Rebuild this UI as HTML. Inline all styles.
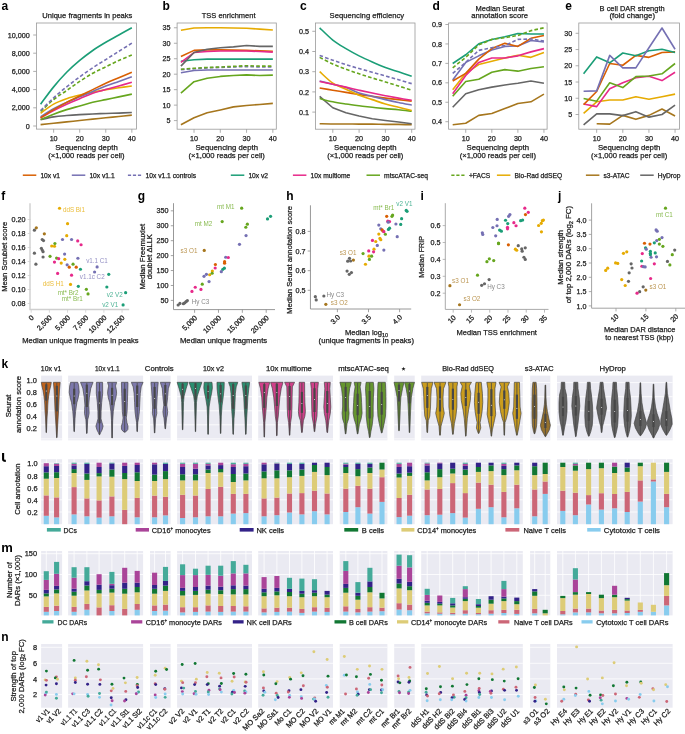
<!DOCTYPE html>
<html><head><meta charset="utf-8"><style>
html,body{margin:0;padding:0;background:#fff;}
svg{display:block;}
text{font-family:"Liberation Sans",sans-serif;}
#fig text:not([fill]){stroke:#1c1c1c;stroke-width:0.25px;}
#wrap{will-change:transform;width:685px;height:734px;overflow:hidden;}
</style></head><body>
<div id="wrap">
<svg id="fig" width="685" height="734" viewBox="0 0 685 734" font-family="Liberation Sans, sans-serif" font-size="7.4" fill="#1c1c1c">
<rect width="685" height="734" fill="#fff"/>
<rect x="36.4" y="23" width="100.1" height="106.1" fill="none" stroke="#9a9a9a" stroke-width="0.8"/>
<line x1="33.2" y1="126" x2="36.4" y2="126" stroke="#9a9a9a" stroke-width="0.8"/>
<text x="29.8" y="128.6" text-anchor="end" font-size="7.2">0</text>
<line x1="33.2" y1="107.8" x2="36.4" y2="107.8" stroke="#9a9a9a" stroke-width="0.8"/>
<text x="29.8" y="110.4" text-anchor="end" font-size="7.2">2,000</text>
<line x1="33.2" y1="89.6" x2="36.4" y2="89.6" stroke="#9a9a9a" stroke-width="0.8"/>
<text x="29.8" y="92.2" text-anchor="end" font-size="7.2">4,000</text>
<line x1="33.2" y1="71.4" x2="36.4" y2="71.4" stroke="#9a9a9a" stroke-width="0.8"/>
<text x="29.8" y="74" text-anchor="end" font-size="7.2">6,000</text>
<line x1="33.2" y1="53.2" x2="36.4" y2="53.2" stroke="#9a9a9a" stroke-width="0.8"/>
<text x="29.8" y="55.8" text-anchor="end" font-size="7.2">8,000</text>
<line x1="33.2" y1="35" x2="36.4" y2="35" stroke="#9a9a9a" stroke-width="0.8"/>
<text x="29.8" y="37.6" text-anchor="end" font-size="7.2">10,000</text>
<line x1="53.64" y1="129.1" x2="53.64" y2="132.7" stroke="#9a9a9a" stroke-width="0.8"/>
<text x="53.64" y="141" text-anchor="middle" font-size="7.2">10</text>
<line x1="79.71" y1="129.1" x2="79.71" y2="132.7" stroke="#9a9a9a" stroke-width="0.8"/>
<text x="79.71" y="141" text-anchor="middle" font-size="7.2">20</text>
<line x1="105.78" y1="129.1" x2="105.78" y2="132.7" stroke="#9a9a9a" stroke-width="0.8"/>
<text x="105.78" y="141" text-anchor="middle" font-size="7.2">30</text>
<line x1="131.84" y1="129.1" x2="131.84" y2="132.7" stroke="#9a9a9a" stroke-width="0.8"/>
<text x="131.84" y="141" text-anchor="middle" font-size="7.2">40</text>
<text x="86.45" y="149.9" text-anchor="middle" font-size="7.75">Sequencing depth</text>
<text x="86.45" y="157.9" text-anchor="middle" font-size="7.6">(×1,000 reads per cell)</text>
<text x="42.3" y="18" textLength="90.1" lengthAdjust="spacingAndGlyphs" font-size="7.6">Unique fragments in peaks</text>
<path d="M40.6,124.64 C42.77,124.41 49.29,123.72 53.64,123.27 C57.98,122.81 62.33,122.36 66.67,121.91 C71.02,121.45 75.36,121 79.71,120.54 C84.05,120.09 88.4,119.63 92.74,119.17 C97.09,118.72 101.43,118.27 105.78,117.81 C110.12,117.36 114.47,116.9 118.81,116.44 C123.16,115.99 129.67,115.31 131.84,115.08" fill="none" stroke="#a6761d" stroke-width="1.6" stroke-linejoin="round"/>
<path d="M40.6,119.63 C42.77,119.17 49.29,117.58 53.64,116.9 C57.98,116.22 62.33,115.91 66.67,115.53 C71.02,115.16 75.36,114.88 79.71,114.62 C84.05,114.37 88.4,114.19 92.74,113.99 C97.09,113.79 101.43,113.59 105.78,113.44 C110.12,113.29 114.47,113.23 118.81,113.08 C123.16,112.93 129.67,112.62 131.84,112.53" fill="none" stroke="#666666" stroke-width="1.6" stroke-linejoin="round"/>
<path d="M40.6,119.63 C42.77,118.72 49.29,115.84 53.64,114.17 C57.98,112.5 62.33,110.98 66.67,109.62 C71.02,108.26 75.36,107.19 79.71,105.98 C84.05,104.77 88.4,103.4 92.74,102.34 C97.09,101.28 101.43,100.52 105.78,99.61 C110.12,98.7 114.47,97.79 118.81,96.88 C123.16,95.97 129.67,94.61 131.84,94.15" fill="none" stroke="#66a61e" stroke-width="1.6" stroke-linejoin="round"/>
<path d="M40.6,113.26 C42.77,111.74 49.29,106.59 53.64,104.16 C57.98,101.73 62.33,100.22 66.67,98.7 C71.02,97.18 75.36,96.12 79.71,95.06 C84.05,94 88.4,93.24 92.74,92.33 C97.09,91.42 101.43,90.36 105.78,89.6 C110.12,88.84 114.47,88.39 118.81,87.78 C123.16,87.17 129.67,86.26 131.84,85.96" fill="none" stroke="#e6ab02" stroke-width="1.6" stroke-linejoin="round"/>
<path d="M40.6,117.81 C42.77,116.6 49.29,112.81 53.64,110.53 C57.98,108.25 62.33,106.13 66.67,104.16 C71.02,102.19 75.36,100.52 79.71,98.7 C84.05,96.88 88.4,94.76 92.74,93.24 C97.09,91.72 101.43,90.81 105.78,89.6 C110.12,88.39 114.47,87.17 118.81,85.96 C123.16,84.75 129.67,82.93 131.84,82.32" fill="none" stroke="#e7298a" stroke-width="1.6" stroke-linejoin="round"/>
<path d="M40.6,116.9 C42.77,115.54 49.29,111.14 53.64,108.71 C57.98,106.28 62.33,104.31 66.67,102.34 C71.02,100.37 75.36,98.7 79.71,96.88 C84.05,95.06 88.4,93.24 92.74,91.42 C97.09,89.6 101.43,87.63 105.78,85.96 C110.12,84.29 114.47,82.93 118.81,81.41 C123.16,79.89 129.67,77.62 131.84,76.86" fill="none" stroke="#7570b3" stroke-width="1.6" stroke-linejoin="round"/>
<path d="M40.6,117.81 C42.77,116.45 49.29,112.2 53.64,109.62 C57.98,107.04 62.33,104.62 66.67,102.34 C71.02,100.06 75.36,98.09 79.71,95.97 C84.05,93.85 88.4,91.72 92.74,89.6 C97.09,87.48 101.43,85.2 105.78,83.23 C110.12,81.26 114.47,79.59 118.81,77.77 C123.16,75.95 129.67,73.22 131.84,72.31" fill="none" stroke="#d95f02" stroke-width="1.6" stroke-linejoin="round"/>
<path d="M40.6,111.44 C42.77,109.47 49.29,103.1 53.64,99.61 C57.98,96.12 62.33,93.54 66.67,90.51 C71.02,87.48 75.36,84.29 79.71,81.41 C84.05,78.53 88.4,75.65 92.74,73.22 C97.09,70.79 101.43,68.97 105.78,66.85 C110.12,64.73 114.47,62.45 118.81,60.48 C123.16,58.51 129.67,55.93 131.84,55.02" fill="none" stroke="#66a61e" stroke-width="1.6" stroke-linejoin="round" stroke-dasharray="3.6,2.2"/>
<path d="M40.6,110.53 C42.77,108.41 49.29,101.73 53.64,97.79 C57.98,93.85 62.33,90.36 66.67,86.87 C71.02,83.38 75.36,80.05 79.71,76.86 C84.05,73.67 88.4,70.64 92.74,67.76 C97.09,64.88 101.43,62.3 105.78,59.57 C110.12,56.84 114.47,54.11 118.81,51.38 C123.16,48.65 129.67,44.55 131.84,43.19" fill="none" stroke="#7570b3" stroke-width="1.6" stroke-linejoin="round" stroke-dasharray="3.6,2.2"/>
<path d="M40.6,104.16 C42.77,101.28 49.29,92.18 53.64,86.87 C57.98,81.56 62.33,76.71 66.67,72.31 C71.02,67.91 75.36,64.12 79.71,60.48 C84.05,56.84 88.4,53.5 92.74,50.47 C97.09,47.44 101.43,44.86 105.78,42.28 C110.12,39.7 114.47,37.43 118.81,35 C123.16,32.57 129.67,28.93 131.84,27.72" fill="none" stroke="#1b9e77" stroke-width="1.6" stroke-linejoin="round"/>
<text x="1.5" y="10.3" font-size="12" font-weight="bold" fill="#000">a</text>
<rect x="177.1" y="23" width="99.2" height="106.2" fill="none" stroke="#9a9a9a" stroke-width="0.8"/>
<line x1="173.9" y1="120.6" x2="177.1" y2="120.6" stroke="#9a9a9a" stroke-width="0.8"/>
<text x="170.5" y="123.2" text-anchor="end" font-size="7.2">5</text>
<line x1="173.9" y1="105.13" x2="177.1" y2="105.13" stroke="#9a9a9a" stroke-width="0.8"/>
<text x="170.5" y="107.73" text-anchor="end" font-size="7.2">10</text>
<line x1="173.9" y1="89.66" x2="177.1" y2="89.66" stroke="#9a9a9a" stroke-width="0.8"/>
<text x="170.5" y="92.26" text-anchor="end" font-size="7.2">15</text>
<line x1="173.9" y1="74.19" x2="177.1" y2="74.19" stroke="#9a9a9a" stroke-width="0.8"/>
<text x="170.5" y="76.79" text-anchor="end" font-size="7.2">20</text>
<line x1="173.9" y1="58.72" x2="177.1" y2="58.72" stroke="#9a9a9a" stroke-width="0.8"/>
<text x="170.5" y="61.32" text-anchor="end" font-size="7.2">25</text>
<line x1="173.9" y1="43.25" x2="177.1" y2="43.25" stroke="#9a9a9a" stroke-width="0.8"/>
<text x="170.5" y="45.85" text-anchor="end" font-size="7.2">30</text>
<line x1="173.9" y1="27.78" x2="177.1" y2="27.78" stroke="#9a9a9a" stroke-width="0.8"/>
<text x="170.5" y="30.38" text-anchor="end" font-size="7.2">35</text>
<line x1="194.03" y1="129.2" x2="194.03" y2="132.8" stroke="#9a9a9a" stroke-width="0.8"/>
<text x="194.03" y="141" text-anchor="middle" font-size="7.2">10</text>
<line x1="220.31" y1="129.2" x2="220.31" y2="132.8" stroke="#9a9a9a" stroke-width="0.8"/>
<text x="220.31" y="141" text-anchor="middle" font-size="7.2">20</text>
<line x1="246.57" y1="129.2" x2="246.57" y2="132.8" stroke="#9a9a9a" stroke-width="0.8"/>
<text x="246.57" y="141" text-anchor="middle" font-size="7.2">30</text>
<line x1="272.85" y1="129.2" x2="272.85" y2="132.8" stroke="#9a9a9a" stroke-width="0.8"/>
<text x="272.85" y="141" text-anchor="middle" font-size="7.2">40</text>
<text x="226.7" y="149.9" text-anchor="middle" font-size="7.75">Sequencing depth</text>
<text x="226.7" y="157.9" text-anchor="middle" font-size="7.6">(×1,000 reads per cell)</text>
<text x="201.8" y="18" textLength="53.7" lengthAdjust="spacingAndGlyphs" font-size="7.6">TSS enrichment</text>
<polyline points="180.9,124.81 194.03,117.8 207.17,112.77 220.31,109.92 233.44,106.85 246.57,105.54 259.71,104.44 272.85,103.35" fill="none" stroke="#a6761d" stroke-width="1.6" stroke-linejoin="round"/>
<polyline points="180.9,93.06 194.03,81.67 207.17,78.17 220.31,76.42 233.44,75.54 246.57,74.89 259.71,75.54 272.85,75.1" fill="none" stroke="#66a61e" stroke-width="1.6" stroke-linejoin="round"/>
<polyline points="180.9,72.7 194.03,70.51 207.17,70.07 220.31,70.07 233.44,70.07 246.57,70.07 259.71,70.07 272.85,70.07" fill="none" stroke="#7570b3" stroke-width="1.6" stroke-linejoin="round"/>
<polyline points="180.9,69.63 194.03,68.75 207.17,67.88 220.31,67.44 233.44,67 246.57,66.56 259.71,67 272.85,67" fill="none" stroke="#7570b3" stroke-width="1.6" stroke-linejoin="round" stroke-dasharray="3.6,2.2"/>
<polyline points="180.9,69.19 194.03,68.32 207.17,67.44 220.31,67 233.44,66.35 246.57,65.69 259.71,66.13 272.85,66.13" fill="none" stroke="#66a61e" stroke-width="1.6" stroke-linejoin="round" stroke-dasharray="3.6,2.2"/>
<polyline points="180.9,61.31 194.03,59.78 207.17,59.12 220.31,59.12 233.44,59.12 246.57,59.12 259.71,59.12 272.85,59.12" fill="none" stroke="#1b9e77" stroke-width="1.6" stroke-linejoin="round"/>
<polyline points="180.9,56.49 194.03,50.36 207.17,49.92 220.31,49.92 233.44,50.14 246.57,50.36 259.71,50.8 272.85,51.24" fill="none" stroke="#d95f02" stroke-width="1.6" stroke-linejoin="round"/>
<polyline points="180.9,62.4 194.03,52.55 207.17,51.46 220.31,51.02 233.44,51.02 246.57,51.02 259.71,51.46 272.85,52.11" fill="none" stroke="#e7298a" stroke-width="1.6" stroke-linejoin="round"/>
<polyline points="180.9,66.13 194.03,52.55 207.17,49.27 220.31,47.73 233.44,46.86 246.57,45.54 259.71,46.42 272.85,46.42" fill="none" stroke="#666666" stroke-width="1.6" stroke-linejoin="round"/>
<polyline points="180.9,30.22 194.03,28.03 207.17,27.81 220.31,27.81 233.44,28.03 246.57,28.25 259.71,29.12 272.85,30" fill="none" stroke="#e6ab02" stroke-width="1.6" stroke-linejoin="round"/>
<text x="162.6" y="10.3" font-size="12" font-weight="bold" fill="#000">b</text>
<rect x="315.5" y="23" width="99.5" height="106.2" fill="none" stroke="#9a9a9a" stroke-width="0.8"/>
<line x1="312.3" y1="112.1" x2="315.5" y2="112.1" stroke="#9a9a9a" stroke-width="0.8"/>
<text x="308.9" y="114.7" text-anchor="end" font-size="7.2">0.1</text>
<line x1="312.3" y1="91.9" x2="315.5" y2="91.9" stroke="#9a9a9a" stroke-width="0.8"/>
<text x="308.9" y="94.5" text-anchor="end" font-size="7.2">0.2</text>
<line x1="312.3" y1="71.7" x2="315.5" y2="71.7" stroke="#9a9a9a" stroke-width="0.8"/>
<text x="308.9" y="74.3" text-anchor="end" font-size="7.2">0.3</text>
<line x1="312.3" y1="51.5" x2="315.5" y2="51.5" stroke="#9a9a9a" stroke-width="0.8"/>
<text x="308.9" y="54.1" text-anchor="end" font-size="7.2">0.4</text>
<line x1="312.3" y1="31.3" x2="315.5" y2="31.3" stroke="#9a9a9a" stroke-width="0.8"/>
<text x="308.9" y="33.9" text-anchor="end" font-size="7.2">0.5</text>
<line x1="332.8" y1="129.2" x2="332.8" y2="132.8" stroke="#9a9a9a" stroke-width="0.8"/>
<text x="332.8" y="141" text-anchor="middle" font-size="7.2">10</text>
<line x1="359.1" y1="129.2" x2="359.1" y2="132.8" stroke="#9a9a9a" stroke-width="0.8"/>
<text x="359.1" y="141" text-anchor="middle" font-size="7.2">20</text>
<line x1="385.4" y1="129.2" x2="385.4" y2="132.8" stroke="#9a9a9a" stroke-width="0.8"/>
<text x="385.4" y="141" text-anchor="middle" font-size="7.2">30</text>
<line x1="411.7" y1="129.2" x2="411.7" y2="132.8" stroke="#9a9a9a" stroke-width="0.8"/>
<text x="411.7" y="141" text-anchor="middle" font-size="7.2">40</text>
<text x="365.25" y="149.9" text-anchor="middle" font-size="7.75">Sequencing depth</text>
<text x="365.25" y="157.9" text-anchor="middle" font-size="7.6">(×1,000 reads per cell)</text>
<text x="329.6" y="18" textLength="74.6" lengthAdjust="spacingAndGlyphs" font-size="7.6">Sequencing efficiency</text>
<path d="M319.65,123.71 C321.84,123.75 328.42,123.9 332.8,123.93 C337.18,123.97 341.57,123.9 345.95,123.93 C350.33,123.97 354.72,124.12 359.1,124.15 C363.48,124.19 367.87,124.12 372.25,124.15 C376.63,124.19 381.02,124.33 385.4,124.37 C389.78,124.41 394.17,124.3 398.55,124.37 C402.93,124.44 409.51,124.74 411.7,124.81" fill="none" stroke="#a6761d" stroke-width="1.6" stroke-linejoin="round"/>
<polyline points="319.65,96.34 332.8,107.73 345.95,112.77 359.1,116.05 372.25,118.68 385.4,120.43 398.55,121.96 411.7,123.71" fill="none" stroke="#666666" stroke-width="1.6" stroke-linejoin="round"/>
<path d="M319.65,98.53 C321.84,99.08 328.42,100.91 332.8,101.82 C337.18,102.73 341.57,103.35 345.95,104.01 C350.33,104.66 354.72,105.21 359.1,105.76 C363.48,106.31 367.87,106.82 372.25,107.29 C376.63,107.77 381.02,108.2 385.4,108.61 C389.78,109.01 394.17,109.26 398.55,109.7 C402.93,110.14 409.51,110.98 411.7,111.23" fill="none" stroke="#66a61e" stroke-width="1.6" stroke-linejoin="round"/>
<path d="M319.65,88.02 C321.84,88.39 328.42,89.48 332.8,90.21 C337.18,90.94 341.57,91.67 345.95,92.4 C350.33,93.13 354.72,93.93 359.1,94.59 C363.48,95.25 367.87,95.76 372.25,96.34 C376.63,96.93 381.02,97.55 385.4,98.1 C389.78,98.64 394.17,99.12 398.55,99.63 C402.93,100.14 409.51,100.91 411.7,101.16" fill="none" stroke="#d95f02" stroke-width="1.6" stroke-linejoin="round"/>
<path d="M319.65,81.02 C321.84,81.56 328.42,83.21 332.8,84.3 C337.18,85.4 341.57,86.13 345.95,87.58 C350.33,89.04 354.72,91.6 359.1,93.06 C363.48,94.52 367.87,95.25 372.25,96.34 C376.63,97.44 381.02,98.61 385.4,99.63 C389.78,100.65 394.17,101.56 398.55,102.47 C402.93,103.39 409.51,104.66 411.7,105.1" fill="none" stroke="#7570b3" stroke-width="1.6" stroke-linejoin="round"/>
<path d="M319.65,71.6 C321.84,73.53 328.42,80.25 332.8,83.21 C337.18,86.16 341.57,87.33 345.95,89.34 C350.33,91.34 354.72,93.53 359.1,95.25 C363.48,96.96 367.87,98.17 372.25,99.63 C376.63,101.09 381.02,102.73 385.4,104.01 C389.78,105.28 394.17,106.2 398.55,107.29 C402.93,108.39 409.51,110.03 411.7,110.58" fill="none" stroke="#e6ab02" stroke-width="1.6" stroke-linejoin="round"/>
<path d="M319.65,81.45 C321.84,81.93 328.42,83.35 332.8,84.3 C337.18,85.25 341.57,86.16 345.95,87.15 C350.33,88.13 354.72,89.23 359.1,90.21 C363.48,91.2 367.87,92.15 372.25,93.06 C376.63,93.97 381.02,94.85 385.4,95.69 C389.78,96.53 394.17,97.33 398.55,98.1 C402.93,98.86 409.51,99.92 411.7,100.28" fill="none" stroke="#e7298a" stroke-width="1.6" stroke-linejoin="round"/>
<path d="M319.65,57.37 C321.84,58.46 328.42,61.97 332.8,63.94 C337.18,65.91 341.57,67.55 345.95,69.19 C350.33,70.83 354.72,72.33 359.1,73.79 C363.48,75.25 367.87,76.6 372.25,77.95 C376.63,79.3 381.02,80.54 385.4,81.89 C389.78,83.24 394.17,84.67 398.55,86.05 C402.93,87.44 409.51,89.52 411.7,90.21" fill="none" stroke="#66a61e" stroke-width="1.6" stroke-linejoin="round" stroke-dasharray="3.6,2.2"/>
<path d="M319.65,55.4 C321.84,56.2 328.42,58.68 332.8,60.21 C337.18,61.75 341.57,63.21 345.95,64.59 C350.33,65.98 354.72,67.26 359.1,68.54 C363.48,69.81 367.87,71.02 372.25,72.26 C376.63,73.5 381.02,74.74 385.4,75.98 C389.78,77.22 394.17,78.42 398.55,79.7 C402.93,80.98 409.51,82.99 411.7,83.64" fill="none" stroke="#7570b3" stroke-width="1.6" stroke-linejoin="round" stroke-dasharray="3.6,2.2"/>
<path d="M319.65,27.81 C321.84,29.85 328.42,36.6 332.8,40.07 C337.18,43.54 341.57,45.98 345.95,48.61 C350.33,51.24 354.72,53.61 359.1,55.84 C363.48,58.06 367.87,60.03 372.25,61.97 C376.63,63.9 381.02,65.8 385.4,67.44 C389.78,69.08 394.17,70.36 398.55,71.82 C402.93,73.28 409.51,75.47 411.7,76.2" fill="none" stroke="#1b9e77" stroke-width="1.6" stroke-linejoin="round"/>
<text x="300" y="10.3" font-size="12" font-weight="bold" fill="#000">c</text>
<rect x="448.6" y="23" width="98.5" height="106.2" fill="none" stroke="#9a9a9a" stroke-width="0.8"/>
<line x1="445.4" y1="121.7" x2="448.6" y2="121.7" stroke="#9a9a9a" stroke-width="0.8"/>
<text x="442" y="124.3" text-anchor="end" font-size="7.2">0.4</text>
<line x1="445.4" y1="102.26" x2="448.6" y2="102.26" stroke="#9a9a9a" stroke-width="0.8"/>
<text x="442" y="104.86" text-anchor="end" font-size="7.2">0.5</text>
<line x1="445.4" y1="82.82" x2="448.6" y2="82.82" stroke="#9a9a9a" stroke-width="0.8"/>
<text x="442" y="85.42" text-anchor="end" font-size="7.2">0.6</text>
<line x1="445.4" y1="63.38" x2="448.6" y2="63.38" stroke="#9a9a9a" stroke-width="0.8"/>
<text x="442" y="65.98" text-anchor="end" font-size="7.2">0.7</text>
<line x1="445.4" y1="43.94" x2="448.6" y2="43.94" stroke="#9a9a9a" stroke-width="0.8"/>
<text x="442" y="46.54" text-anchor="end" font-size="7.2">0.8</text>
<line x1="445.4" y1="24.5" x2="448.6" y2="24.5" stroke="#9a9a9a" stroke-width="0.8"/>
<text x="442" y="27.1" text-anchor="end" font-size="7.2">0.9</text>
<line x1="465.74" y1="129.2" x2="465.74" y2="132.8" stroke="#9a9a9a" stroke-width="0.8"/>
<text x="465.74" y="141" text-anchor="middle" font-size="7.2">10</text>
<line x1="491.81" y1="129.2" x2="491.81" y2="132.8" stroke="#9a9a9a" stroke-width="0.8"/>
<text x="491.81" y="141" text-anchor="middle" font-size="7.2">20</text>
<line x1="517.88" y1="129.2" x2="517.88" y2="132.8" stroke="#9a9a9a" stroke-width="0.8"/>
<text x="517.88" y="141" text-anchor="middle" font-size="7.2">30</text>
<line x1="543.94" y1="129.2" x2="543.94" y2="132.8" stroke="#9a9a9a" stroke-width="0.8"/>
<text x="543.94" y="141" text-anchor="middle" font-size="7.2">40</text>
<text x="497.85" y="149.9" text-anchor="middle" font-size="7.75">Sequencing depth</text>
<text x="497.85" y="157.9" text-anchor="middle" font-size="7.6">(×1,000 reads per cell)</text>
<text x="475.5" y="10.6" textLength="48.9" lengthAdjust="spacingAndGlyphs" font-size="7.6">Median Seurat</text>
<text x="471.2" y="18.2" textLength="56.9" lengthAdjust="spacingAndGlyphs" font-size="7.6">annotation score</text>
<polyline points="452.7,124.81 465.74,123.28 478.77,115.39 491.81,113.42 504.84,108.61 517.88,103.57 530.91,101.82 543.94,94.15" fill="none" stroke="#a6761d" stroke-width="1.6" stroke-linejoin="round"/>
<polyline points="452.7,107.29 465.74,93.72 478.77,89.77 491.81,87.15 504.84,84.96 517.88,83.21 530.91,81.02 543.94,83.21" fill="none" stroke="#666666" stroke-width="1.6" stroke-linejoin="round"/>
<polyline points="452.7,96.34 465.74,81.45 478.77,79.26 491.81,72.26 504.84,69.63 517.88,71.16 530.91,68.54 543.94,66.78" fill="none" stroke="#66a61e" stroke-width="1.6" stroke-linejoin="round"/>
<polyline points="452.7,89.77 465.74,73.35 478.77,64.59 491.81,61.31 504.84,58.02 517.88,55.18 530.91,57.37 543.94,52.55" fill="none" stroke="#e6ab02" stroke-width="1.6" stroke-linejoin="round"/>
<polyline points="452.7,93.72 465.74,75.54 478.77,62.4 491.81,58.02 504.84,58.02 517.88,55.84 530.91,51.89 543.94,48.61" fill="none" stroke="#e7298a" stroke-width="1.6" stroke-linejoin="round"/>
<polyline points="452.7,79.92 465.74,62.4 478.77,55.84 491.81,49.92 504.84,46.42 517.88,45.98 530.91,40.51 543.94,42.04" fill="none" stroke="#7570b3" stroke-width="1.6" stroke-linejoin="round"/>
<polyline points="452.7,81.02 465.74,73.35 478.77,59.12 491.81,48.61 504.84,43.35 517.88,46.42 530.91,38.32 543.94,35.47" fill="none" stroke="#d95f02" stroke-width="1.6" stroke-linejoin="round"/>
<polyline points="452.7,73.35 465.74,62.4 478.77,50.36 491.81,47.73 504.84,45.54 517.88,39.41 530.91,38.98 543.94,41.16" fill="none" stroke="#7570b3" stroke-width="1.6" stroke-linejoin="round" stroke-dasharray="3.6,2.2"/>
<polyline points="452.7,63.5 465.74,54.74 478.77,43.79 491.81,39.41 504.84,36.79 517.88,33.5 530.91,33.94 543.94,33.94" fill="none" stroke="#1b9e77" stroke-width="1.6" stroke-linejoin="round"/>
<polyline points="452.7,67.88 465.74,57.37 478.77,44.89 491.81,39.41 504.84,37.66 517.88,35.47 530.91,30.65 543.94,27.81" fill="none" stroke="#66a61e" stroke-width="1.6" stroke-linejoin="round" stroke-dasharray="3.6,2.2"/>
<text x="432.5" y="10.3" font-size="12" font-weight="bold" fill="#000">d</text>
<rect x="578.8" y="23" width="100.7" height="106.2" fill="none" stroke="#9a9a9a" stroke-width="0.8"/>
<line x1="575.6" y1="114.5" x2="578.8" y2="114.5" stroke="#9a9a9a" stroke-width="0.8"/>
<text x="572.2" y="117.1" text-anchor="end" font-size="7.2">5</text>
<line x1="575.6" y1="98.26" x2="578.8" y2="98.26" stroke="#9a9a9a" stroke-width="0.8"/>
<text x="572.2" y="100.86" text-anchor="end" font-size="7.2">10</text>
<line x1="575.6" y1="82.02" x2="578.8" y2="82.02" stroke="#9a9a9a" stroke-width="0.8"/>
<text x="572.2" y="84.62" text-anchor="end" font-size="7.2">15</text>
<line x1="575.6" y1="65.78" x2="578.8" y2="65.78" stroke="#9a9a9a" stroke-width="0.8"/>
<text x="572.2" y="68.38" text-anchor="end" font-size="7.2">20</text>
<line x1="575.6" y1="49.54" x2="578.8" y2="49.54" stroke="#9a9a9a" stroke-width="0.8"/>
<text x="572.2" y="52.14" text-anchor="end" font-size="7.2">25</text>
<line x1="575.6" y1="33.3" x2="578.8" y2="33.3" stroke="#9a9a9a" stroke-width="0.8"/>
<text x="572.2" y="35.9" text-anchor="end" font-size="7.2">30</text>
<line x1="596.67" y1="129.2" x2="596.67" y2="132.8" stroke="#9a9a9a" stroke-width="0.8"/>
<text x="596.67" y="141" text-anchor="middle" font-size="7.2">10</text>
<line x1="622.8" y1="129.2" x2="622.8" y2="132.8" stroke="#9a9a9a" stroke-width="0.8"/>
<text x="622.8" y="141" text-anchor="middle" font-size="7.2">20</text>
<line x1="648.93" y1="129.2" x2="648.93" y2="132.8" stroke="#9a9a9a" stroke-width="0.8"/>
<text x="648.93" y="141" text-anchor="middle" font-size="7.2">30</text>
<line x1="675.06" y1="129.2" x2="675.06" y2="132.8" stroke="#9a9a9a" stroke-width="0.8"/>
<text x="675.06" y="141" text-anchor="middle" font-size="7.2">40</text>
<text x="629.15" y="149.9" text-anchor="middle" font-size="7.75">Sequencing depth</text>
<text x="629.15" y="157.9" text-anchor="middle" font-size="7.6">(×1,000 reads per cell)</text>
<text x="599.6" y="10.6" textLength="65" lengthAdjust="spacingAndGlyphs" font-size="7.6">B cell DAR strength</text>
<text x="609.4" y="18.2" textLength="45.6" lengthAdjust="spacingAndGlyphs" font-size="7.6">(fold change)</text>
<polyline points="596.67,123.71 609.73,124.15 622.8,115.39 635.86,119.33 648.93,115.39 661.99,109.04 675.06,116.05" fill="none" stroke="#a6761d" stroke-width="1.6" stroke-linejoin="round"/>
<polyline points="583.6,124.81 596.67,113.86 609.73,113.86 622.8,115.61 635.86,111.67 648.93,117.14 661.99,114.52 675.06,105.1" fill="none" stroke="#666666" stroke-width="1.6" stroke-linejoin="round"/>
<polyline points="583.6,113.42 596.67,101.82 609.73,100.07 622.8,100.07 635.86,96.78 648.93,99.19 661.99,96.78 675.06,94.15" fill="none" stroke="#e6ab02" stroke-width="1.6" stroke-linejoin="round"/>
<polyline points="583.6,104.01 596.67,106.63 609.73,88.68 622.8,82.77 635.86,77.73 648.93,76.2 661.99,80.58 675.06,72.26" fill="none" stroke="#e7298a" stroke-width="1.6" stroke-linejoin="round"/>
<polyline points="583.6,98.53 596.67,101.16 609.73,82.77 622.8,87.58 635.86,76.64 648.93,75.98 661.99,73.79 675.06,63.5" fill="none" stroke="#66a61e" stroke-width="1.6" stroke-linejoin="round"/>
<polyline points="583.6,104.66 596.67,91.53 609.73,63.5 622.8,65.25 635.86,55.4 648.93,57.37 661.99,52.55 675.06,51.89" fill="none" stroke="#d95f02" stroke-width="1.6" stroke-linejoin="round"/>
<polyline points="583.6,73.79 596.67,56.93 609.73,62.84 622.8,52.99 635.86,55.84 648.93,50.8 661.99,49.27 675.06,52.55" fill="none" stroke="#1b9e77" stroke-width="1.6" stroke-linejoin="round"/>
<polyline points="583.6,91.31 596.67,90.87 609.73,55.4 622.8,67.88 635.86,67.88 648.93,47.73 661.99,28.03 675.06,49.27" fill="none" stroke="#7570b3" stroke-width="1.6" stroke-linejoin="round"/>
<text x="565.3" y="10.3" font-size="12" font-weight="bold" fill="#000">e</text>
<line x1="22.8" y1="175.2" x2="36.3" y2="175.2" stroke="#d95f02" stroke-width="1.5"/>
<text x="40.4" y="177.6" font-size="6.7">10x v1</text>
<line x1="71.8" y1="175.2" x2="85.3" y2="175.2" stroke="#7570b3" stroke-width="1.5"/>
<text x="89.4" y="177.6" font-size="6.7">10x v1.1</text>
<line x1="127.9" y1="175.2" x2="141.4" y2="175.2" stroke="#7570b3" stroke-width="1.5" stroke-dasharray="3.2,1.8"/>
<text x="145.5" y="177.6" font-size="6.7">10x v1.1 controls</text>
<line x1="230.8" y1="175.2" x2="244.3" y2="175.2" stroke="#1b9e77" stroke-width="1.5"/>
<text x="248.4" y="177.6" font-size="6.7">10x v2</text>
<line x1="292.9" y1="175.2" x2="306.4" y2="175.2" stroke="#e7298a" stroke-width="1.5"/>
<text x="310.5" y="177.6" font-size="6.7">10x multiome</text>
<line x1="366.5" y1="175.2" x2="380" y2="175.2" stroke="#66a61e" stroke-width="1.5"/>
<text x="384.1" y="177.6" font-size="6.7">mtscATAC-seq</text>
<line x1="451.3" y1="175.2" x2="464.8" y2="175.2" stroke="#66a61e" stroke-width="1.5" stroke-dasharray="3.2,1.8"/>
<text x="468.9" y="177.6" font-size="6.7">+FACS</text>
<line x1="496.9" y1="175.2" x2="510.4" y2="175.2" stroke="#e6ab02" stroke-width="1.5"/>
<text x="514.5" y="177.6" font-size="6.7">Bio-Rad ddSEQ</text>
<line x1="585.9" y1="175.2" x2="599.4" y2="175.2" stroke="#a6761d" stroke-width="1.5"/>
<text x="603.5" y="177.6" font-size="6.7">s3-ATAC</text>
<line x1="640.2" y1="175.2" x2="653.7" y2="175.2" stroke="#666666" stroke-width="1.5"/>
<text x="657.8" y="177.6" font-size="6.7">HyDrop</text>
<path d="M30,203.3 V309.5 H129.2" fill="none" stroke="#cfcfcf" stroke-width="1.4"/>
<line x1="27.7" y1="219.5" x2="30.5" y2="219.5" stroke="#cfcfcf" stroke-width="0.8"/>
<text x="25.5" y="222.1" text-anchor="end" font-size="7.2">0.20</text>
<line x1="27.7" y1="233.5" x2="30.5" y2="233.5" stroke="#cfcfcf" stroke-width="0.8"/>
<text x="25.5" y="236.1" text-anchor="end" font-size="7.2">0.18</text>
<line x1="27.7" y1="247.5" x2="30.5" y2="247.5" stroke="#cfcfcf" stroke-width="0.8"/>
<text x="25.5" y="250.1" text-anchor="end" font-size="7.2">0.16</text>
<line x1="27.7" y1="261.5" x2="30.5" y2="261.5" stroke="#cfcfcf" stroke-width="0.8"/>
<text x="25.5" y="264.1" text-anchor="end" font-size="7.2">0.14</text>
<line x1="27.7" y1="275.5" x2="30.5" y2="275.5" stroke="#cfcfcf" stroke-width="0.8"/>
<text x="25.5" y="278.1" text-anchor="end" font-size="7.2">0.12</text>
<line x1="27.7" y1="289.5" x2="30.5" y2="289.5" stroke="#cfcfcf" stroke-width="0.8"/>
<text x="25.5" y="292.1" text-anchor="end" font-size="7.2">0.10</text>
<line x1="27.7" y1="303.5" x2="30.5" y2="303.5" stroke="#cfcfcf" stroke-width="0.8"/>
<text x="25.5" y="306.1" text-anchor="end" font-size="7.2">0.08</text>
<line x1="31.2" y1="309.5" x2="31.2" y2="312.7" stroke="#cfcfcf" stroke-width="0.8"/>
<text x="34.3" y="318.2" text-anchor="end" font-size="7.2" transform="rotate(-45 34.3 318.2)">0</text>
<line x1="49.37" y1="309.5" x2="49.37" y2="312.7" stroke="#cfcfcf" stroke-width="0.8"/>
<text x="52.47" y="318.2" text-anchor="end" font-size="7.2" transform="rotate(-45 52.47 318.2)">2,500</text>
<line x1="67.54" y1="309.5" x2="67.54" y2="312.7" stroke="#cfcfcf" stroke-width="0.8"/>
<text x="70.64" y="318.2" text-anchor="end" font-size="7.2" transform="rotate(-45 70.64 318.2)">5,000</text>
<line x1="85.71" y1="309.5" x2="85.71" y2="312.7" stroke="#cfcfcf" stroke-width="0.8"/>
<text x="88.81" y="318.2" text-anchor="end" font-size="7.2" transform="rotate(-45 88.81 318.2)">7,500</text>
<line x1="103.88" y1="309.5" x2="103.88" y2="312.7" stroke="#cfcfcf" stroke-width="0.8"/>
<text x="106.98" y="318.2" text-anchor="end" font-size="7.2" transform="rotate(-45 106.98 318.2)">10,000</text>
<line x1="122.05" y1="309.5" x2="122.05" y2="312.7" stroke="#cfcfcf" stroke-width="0.8"/>
<text x="125.15" y="318.2" text-anchor="end" font-size="7.2" transform="rotate(-45 125.15 318.2)">12,500</text>
<circle cx="59.54" cy="208.23" r="1.6" fill="#e6ab02"/>
<circle cx="67.57" cy="223.64" r="1.6" fill="#e6ab02"/>
<circle cx="66.72" cy="235.68" r="1.6" fill="#e6ab02"/>
<circle cx="51.73" cy="246.02" r="1.6" fill="#e6ab02"/>
<circle cx="54.48" cy="246.23" r="1.6" fill="#e6ab02"/>
<circle cx="64.82" cy="259.32" r="1.6" fill="#e6ab02"/>
<circle cx="61.23" cy="263.12" r="1.6" fill="#e6ab02"/>
<circle cx="70.52" cy="284.45" r="1.6" fill="#e6ab02"/>
<circle cx="36.32" cy="227.86" r="1.6" fill="#a6761d"/>
<circle cx="44.34" cy="233.78" r="1.6" fill="#a6761d"/>
<circle cx="34.42" cy="230.19" r="1.6" fill="#666666"/>
<circle cx="42.23" cy="239.48" r="1.6" fill="#666666"/>
<circle cx="43.5" cy="240.53" r="1.6" fill="#666666"/>
<circle cx="41.39" cy="248.34" r="1.6" fill="#666666"/>
<circle cx="42.23" cy="250.03" r="1.6" fill="#666666"/>
<circle cx="43.07" cy="251.72" r="1.6" fill="#666666"/>
<circle cx="43.07" cy="257" r="1.6" fill="#666666"/>
<circle cx="34.42" cy="253.2" r="1.6" fill="#666666"/>
<circle cx="35.9" cy="264.18" r="1.6" fill="#666666"/>
<circle cx="54.9" cy="243.49" r="1.6" fill="#66a61e"/>
<circle cx="50.04" cy="256.37" r="1.6" fill="#66a61e"/>
<circle cx="56.59" cy="258.06" r="1.6" fill="#66a61e"/>
<circle cx="73.06" cy="264.18" r="1.6" fill="#66a61e"/>
<circle cx="86.36" cy="289.31" r="1.6" fill="#66a61e"/>
<circle cx="88.05" cy="293.95" r="1.6" fill="#66a61e"/>
<circle cx="62.5" cy="239.48" r="1.6" fill="#7570b3"/>
<circle cx="71.58" cy="239.48" r="1.6" fill="#7570b3"/>
<circle cx="64.61" cy="254.05" r="1.6" fill="#7570b3"/>
<circle cx="77.91" cy="258.27" r="1.6" fill="#7570b3"/>
<circle cx="67.15" cy="264.81" r="1.6" fill="#7570b3"/>
<circle cx="97.13" cy="266.93" r="1.6" fill="#7570b3"/>
<circle cx="94.59" cy="271.99" r="1.6" fill="#7570b3"/>
<circle cx="77.7" cy="240.95" r="1.6" fill="#e7298a"/>
<circle cx="81.08" cy="244.76" r="1.6" fill="#e7298a"/>
<circle cx="58.7" cy="258.69" r="1.6" fill="#e7298a"/>
<circle cx="54.48" cy="262.07" r="1.6" fill="#e7298a"/>
<circle cx="57.64" cy="273.47" r="1.6" fill="#e7298a"/>
<circle cx="71.58" cy="275.16" r="1.6" fill="#e7298a"/>
<circle cx="69.26" cy="267.14" r="1.6" fill="#d95f02"/>
<circle cx="76.22" cy="267.14" r="1.6" fill="#d95f02"/>
<circle cx="80.45" cy="269.25" r="1.6" fill="#1b9e77"/>
<circle cx="78.34" cy="286.35" r="1.6" fill="#1b9e77"/>
<circle cx="108.74" cy="274.32" r="1.6" fill="#1b9e77"/>
<circle cx="106.84" cy="286.98" r="1.6" fill="#1b9e77"/>
<circle cx="125.63" cy="292.69" r="1.6" fill="#1b9e77"/>
<circle cx="123.1" cy="304.93" r="1.6" fill="#1b9e77"/>
<text x="62.92" y="211.9" fill="#e6ab02" font-size="6.3" fill-opacity="0.78">ddS Bi1</text>
<text x="86.15" y="263.21" fill="#7570b3" font-size="6.3" fill-opacity="0.78">v1.1 C1</text>
<text x="79.81" y="278.63" fill="#7570b3" font-size="6.3" fill-opacity="0.78">v1.1c C2</text>
<text x="42.86" y="286.23" fill="#e6ab02" font-size="6.3" fill-opacity="0.78">ddS H1</text>
<text x="57.64" y="294.67" fill="#66a61e" font-size="6.3" fill-opacity="0.78">mt* Br2</text>
<text x="61.87" y="300.8" fill="#66a61e" font-size="6.3" fill-opacity="0.78">mt* Br1</text>
<text x="106.63" y="297" fill="#1b9e77" font-size="6.3" fill-opacity="0.78">v2 V2</text>
<text x="102.2" y="307.34" fill="#1b9e77" font-size="6.3" fill-opacity="0.78">v2 V1</text>
<text x="6.7" y="256.8" textLength="69.9" lengthAdjust="spacingAndGlyphs" text-anchor="middle" font-size="7.6" transform="rotate(-90 6.7 256.8)">Mean Scrublet score</text>
<text x="22.2" y="342.6" textLength="116.5" lengthAdjust="spacingAndGlyphs" font-size="7.6">Median unique fragments in peaks</text>
<text x="1.2" y="200.3" font-size="12" font-weight="bold" fill="#000">f</text>
<path d="M173.5,203.2 V309.6 H275" fill="none" stroke="#8c8c8c" stroke-width="0.9"/>
<line x1="170.8" y1="300.4" x2="173.6" y2="300.4" stroke="#8c8c8c" stroke-width="0.8"/>
<text x="168.6" y="303" text-anchor="end" font-size="7.2">50</text>
<line x1="170.8" y1="285.47" x2="173.6" y2="285.47" stroke="#8c8c8c" stroke-width="0.8"/>
<text x="168.6" y="288.07" text-anchor="end" font-size="7.2">100</text>
<line x1="170.8" y1="270.54" x2="173.6" y2="270.54" stroke="#8c8c8c" stroke-width="0.8"/>
<text x="168.6" y="273.14" text-anchor="end" font-size="7.2">150</text>
<line x1="170.8" y1="255.61" x2="173.6" y2="255.61" stroke="#8c8c8c" stroke-width="0.8"/>
<text x="168.6" y="258.21" text-anchor="end" font-size="7.2">200</text>
<line x1="170.8" y1="240.68" x2="173.6" y2="240.68" stroke="#8c8c8c" stroke-width="0.8"/>
<text x="168.6" y="243.28" text-anchor="end" font-size="7.2">250</text>
<line x1="170.8" y1="225.75" x2="173.6" y2="225.75" stroke="#8c8c8c" stroke-width="0.8"/>
<text x="168.6" y="228.35" text-anchor="end" font-size="7.2">300</text>
<line x1="170.8" y1="210.82" x2="173.6" y2="210.82" stroke="#8c8c8c" stroke-width="0.8"/>
<text x="168.6" y="213.42" text-anchor="end" font-size="7.2">350</text>
<line x1="194.6" y1="309.6" x2="194.6" y2="312.8" stroke="#8c8c8c" stroke-width="0.8"/>
<text x="197.7" y="318.3" text-anchor="end" font-size="7.2" transform="rotate(-45 197.7 318.3)">5,000</text>
<line x1="218.47" y1="309.6" x2="218.47" y2="312.8" stroke="#8c8c8c" stroke-width="0.8"/>
<text x="221.57" y="318.3" text-anchor="end" font-size="7.2" transform="rotate(-45 221.57 318.3)">10,000</text>
<line x1="242.34" y1="309.6" x2="242.34" y2="312.8" stroke="#8c8c8c" stroke-width="0.8"/>
<text x="245.44" y="318.3" text-anchor="end" font-size="7.2" transform="rotate(-45 245.44 318.3)">15,000</text>
<line x1="266.21" y1="309.6" x2="266.21" y2="312.8" stroke="#8c8c8c" stroke-width="0.8"/>
<text x="269.31" y="318.3" text-anchor="end" font-size="7.2" transform="rotate(-45 269.31 318.3)">20,000</text>
<circle cx="241.67" cy="208.21" r="1.6" fill="#66a61e"/>
<circle cx="222.18" cy="221.57" r="1.6" fill="#66a61e"/>
<circle cx="267.51" cy="218.94" r="1.6" fill="#1b9e77"/>
<circle cx="270.57" cy="216.31" r="1.6" fill="#1b9e77"/>
<circle cx="247.36" cy="224.19" r="1.6" fill="#66a61e"/>
<circle cx="245.83" cy="227.26" r="1.6" fill="#66a61e"/>
<circle cx="246.05" cy="235.58" r="1.6" fill="#7570b3"/>
<circle cx="239.48" cy="244.34" r="1.6" fill="#7570b3"/>
<circle cx="204.23" cy="250.47" r="1.6" fill="#a6761d"/>
<circle cx="225.69" cy="257.26" r="1.6" fill="#7570b3"/>
<circle cx="228.31" cy="257.48" r="1.6" fill="#e7298a"/>
<circle cx="224.59" cy="261.64" r="1.6" fill="#d95f02"/>
<circle cx="224.59" cy="263.17" r="1.6" fill="#d95f02"/>
<circle cx="215.4" cy="264.48" r="1.6" fill="#d95f02"/>
<circle cx="215.18" cy="267.99" r="1.6" fill="#e7298a"/>
<circle cx="224.37" cy="268.21" r="1.6" fill="#1b9e77"/>
<circle cx="222.84" cy="269.3" r="1.6" fill="#1b9e77"/>
<circle cx="221.31" cy="271.71" r="1.6" fill="#7570b3"/>
<circle cx="212.33" cy="271.05" r="1.6" fill="#e6ab02"/>
<circle cx="209.7" cy="274.77" r="1.6" fill="#e6ab02"/>
<circle cx="212.11" cy="273.24" r="1.6" fill="#66a61e"/>
<circle cx="206.42" cy="274.34" r="1.6" fill="#7570b3"/>
<circle cx="204.01" cy="276.31" r="1.6" fill="#7570b3"/>
<circle cx="209.05" cy="281.56" r="1.6" fill="#7570b3"/>
<circle cx="202.26" cy="284.19" r="1.6" fill="#66a61e"/>
<circle cx="195.25" cy="287.26" r="1.6" fill="#e7298a"/>
<circle cx="191.97" cy="291.42" r="1.6" fill="#e7298a"/>
<circle cx="200.94" cy="289.44" r="1.6" fill="#e7298a"/>
<circle cx="178.17" cy="304.99" r="1.6" fill="#666666"/>
<circle cx="179.92" cy="303.46" r="1.6" fill="#666666"/>
<circle cx="184.74" cy="302.8" r="1.6" fill="#666666"/>
<circle cx="187.37" cy="300.61" r="1.6" fill="#666666"/>
<circle cx="186.05" cy="301.71" r="1.6" fill="#666666"/>
<circle cx="183.43" cy="303.68" r="1.6" fill="#666666"/>
<text x="216.93" y="209.1" fill="#66a61e" font-size="6.3" fill-opacity="0.78">mt M1</text>
<text x="194.81" y="225.52" fill="#66a61e" font-size="6.3" fill-opacity="0.78">mt M2</text>
<text x="180.58" y="252.89" fill="#a6761d" font-size="6.3" fill-opacity="0.78">s3 O1</text>
<text x="191.75" y="304.34" fill="#666666" font-size="6.3" fill-opacity="0.78">Hy C3</text>
<text x="144.7" y="256.7" textLength="65.6" lengthAdjust="spacingAndGlyphs" text-anchor="middle" font-size="7.6" transform="rotate(-90 144.7 256.7)">Median Freemuxlet</text>
<text x="152" y="256.7" textLength="45.2" lengthAdjust="spacingAndGlyphs" text-anchor="middle" font-size="7.6" transform="rotate(-90 152 256.7)">doublet ΔLLK</text>
<text x="179.9" y="342.6" textLength="87.3" lengthAdjust="spacingAndGlyphs" font-size="7.6">Median unique fragments</text>
<text x="137.8" y="200.3" font-size="12" font-weight="bold" fill="#000">g</text>
<path d="M310.45,205.3 V309 H411.2" fill="none" stroke="#8c8c8c" stroke-width="0.9"/>
<line x1="307.7" y1="290.29" x2="310.5" y2="290.29" stroke="#8c8c8c" stroke-width="0.8"/>
<text x="305.5" y="292.89" text-anchor="end" font-size="7.2">0.5</text>
<line x1="307.7" y1="270.66" x2="310.5" y2="270.66" stroke="#8c8c8c" stroke-width="0.8"/>
<text x="305.5" y="273.26" text-anchor="end" font-size="7.2">0.6</text>
<line x1="307.7" y1="251.03" x2="310.5" y2="251.03" stroke="#8c8c8c" stroke-width="0.8"/>
<text x="305.5" y="253.63" text-anchor="end" font-size="7.2">0.7</text>
<line x1="307.7" y1="231.4" x2="310.5" y2="231.4" stroke="#8c8c8c" stroke-width="0.8"/>
<text x="305.5" y="234" text-anchor="end" font-size="7.2">0.8</text>
<line x1="337.4" y1="309" x2="337.4" y2="312.2" stroke="#8c8c8c" stroke-width="0.8"/>
<text x="340.5" y="317.7" text-anchor="end" font-size="7.2" transform="rotate(-45 340.5 317.7)">3.0</text>
<line x1="368.5" y1="309" x2="368.5" y2="312.2" stroke="#8c8c8c" stroke-width="0.8"/>
<text x="371.6" y="317.7" text-anchor="end" font-size="7.2" transform="rotate(-45 371.6 317.7)">3.5</text>
<line x1="399.6" y1="309" x2="399.6" y2="312.2" stroke="#8c8c8c" stroke-width="0.8"/>
<text x="402.7" y="317.7" text-anchor="end" font-size="7.2" transform="rotate(-45 402.7 317.7)">4.0</text>
<circle cx="406.19" cy="210.4" r="1.6" fill="#1b9e77"/>
<circle cx="407.07" cy="211.28" r="1.6" fill="#1b9e77"/>
<circle cx="392.62" cy="215" r="1.6" fill="#66a61e"/>
<circle cx="391.96" cy="216.31" r="1.6" fill="#66a61e"/>
<circle cx="386.71" cy="216.31" r="1.6" fill="#d95f02"/>
<circle cx="387.8" cy="221.13" r="1.6" fill="#e7298a"/>
<circle cx="389.55" cy="221.57" r="1.6" fill="#e7298a"/>
<circle cx="388.24" cy="222.22" r="1.6" fill="#7570b3"/>
<circle cx="401.6" cy="218.72" r="1.6" fill="#1b9e77"/>
<circle cx="400.72" cy="224.41" r="1.6" fill="#1b9e77"/>
<circle cx="395.9" cy="223.98" r="1.6" fill="#7570b3"/>
<circle cx="378.82" cy="225.07" r="1.6" fill="#7570b3"/>
<circle cx="380.79" cy="228.79" r="1.6" fill="#7570b3"/>
<circle cx="388.46" cy="229.45" r="1.6" fill="#1b9e77"/>
<circle cx="389.55" cy="228.14" r="1.6" fill="#1b9e77"/>
<circle cx="382.11" cy="229.89" r="1.6" fill="#d95f02"/>
<circle cx="382.98" cy="230.98" r="1.6" fill="#d95f02"/>
<circle cx="383.86" cy="231.64" r="1.6" fill="#e7298a"/>
<circle cx="385.39" cy="234.27" r="1.6" fill="#66a61e"/>
<circle cx="378.82" cy="234.05" r="1.6" fill="#e6ab02"/>
<circle cx="397.22" cy="236.68" r="1.6" fill="#7570b3"/>
<circle cx="379.92" cy="238.43" r="1.6" fill="#e6ab02"/>
<circle cx="380.79" cy="239.74" r="1.6" fill="#e6ab02"/>
<circle cx="372.47" cy="240.4" r="1.6" fill="#e7298a"/>
<circle cx="375.76" cy="241.49" r="1.6" fill="#e6ab02"/>
<circle cx="377.29" cy="245.43" r="1.6" fill="#7570b3"/>
<circle cx="374.01" cy="249.16" r="1.6" fill="#e6ab02"/>
<circle cx="383.86" cy="250.03" r="1.6" fill="#7570b3"/>
<circle cx="368.75" cy="250.91" r="1.6" fill="#e7298a"/>
<circle cx="373.57" cy="251.78" r="1.6" fill="#e7298a"/>
<circle cx="363.06" cy="253.54" r="1.6" fill="#66a61e"/>
<circle cx="368.97" cy="256.16" r="1.6" fill="#e6ab02"/>
<circle cx="371.6" cy="256.16" r="1.6" fill="#66a61e"/>
<circle cx="369.41" cy="259.45" r="1.6" fill="#66a61e"/>
<circle cx="365.47" cy="264.26" r="1.6" fill="#e6ab02"/>
<circle cx="349.48" cy="258.35" r="1.6" fill="#666666"/>
<circle cx="347.73" cy="261.2" r="1.6" fill="#666666"/>
<circle cx="350.58" cy="260.98" r="1.6" fill="#666666"/>
<circle cx="353.42" cy="260.1" r="1.6" fill="#a6761d"/>
<circle cx="347.07" cy="271.05" r="1.6" fill="#666666"/>
<circle cx="349.26" cy="274.34" r="1.6" fill="#666666"/>
<circle cx="351.45" cy="272.58" r="1.6" fill="#666666"/>
<circle cx="315.33" cy="296.67" r="1.6" fill="#666666"/>
<circle cx="316.2" cy="299.96" r="1.6" fill="#666666"/>
<circle cx="323.86" cy="296.01" r="1.6" fill="#666666"/>
<circle cx="325.84" cy="304.33" r="1.6" fill="#a6761d"/>
<text x="396.34" y="206.47" fill="#1b9e77" font-size="6.3" fill-opacity="0.78">v2 V1</text>
<text x="373.35" y="209.75" fill="#66a61e" font-size="6.3" fill-opacity="0.78">mt* Br1</text>
<text x="339.63" y="255.08" fill="#a6761d" font-size="6.3" fill-opacity="0.78">s3 O1</text>
<text x="326.49" y="296.68" fill="#666666" font-size="6.3" fill-opacity="0.78">Hy C3</text>
<text x="330.87" y="304.78" fill="#a6761d" font-size="6.3" fill-opacity="0.78">s3 O2</text>
<text x="292.4" y="259.9" textLength="108" lengthAdjust="spacingAndGlyphs" text-anchor="middle" font-size="7.6" transform="rotate(-90 292.4 259.9)">Median Seurat annotation score</text>
<text x="344.9" y="334.9" font-size="7.6">Median log<tspan font-size="5.4" dy="1.6">10</tspan></text>
<text x="318.6" y="342.6" textLength="95.4" lengthAdjust="spacingAndGlyphs" font-size="7.6">(unique fragments in peaks)</text>
<text x="286.3" y="199.8" font-size="12" font-weight="bold" fill="#000">h</text>
<path d="M445.3,203.2 V309.4 H548.5" fill="none" stroke="#aaaaaa" stroke-width="1"/>
<line x1="442.7" y1="293.2" x2="445.5" y2="293.2" stroke="#aaaaaa" stroke-width="0.8"/>
<text x="440.5" y="295.8" text-anchor="end" font-size="7.2">0.2</text>
<line x1="442.7" y1="276.3" x2="445.5" y2="276.3" stroke="#aaaaaa" stroke-width="0.8"/>
<text x="440.5" y="278.9" text-anchor="end" font-size="7.2">0.3</text>
<line x1="442.7" y1="259.4" x2="445.5" y2="259.4" stroke="#aaaaaa" stroke-width="0.8"/>
<text x="440.5" y="262" text-anchor="end" font-size="7.2">0.4</text>
<line x1="442.7" y1="242.5" x2="445.5" y2="242.5" stroke="#aaaaaa" stroke-width="0.8"/>
<text x="440.5" y="245.1" text-anchor="end" font-size="7.2">0.5</text>
<line x1="442.7" y1="225.6" x2="445.5" y2="225.6" stroke="#aaaaaa" stroke-width="0.8"/>
<text x="440.5" y="228.2" text-anchor="end" font-size="7.2">0.6</text>
<line x1="453.2" y1="309.4" x2="453.2" y2="312.6" stroke="#aaaaaa" stroke-width="0.8"/>
<text x="456.3" y="318.1" text-anchor="end" font-size="7.2" transform="rotate(-45 456.3 318.1)">10</text>
<line x1="471.46" y1="309.4" x2="471.46" y2="312.6" stroke="#aaaaaa" stroke-width="0.8"/>
<text x="474.56" y="318.1" text-anchor="end" font-size="7.2" transform="rotate(-45 474.56 318.1)">15</text>
<line x1="489.72" y1="309.4" x2="489.72" y2="312.6" stroke="#aaaaaa" stroke-width="0.8"/>
<text x="492.82" y="318.1" text-anchor="end" font-size="7.2" transform="rotate(-45 492.82 318.1)">20</text>
<line x1="507.98" y1="309.4" x2="507.98" y2="312.6" stroke="#aaaaaa" stroke-width="0.8"/>
<text x="511.08" y="318.1" text-anchor="end" font-size="7.2" transform="rotate(-45 511.08 318.1)">25</text>
<line x1="526.24" y1="309.4" x2="526.24" y2="312.6" stroke="#aaaaaa" stroke-width="0.8"/>
<text x="529.34" y="318.1" text-anchor="end" font-size="7.2" transform="rotate(-45 529.34 318.1)">30</text>
<line x1="544.5" y1="309.4" x2="544.5" y2="312.6" stroke="#aaaaaa" stroke-width="0.8"/>
<text x="547.6" y="318.1" text-anchor="end" font-size="7.2" transform="rotate(-45 547.6 318.1)">35</text>
<circle cx="524.81" cy="208.21" r="1.6" fill="#e7298a"/>
<circle cx="528.31" cy="212.37" r="1.6" fill="#e7298a"/>
<circle cx="525.47" cy="214.56" r="1.6" fill="#d95f02"/>
<circle cx="509.92" cy="214.56" r="1.6" fill="#7570b3"/>
<circle cx="508.61" cy="216.31" r="1.6" fill="#7570b3"/>
<circle cx="497.22" cy="219.38" r="1.6" fill="#7570b3"/>
<circle cx="505.54" cy="220.25" r="1.6" fill="#1b9e77"/>
<circle cx="507.73" cy="223.54" r="1.6" fill="#1b9e77"/>
<circle cx="513.86" cy="222.66" r="1.6" fill="#e7298a"/>
<circle cx="516.05" cy="225.73" r="1.6" fill="#e7298a"/>
<circle cx="507.51" cy="227.26" r="1.6" fill="#e7298a"/>
<circle cx="507.51" cy="228.79" r="1.6" fill="#e7298a"/>
<circle cx="497" cy="225.73" r="1.6" fill="#7570b3"/>
<circle cx="492.84" cy="227.48" r="1.6" fill="#7570b3"/>
<circle cx="499.63" cy="230.11" r="1.6" fill="#1b9e77"/>
<circle cx="501.38" cy="231.2" r="1.6" fill="#1b9e77"/>
<circle cx="482.33" cy="232.73" r="1.6" fill="#7570b3"/>
<circle cx="482.77" cy="234.49" r="1.6" fill="#7570b3"/>
<circle cx="495.69" cy="235.8" r="1.6" fill="#7570b3"/>
<circle cx="520.65" cy="220.69" r="1.6" fill="#1b9e77"/>
<circle cx="522.62" cy="220.03" r="1.6" fill="#1b9e77"/>
<circle cx="543.42" cy="220.03" r="1.6" fill="#e6ab02"/>
<circle cx="542.33" cy="220.69" r="1.6" fill="#e6ab02"/>
<circle cx="541.23" cy="223.32" r="1.6" fill="#e6ab02"/>
<circle cx="538.6" cy="225.51" r="1.6" fill="#e6ab02"/>
<circle cx="541.45" cy="231.86" r="1.6" fill="#e6ab02"/>
<circle cx="498.53" cy="243.02" r="1.6" fill="#66a61e"/>
<circle cx="498.53" cy="243.68" r="1.6" fill="#66a61e"/>
<circle cx="508.39" cy="244.78" r="1.6" fill="#d95f02"/>
<circle cx="518.24" cy="245.65" r="1.6" fill="#666666"/>
<circle cx="521.74" cy="248.94" r="1.6" fill="#666666"/>
<circle cx="522.18" cy="251.13" r="1.6" fill="#666666"/>
<circle cx="525.25" cy="247.84" r="1.6" fill="#666666"/>
<circle cx="515.39" cy="249.16" r="1.6" fill="#e6ab02"/>
<circle cx="516.71" cy="250.25" r="1.6" fill="#e6ab02"/>
<circle cx="523.93" cy="257.26" r="1.6" fill="#666666"/>
<circle cx="525.25" cy="259.45" r="1.6" fill="#666666"/>
<circle cx="489.34" cy="258.79" r="1.6" fill="#66a61e"/>
<circle cx="486.93" cy="261.64" r="1.6" fill="#66a61e"/>
<circle cx="493.72" cy="260.54" r="1.6" fill="#66a61e"/>
<circle cx="477.51" cy="275.21" r="1.6" fill="#66a61e"/>
<circle cx="489.12" cy="279.59" r="1.6" fill="#666666"/>
<circle cx="484.52" cy="283.75" r="1.6" fill="#666666"/>
<circle cx="481.67" cy="285.28" r="1.6" fill="#666666"/>
<circle cx="449.92" cy="285.72" r="1.6" fill="#a6761d"/>
<circle cx="459.56" cy="304.77" r="1.6" fill="#a6761d"/>
<text x="487.15" y="288.58" fill="#666666" font-size="6.3" fill-opacity="0.78">Hy C3</text>
<text x="452.11" y="283.11" fill="#a6761d" font-size="6.3" fill-opacity="0.78">s3 O1</text>
<text x="463.5" y="301.06" fill="#a6761d" font-size="6.3" fill-opacity="0.78">s3 O2</text>
<text x="424.5" y="256.8" textLength="41.7" lengthAdjust="spacingAndGlyphs" text-anchor="middle" font-size="7.6" transform="rotate(-90 424.5 256.8)">Median FRIP</text>
<text x="456.6" y="335.3" textLength="80.3" lengthAdjust="spacingAndGlyphs" font-size="7.6">Median TSS enrichment</text>
<text x="420.6" y="200.3" font-size="12" font-weight="bold" fill="#000">i</text>
<path d="M591.6,203.3 V308.2 H685" fill="none" stroke="#999999" stroke-width="0.9"/>
<line x1="588.8" y1="305.9" x2="591.6" y2="305.9" stroke="#999999" stroke-width="0.8"/>
<text x="586.6" y="308.5" text-anchor="end" font-size="7.2">1.0</text>
<line x1="588.8" y1="291.6" x2="591.6" y2="291.6" stroke="#999999" stroke-width="0.8"/>
<text x="586.6" y="294.2" text-anchor="end" font-size="7.2">1.5</text>
<line x1="588.8" y1="277.3" x2="591.6" y2="277.3" stroke="#999999" stroke-width="0.8"/>
<text x="586.6" y="279.9" text-anchor="end" font-size="7.2">2.0</text>
<line x1="588.8" y1="263" x2="591.6" y2="263" stroke="#999999" stroke-width="0.8"/>
<text x="586.6" y="265.6" text-anchor="end" font-size="7.2">2.5</text>
<line x1="588.8" y1="248.7" x2="591.6" y2="248.7" stroke="#999999" stroke-width="0.8"/>
<text x="586.6" y="251.3" text-anchor="end" font-size="7.2">3.0</text>
<line x1="588.8" y1="234.4" x2="591.6" y2="234.4" stroke="#999999" stroke-width="0.8"/>
<text x="586.6" y="237" text-anchor="end" font-size="7.2">3.5</text>
<line x1="588.8" y1="220.1" x2="591.6" y2="220.1" stroke="#999999" stroke-width="0.8"/>
<text x="586.6" y="222.7" text-anchor="end" font-size="7.2">4.0</text>
<line x1="616" y1="308.2" x2="616" y2="311.4" stroke="#999999" stroke-width="0.8"/>
<text x="619.1" y="316.9" text-anchor="end" font-size="7.2" transform="rotate(-45 619.1 316.9)">10</text>
<line x1="645.9" y1="308.2" x2="645.9" y2="311.4" stroke="#999999" stroke-width="0.8"/>
<text x="649" y="316.9" text-anchor="end" font-size="7.2" transform="rotate(-45 649 316.9)">15</text>
<line x1="675.8" y1="308.2" x2="675.8" y2="311.4" stroke="#999999" stroke-width="0.8"/>
<text x="678.9" y="316.9" text-anchor="end" font-size="7.2" transform="rotate(-45 678.9 316.9)">20</text>
<circle cx="665.5" cy="208.21" r="1.6" fill="#66a61e"/>
<circle cx="656.09" cy="229.89" r="1.6" fill="#7570b3"/>
<circle cx="657.18" cy="231.2" r="1.6" fill="#7570b3"/>
<circle cx="662" cy="237.55" r="1.6" fill="#7570b3"/>
<circle cx="656.74" cy="240.62" r="1.6" fill="#7570b3"/>
<circle cx="659.37" cy="239.3" r="1.6" fill="#66a61e"/>
<circle cx="654.33" cy="242.81" r="1.6" fill="#1b9e77"/>
<circle cx="659.37" cy="244.12" r="1.6" fill="#66a61e"/>
<circle cx="662.87" cy="246.31" r="1.6" fill="#66a61e"/>
<circle cx="644.48" cy="243.24" r="1.6" fill="#d95f02"/>
<circle cx="649.96" cy="244.12" r="1.6" fill="#d95f02"/>
<circle cx="645.58" cy="247.84" r="1.6" fill="#1b9e77"/>
<circle cx="674.7" cy="250.03" r="1.6" fill="#666666"/>
<circle cx="646.23" cy="249.16" r="1.6" fill="#7570b3"/>
<circle cx="650.39" cy="251.35" r="1.6" fill="#1b9e77"/>
<circle cx="650.39" cy="253.32" r="1.6" fill="#1b9e77"/>
<circle cx="650.39" cy="254.63" r="1.6" fill="#1b9e77"/>
<circle cx="655.21" cy="252.88" r="1.6" fill="#1b9e77"/>
<circle cx="672.29" cy="254.63" r="1.6" fill="#66a61e"/>
<circle cx="623.46" cy="253.32" r="1.6" fill="#e6ab02"/>
<circle cx="626.75" cy="251.78" r="1.6" fill="#e6ab02"/>
<circle cx="642.29" cy="253.54" r="1.6" fill="#e7298a"/>
<circle cx="651.05" cy="257.26" r="1.6" fill="#7570b3"/>
<circle cx="656.52" cy="256.82" r="1.6" fill="#7570b3"/>
<circle cx="641.63" cy="260.98" r="1.6" fill="#1b9e77"/>
<circle cx="667.47" cy="261.42" r="1.6" fill="#666666"/>
<circle cx="669.88" cy="264.92" r="1.6" fill="#66a61e"/>
<circle cx="615.58" cy="262.95" r="1.6" fill="#e6ab02"/>
<circle cx="617.77" cy="263.39" r="1.6" fill="#e6ab02"/>
<circle cx="631.12" cy="263.83" r="1.6" fill="#666666"/>
<circle cx="654.33" cy="263.83" r="1.6" fill="#e7298a"/>
<circle cx="632" cy="267.99" r="1.6" fill="#666666"/>
<circle cx="641.85" cy="266.23" r="1.6" fill="#e7298a"/>
<circle cx="643.39" cy="266.67" r="1.6" fill="#7570b3"/>
<circle cx="645.14" cy="266.89" r="1.6" fill="#7570b3"/>
<circle cx="605.72" cy="270.4" r="1.6" fill="#e6ab02"/>
<circle cx="607.7" cy="268.21" r="1.6" fill="#e6ab02"/>
<circle cx="629.15" cy="272.8" r="1.6" fill="#666666"/>
<circle cx="650.61" cy="278.5" r="1.6" fill="#e7298a"/>
<circle cx="621.71" cy="279.59" r="1.6" fill="#e6ab02"/>
<circle cx="628.5" cy="281.34" r="1.6" fill="#666666"/>
<circle cx="625.21" cy="285.5" r="1.6" fill="#e6ab02"/>
<circle cx="643.17" cy="286.82" r="1.6" fill="#666666"/>
<circle cx="645.79" cy="290.1" r="1.6" fill="#a6761d"/>
<circle cx="639.66" cy="291.63" r="1.6" fill="#666666"/>
<circle cx="637.04" cy="293.17" r="1.6" fill="#e7298a"/>
<text x="656.09" y="216.76" fill="#66a61e" font-size="6.3" fill-opacity="0.78">mt C1</text>
<text x="649.52" y="289.24" fill="#a6761d" font-size="6.3" fill-opacity="0.78">s3 O1</text>
<text x="562.8" y="257.3" textLength="54.9" lengthAdjust="spacingAndGlyphs" text-anchor="middle" font-size="7.6" transform="rotate(-90 562.8 257.3)">Median strength</text>
<text x="571.2" y="254.6" text-anchor="middle" font-size="7.6" textLength="97.4" lengthAdjust="spacingAndGlyphs" transform="rotate(-90 571.2 254.6)">of top 2,000 DARs (log<tspan font-size="5.4" dy="1.6">2</tspan><tspan dy="-1.6"> FC)</tspan></text>
<text x="603.9" y="332.3" textLength="71.5" lengthAdjust="spacingAndGlyphs" font-size="7.6">Median DAR distance</text>
<text x="605.3" y="340.4" textLength="68.1" lengthAdjust="spacingAndGlyphs" font-size="7.6">to nearest TSS (kbp)</text>
<text x="558" y="200.3" font-size="12" font-weight="bold" fill="#000">j</text>
<rect x="41.1" y="375.6" width="21" height="64.7" fill="#eaeaf2"/>
<rect x="68.1" y="375.6" width="75" height="64.7" fill="#eaeaf2"/>
<rect x="150" y="375.6" width="20.6" height="64.7" fill="#eaeaf2"/>
<rect x="177.1" y="375.6" width="74.9" height="64.7" fill="#eaeaf2"/>
<rect x="258.2" y="375.6" width="74.8" height="64.7" fill="#eaeaf2"/>
<rect x="339.7" y="375.6" width="47.7" height="64.7" fill="#eaeaf2"/>
<rect x="394.2" y="375.6" width="20.5" height="64.7" fill="#eaeaf2"/>
<rect x="421.2" y="375.6" width="101.6" height="64.7" fill="#eaeaf2"/>
<rect x="530.1" y="375.6" width="20.2" height="64.7" fill="#eaeaf2"/>
<rect x="557" y="375.6" width="115.6" height="64.7" fill="#eaeaf2"/>
<line x1="41.1" y1="382.6" x2="62.1" y2="382.6" stroke="#fff" stroke-width="0.8"/>
<line x1="68.1" y1="382.6" x2="143.1" y2="382.6" stroke="#fff" stroke-width="0.8"/>
<line x1="150" y1="382.6" x2="170.6" y2="382.6" stroke="#fff" stroke-width="0.8"/>
<line x1="177.1" y1="382.6" x2="252" y2="382.6" stroke="#fff" stroke-width="0.8"/>
<line x1="258.2" y1="382.6" x2="333" y2="382.6" stroke="#fff" stroke-width="0.8"/>
<line x1="339.7" y1="382.6" x2="387.4" y2="382.6" stroke="#fff" stroke-width="0.8"/>
<line x1="394.2" y1="382.6" x2="414.7" y2="382.6" stroke="#fff" stroke-width="0.8"/>
<line x1="421.2" y1="382.6" x2="522.8" y2="382.6" stroke="#fff" stroke-width="0.8"/>
<line x1="530.1" y1="382.6" x2="550.3" y2="382.6" stroke="#fff" stroke-width="0.8"/>
<line x1="557" y1="382.6" x2="672.6" y2="382.6" stroke="#fff" stroke-width="0.8"/>
<line x1="41.1" y1="396.7" x2="62.1" y2="396.7" stroke="#fff" stroke-width="0.8"/>
<line x1="68.1" y1="396.7" x2="143.1" y2="396.7" stroke="#fff" stroke-width="0.8"/>
<line x1="150" y1="396.7" x2="170.6" y2="396.7" stroke="#fff" stroke-width="0.8"/>
<line x1="177.1" y1="396.7" x2="252" y2="396.7" stroke="#fff" stroke-width="0.8"/>
<line x1="258.2" y1="396.7" x2="333" y2="396.7" stroke="#fff" stroke-width="0.8"/>
<line x1="339.7" y1="396.7" x2="387.4" y2="396.7" stroke="#fff" stroke-width="0.8"/>
<line x1="394.2" y1="396.7" x2="414.7" y2="396.7" stroke="#fff" stroke-width="0.8"/>
<line x1="421.2" y1="396.7" x2="522.8" y2="396.7" stroke="#fff" stroke-width="0.8"/>
<line x1="530.1" y1="396.7" x2="550.3" y2="396.7" stroke="#fff" stroke-width="0.8"/>
<line x1="557" y1="396.7" x2="672.6" y2="396.7" stroke="#fff" stroke-width="0.8"/>
<line x1="41.1" y1="410.8" x2="62.1" y2="410.8" stroke="#fff" stroke-width="0.8"/>
<line x1="68.1" y1="410.8" x2="143.1" y2="410.8" stroke="#fff" stroke-width="0.8"/>
<line x1="150" y1="410.8" x2="170.6" y2="410.8" stroke="#fff" stroke-width="0.8"/>
<line x1="177.1" y1="410.8" x2="252" y2="410.8" stroke="#fff" stroke-width="0.8"/>
<line x1="258.2" y1="410.8" x2="333" y2="410.8" stroke="#fff" stroke-width="0.8"/>
<line x1="339.7" y1="410.8" x2="387.4" y2="410.8" stroke="#fff" stroke-width="0.8"/>
<line x1="394.2" y1="410.8" x2="414.7" y2="410.8" stroke="#fff" stroke-width="0.8"/>
<line x1="421.2" y1="410.8" x2="522.8" y2="410.8" stroke="#fff" stroke-width="0.8"/>
<line x1="530.1" y1="410.8" x2="550.3" y2="410.8" stroke="#fff" stroke-width="0.8"/>
<line x1="557" y1="410.8" x2="672.6" y2="410.8" stroke="#fff" stroke-width="0.8"/>
<line x1="41.1" y1="424.8" x2="62.1" y2="424.8" stroke="#fff" stroke-width="0.8"/>
<line x1="68.1" y1="424.8" x2="143.1" y2="424.8" stroke="#fff" stroke-width="0.8"/>
<line x1="150" y1="424.8" x2="170.6" y2="424.8" stroke="#fff" stroke-width="0.8"/>
<line x1="177.1" y1="424.8" x2="252" y2="424.8" stroke="#fff" stroke-width="0.8"/>
<line x1="258.2" y1="424.8" x2="333" y2="424.8" stroke="#fff" stroke-width="0.8"/>
<line x1="339.7" y1="424.8" x2="387.4" y2="424.8" stroke="#fff" stroke-width="0.8"/>
<line x1="394.2" y1="424.8" x2="414.7" y2="424.8" stroke="#fff" stroke-width="0.8"/>
<line x1="421.2" y1="424.8" x2="522.8" y2="424.8" stroke="#fff" stroke-width="0.8"/>
<line x1="530.1" y1="424.8" x2="550.3" y2="424.8" stroke="#fff" stroke-width="0.8"/>
<line x1="557" y1="424.8" x2="672.6" y2="424.8" stroke="#fff" stroke-width="0.8"/>
<line x1="41.1" y1="438.9" x2="62.1" y2="438.9" stroke="#fff" stroke-width="0.8"/>
<line x1="68.1" y1="438.9" x2="143.1" y2="438.9" stroke="#fff" stroke-width="0.8"/>
<line x1="150" y1="438.9" x2="170.6" y2="438.9" stroke="#fff" stroke-width="0.8"/>
<line x1="177.1" y1="438.9" x2="252" y2="438.9" stroke="#fff" stroke-width="0.8"/>
<line x1="258.2" y1="438.9" x2="333" y2="438.9" stroke="#fff" stroke-width="0.8"/>
<line x1="339.7" y1="438.9" x2="387.4" y2="438.9" stroke="#fff" stroke-width="0.8"/>
<line x1="394.2" y1="438.9" x2="414.7" y2="438.9" stroke="#fff" stroke-width="0.8"/>
<line x1="421.2" y1="438.9" x2="522.8" y2="438.9" stroke="#fff" stroke-width="0.8"/>
<line x1="530.1" y1="438.9" x2="550.3" y2="438.9" stroke="#fff" stroke-width="0.8"/>
<line x1="557" y1="438.9" x2="672.6" y2="438.9" stroke="#fff" stroke-width="0.8"/>
<text x="40.8" y="371" textLength="20.5" lengthAdjust="spacingAndGlyphs" font-size="7.6">10x v1</text>
<text x="94.9" y="371" textLength="24.7" lengthAdjust="spacingAndGlyphs" font-size="7.6">10x v1.1</text>
<text x="144.8" y="371" textLength="28.9" lengthAdjust="spacingAndGlyphs" font-size="7.6">Controls</text>
<text x="202.9" y="371" textLength="21" lengthAdjust="spacingAndGlyphs" font-size="7.6">10x v2</text>
<text x="265.9" y="371" textLength="46" lengthAdjust="spacingAndGlyphs" font-size="7.6">10x multiome</text>
<text x="338.2" y="371" textLength="50.7" lengthAdjust="spacingAndGlyphs" font-size="7.6">mtscATAC-seq</text>
<path d="M403.50,366.70 L404.06,368.13 L405.59,368.22 L404.40,369.19 L404.79,370.68 L403.50,369.85 L402.21,370.68 L402.60,369.19 L401.41,368.22 L402.94,368.13 Z" fill="#1c1c1c"/>
<text x="442.2" y="371" textLength="51.8" lengthAdjust="spacingAndGlyphs" font-size="7.6">Bio-Rad ddSEQ</text>
<text x="524.7" y="371" textLength="28.9" lengthAdjust="spacingAndGlyphs" font-size="7.6">s3-ATAC</text>
<text x="599.6" y="371" textLength="26.3" lengthAdjust="spacingAndGlyphs" font-size="7.6">HyDrop</text>
<text x="36.9" y="383.4" text-anchor="end">1.0</text>
<text x="36.9" y="395.3" text-anchor="end">0.8</text>
<text x="36.9" y="407.2" text-anchor="end">0.6</text>
<text x="36.9" y="419.2" text-anchor="end">0.4</text>
<text x="36.9" y="431.2" text-anchor="end">0.2</text>
<text x="11.2" y="406" text-anchor="middle" font-size="7.7" transform="rotate(-90 11.2 406)">Seurat</text>
<text x="20.6" y="404.5" text-anchor="middle" font-size="7.7" transform="rotate(-90 20.6 404.5)">annotation score</text>
<text x="1.6" y="367.7" font-size="12" font-weight="bold" fill="#000">k</text>
<path d="M41.3,382.3 L41.9,386 L43,390.4 L43.8,395 L44.5,400.7 L44.8,405 L45,410.9 L45.5,417 L45.85,425 L46.15,432.6 L46.45,432.6 L46.75,425 L47.1,417 L47.6,410.9 L47.8,405 L48.1,400.7 L48.8,395 L49.6,390.4 L50.7,386 L51.3,382.3 Z" fill="#be631d" stroke="#404040" stroke-width="0.65" stroke-linejoin="round"/>
<line x1="46.3" y1="382.9" x2="46.3" y2="432.3" stroke="#454545" stroke-width="0.8"/>
<rect x="45.2" y="384.3" width="2.2" height="16.4" fill="#474747"/>
<circle cx="46.3" cy="391" r="0.5" fill="#e8e8e8"/>
<path d="M53.4,382.3 L54.1,390 L54.6,400 L55,410 L55.6,420 L56.2,430 L56.65,437.7 L56.95,437.7 L57.4,430 L58,420 L58.6,410 L59,400 L59.5,390 L60.2,382.3 Z" fill="#be631d" stroke="#404040" stroke-width="0.65" stroke-linejoin="round"/>
<line x1="56.8" y1="382.9" x2="56.8" y2="437.4" stroke="#454545" stroke-width="0.8"/>
<rect x="55.7" y="385.8" width="2.2" height="25.6" fill="#474747"/>
<circle cx="56.8" cy="396" r="0.5" fill="#e8e8e8"/>
<path d="M70.6,382.31 L69.7,385.96 L69.2,392.35 L70.2,397.83 L71.5,402.4 L72.2,406.96 L72.8,411.53 L73.4,418.84 L74,431.62 L74.4,431.62 L75,418.84 L75.6,411.53 L76.2,406.96 L76.9,402.4 L78.2,397.83 L79.2,392.35 L78.7,385.96 L77.8,382.31 Z" fill="#7c78ab" stroke="#404040" stroke-width="0.65" stroke-linejoin="round"/>
<line x1="74.2" y1="382.91" x2="74.2" y2="431.32" stroke="#454545" stroke-width="0.8"/>
<rect x="73.1" y="388.7" width="2.2" height="15.5" fill="#474747"/>
<circle cx="74.2" cy="396" r="0.5" fill="#e8e8e8"/>
<path d="M80.5,382.31 L81.6,385.05 L82.9,388.7 L84.3,397.83 L84.9,405.14 L84.6,409.7 L84.5,413.36 L85.2,417.01 L85.9,419.75 L86.6,433.45 L87,433.45 L87.7,419.75 L88.4,417.01 L89.1,413.36 L89,409.7 L88.7,405.14 L89.3,397.83 L90.7,388.7 L92,385.05 L93.1,382.31 Z" fill="#7c78ab" stroke="#404040" stroke-width="0.65" stroke-linejoin="round"/>
<line x1="86.8" y1="382.91" x2="86.8" y2="433.15" stroke="#454545" stroke-width="0.8"/>
<rect x="85.7" y="384.6" width="2.2" height="22.4" fill="#474747"/>
<circle cx="86.8" cy="393.3" r="0.5" fill="#e8e8e8"/>
<path d="M96.4,382.31 L96.3,393.26 L97.3,402.4 L97.9,411.53 L98,418.84 L97,422.49 L95.9,426.14 L96.9,429.79 L98.3,432.53 L99.3,434.82 L99.7,434.82 L100.7,432.53 L102.1,429.79 L103.1,426.14 L102,422.49 L101,418.84 L101.1,411.53 L101.7,402.4 L102.7,393.26 L102.6,382.31 Z" fill="#7c78ab" stroke="#404040" stroke-width="0.65" stroke-linejoin="round"/>
<line x1="99.5" y1="382.91" x2="99.5" y2="434.52" stroke="#454545" stroke-width="0.8"/>
<rect x="98.4" y="391.4" width="2.2" height="32" fill="#474747"/>
<circle cx="99.5" cy="402.9" r="0.5" fill="#e8e8e8"/>
<path d="M107.5,382.31 L108.7,385.96 L107.9,389.61 L107.6,393.26 L108.3,397.83 L109.6,402.4 L110.9,411.53 L111.5,420.66 L111.9,438.01 L112.3,438.01 L112.7,420.66 L113.3,411.53 L114.6,402.4 L115.9,397.83 L116.6,393.26 L116.3,389.61 L115.5,385.96 L116.7,382.31 Z" fill="#7c78ab" stroke="#404040" stroke-width="0.65" stroke-linejoin="round"/>
<line x1="112.1" y1="382.91" x2="112.1" y2="437.71" stroke="#454545" stroke-width="0.8"/>
<rect x="111" y="387.8" width="2.2" height="17.3" fill="#474747"/>
<circle cx="112.1" cy="395.3" r="0.5" fill="#e8e8e8"/>
<path d="M121.4,382.31 L121.7,393.26 L122,402.4 L122.3,411.53 L123.1,417.92 L122.5,422.49 L121.4,426.14 L121.5,429.34 L122.9,431.16 L124.5,432.35 L124.9,432.35 L126.5,431.16 L127.9,429.34 L128,426.14 L126.9,422.49 L126.3,417.92 L127.1,411.53 L127.4,402.4 L127.7,393.26 L128,382.31 Z" fill="#7c78ab" stroke="#404040" stroke-width="0.65" stroke-linejoin="round"/>
<line x1="124.7" y1="382.91" x2="124.7" y2="432.05" stroke="#454545" stroke-width="0.8"/>
<rect x="123.6" y="388.7" width="2.2" height="27.4" fill="#474747"/>
<circle cx="124.7" cy="401.5" r="0.5" fill="#e8e8e8"/>
<path d="M131.3,382.31 L133.2,386.87 L134.1,393.26 L134.6,402.4 L135,411.53 L135.8,417.92 L136.6,422.49 L137,431.62 L137.4,431.62 L137.8,422.49 L138.6,417.92 L139.4,411.53 L139.8,402.4 L140.3,393.26 L141.2,386.87 L143.1,382.31 Z" fill="#7c78ab" stroke="#404040" stroke-width="0.65" stroke-linejoin="round"/>
<line x1="137.2" y1="382.91" x2="137.2" y2="431.32" stroke="#454545" stroke-width="0.8"/>
<rect x="136.1" y="385.5" width="2.2" height="21.5" fill="#474747"/>
<circle cx="137.2" cy="394.2" r="0.5" fill="#e8e8e8"/>
<path d="M150.95,382.31 L151.4,386.87 L152.1,397.83 L152.6,406.96 L152.4,413.36 L153.6,418.84 L154.4,432.99 L154.8,432.99 L155.6,418.84 L156.8,413.36 L156.6,406.96 L157.1,397.83 L157.8,386.87 L158.25,382.31 Z" fill="#7c78ab" stroke="#404040" stroke-width="0.65" stroke-linejoin="round"/>
<line x1="154.6" y1="382.91" x2="154.6" y2="432.69" stroke="#454545" stroke-width="0.8"/>
<rect x="153.5" y="386.9" width="2.2" height="21.9" fill="#474747"/>
<circle cx="154.6" cy="398.6" r="0.5" fill="#e8e8e8"/>
<path d="M160.3,382.31 L162.3,388.7 L163,397.83 L163.8,405.14 L162.9,411.53 L163.3,415.18 L164,417.92 L165.1,428.88 L165.5,428.88 L166.6,417.92 L167.3,415.18 L167.7,411.53 L166.8,405.14 L167.6,397.83 L168.3,388.7 L170.3,382.31 Z" fill="#7c78ab" stroke="#404040" stroke-width="0.65" stroke-linejoin="round"/>
<line x1="165.3" y1="382.91" x2="165.3" y2="428.58" stroke="#454545" stroke-width="0.8"/>
<rect x="164.2" y="385" width="2.2" height="21" fill="#474747"/>
<circle cx="165.3" cy="393.7" r="0.5" fill="#e8e8e8"/>
<path d="M177.1,382.31 L179.1,388.7 L181.1,396 L181.7,402.4 L181.9,411.53 L182.1,420.66 L182.4,429.79 L182.8,429.79 L183.1,420.66 L183.3,411.53 L183.5,402.4 L184.1,396 L186.1,388.7 L188.1,382.31 Z" fill="#2b8e70" stroke="#404040" stroke-width="0.65" stroke-linejoin="round"/>
<line x1="182.6" y1="382.91" x2="182.6" y2="429.49" stroke="#454545" stroke-width="0.8"/>
<rect x="181.5" y="383.7" width="2.2" height="15" fill="#474747"/>
<circle cx="182.6" cy="389.2" r="0.5" fill="#e8e8e8"/>
<path d="M189.1,382.31 L191.3,388.7 L193.7,396 L194.5,402.4 L194.9,416.1 L195.3,431.62 L195.7,431.62 L196.1,416.1 L196.5,402.4 L197.3,396 L199.7,388.7 L201.9,382.31 Z" fill="#2b8e70" stroke="#404040" stroke-width="0.65" stroke-linejoin="round"/>
<line x1="195.5" y1="382.91" x2="195.5" y2="431.32" stroke="#454545" stroke-width="0.8"/>
<rect x="194.4" y="383.2" width="2.2" height="16.5" fill="#474747"/>
<circle cx="195.5" cy="388.5" r="0.5" fill="#e8e8e8"/>
<path d="M204.2,382.31 L203.8,387.79 L204.6,393.26 L205.8,398.74 L207.1,406.96 L207.5,416.1 L207.9,434.36 L208.3,434.36 L208.7,416.1 L209.1,406.96 L210.4,398.74 L211.6,393.26 L212.4,387.79 L212,382.31 Z" fill="#2b8e70" stroke="#404040" stroke-width="0.65" stroke-linejoin="round"/>
<line x1="208.1" y1="382.91" x2="208.1" y2="434.06" stroke="#454545" stroke-width="0.8"/>
<rect x="207" y="385.5" width="2.2" height="13.2" fill="#474747"/>
<circle cx="208.1" cy="391.4" r="0.5" fill="#e8e8e8"/>
<path d="M216.95,382.31 L217.1,388.7 L218.1,397.83 L219.1,405.14 L219.9,416.1 L220.4,433.45 L220.8,433.45 L221.3,416.1 L222.1,405.14 L223.1,397.83 L224.1,388.7 L224.25,382.31 Z" fill="#2b8e70" stroke="#404040" stroke-width="0.65" stroke-linejoin="round"/>
<line x1="220.6" y1="382.91" x2="220.6" y2="433.15" stroke="#454545" stroke-width="0.8"/>
<rect x="219.5" y="385" width="2.2" height="17.4" fill="#474747"/>
<circle cx="220.6" cy="393.7" r="0.5" fill="#e8e8e8"/>
<path d="M228.55,382.31 L230.2,386.87 L231,393.26 L231.4,402.4 L231.8,411.53 L232.4,418.84 L233,434.36 L233.4,434.36 L234,418.84 L234.6,411.53 L235,402.4 L235.4,393.26 L236.2,386.87 L237.85,382.31 Z" fill="#2b8e70" stroke="#404040" stroke-width="0.65" stroke-linejoin="round"/>
<line x1="233.2" y1="382.91" x2="233.2" y2="434.06" stroke="#454545" stroke-width="0.8"/>
<rect x="232.1" y="384.1" width="2.2" height="24.7" fill="#474747"/>
<circle cx="233.2" cy="395.5" r="0.5" fill="#e8e8e8"/>
<path d="M241.9,382.31 L242.8,388.7 L243.8,397.83 L244.2,406.96 L244.9,417.92 L245.6,434.36 L246,434.36 L246.7,417.92 L247.4,406.96 L247.8,397.83 L248.8,388.7 L249.7,382.31 Z" fill="#2b8e70" stroke="#404040" stroke-width="0.65" stroke-linejoin="round"/>
<line x1="245.8" y1="382.91" x2="245.8" y2="434.06" stroke="#454545" stroke-width="0.8"/>
<rect x="244.7" y="385.5" width="2.2" height="23.3" fill="#474747"/>
<circle cx="245.8" cy="395.5" r="0.5" fill="#e8e8e8"/>
<path d="M258.8,382.31 L260.5,388.7 L261.8,397.83 L262.3,406.96 L263.1,416.1 L263.7,422.49 L264.1,437.1 L264.5,437.1 L264.9,422.49 L265.5,416.1 L266.3,406.96 L266.8,397.83 L268.1,388.7 L269.8,382.31 Z" fill="#cf418a" stroke="#404040" stroke-width="0.65" stroke-linejoin="round"/>
<line x1="264.3" y1="382.91" x2="264.3" y2="436.8" stroke="#454545" stroke-width="0.8"/>
<rect x="263.2" y="384.1" width="2.2" height="23.8" fill="#474747"/>
<circle cx="264.3" cy="392.4" r="0.5" fill="#e8e8e8"/>
<path d="M270.6,382.31 L272.4,388.7 L273.8,397.83 L274.6,406.96 L275.3,416.1 L276.2,422.49 L276.6,435.73 L277,435.73 L277.4,422.49 L278.3,416.1 L279,406.96 L279.8,397.83 L281.2,388.7 L283,382.31 Z" fill="#cf418a" stroke="#404040" stroke-width="0.65" stroke-linejoin="round"/>
<line x1="276.8" y1="382.91" x2="276.8" y2="435.43" stroke="#454545" stroke-width="0.8"/>
<rect x="275.7" y="383.7" width="2.2" height="22.3" fill="#474747"/>
<circle cx="276.8" cy="392.4" r="0.5" fill="#e8e8e8"/>
<path d="M284.6,382.31 L286.8,386.87 L287.1,397.83 L287.2,406.96 L287.6,416.1 L288.6,422.49 L289.4,435.27 L289.8,435.27 L290.6,422.49 L291.6,416.1 L292,406.96 L292.1,397.83 L292.4,386.87 L294.6,382.31 Z" fill="#cf418a" stroke="#404040" stroke-width="0.65" stroke-linejoin="round"/>
<line x1="289.6" y1="382.91" x2="289.6" y2="434.97" stroke="#454545" stroke-width="0.8"/>
<rect x="288.5" y="386" width="2.2" height="24.2" fill="#474747"/>
<circle cx="289.6" cy="396.5" r="0.5" fill="#e8e8e8"/>
<path d="M299.2,382.31 L299.1,393.26 L298.9,402.4 L298.4,411.53 L298.9,416.1 L300.4,420.66 L301.6,432.53 L302.2,432.53 L303.4,420.66 L304.9,416.1 L305.4,411.53 L304.9,402.4 L304.7,393.26 L304.6,382.31 Z" fill="#cf418a" stroke="#404040" stroke-width="0.65" stroke-linejoin="round"/>
<line x1="301.9" y1="382.91" x2="301.9" y2="432.23" stroke="#454545" stroke-width="0.8"/>
<rect x="300.8" y="391.9" width="2.2" height="21" fill="#474747"/>
<circle cx="301.9" cy="403.5" r="0.5" fill="#e8e8e8"/>
<path d="M310.6,382.31 L311.3,388.7 L311.5,397.83 L311.7,406.96 L312,416.1 L313.3,423.4 L314.2,431.62 L314.8,431.62 L315.7,423.4 L317,416.1 L317.3,406.96 L317.5,397.83 L317.7,388.7 L318.4,382.31 Z" fill="#cf418a" stroke="#404040" stroke-width="0.65" stroke-linejoin="round"/>
<line x1="314.5" y1="382.91" x2="314.5" y2="431.32" stroke="#454545" stroke-width="0.8"/>
<rect x="313.4" y="388.2" width="2.2" height="23.8" fill="#474747"/>
<circle cx="314.5" cy="399.5" r="0.5" fill="#e8e8e8"/>
<path d="M324.3,382.31 L324.8,388.7 L324.3,397.83 L323.8,406.96 L324.3,413.36 L325.8,420.66 L327,432.53 L327.6,432.53 L328.8,420.66 L330.3,413.36 L330.8,406.96 L330.3,397.83 L329.8,388.7 L330.3,382.31 Z" fill="#cf418a" stroke="#404040" stroke-width="0.65" stroke-linejoin="round"/>
<line x1="327.3" y1="382.91" x2="327.3" y2="432.23" stroke="#454545" stroke-width="0.8"/>
<rect x="326.2" y="391" width="2.2" height="21.9" fill="#474747"/>
<circle cx="327.3" cy="403.5" r="0.5" fill="#e8e8e8"/>
<path d="M339.9,382.31 L341.6,388.7 L342.6,397.83 L342.6,406.96 L342.1,413.36 L342.6,418.84 L344.1,423.4 L345.3,433.9 L345.9,433.9 L347.1,423.4 L348.6,418.84 L349.1,413.36 L348.6,406.96 L348.6,397.83 L349.6,388.7 L351.3,382.31 Z" fill="#65952f" stroke="#404040" stroke-width="0.65" stroke-linejoin="round"/>
<line x1="345.6" y1="382.91" x2="345.6" y2="433.6" stroke="#454545" stroke-width="0.8"/>
<rect x="344.5" y="386.9" width="2.2" height="24.6" fill="#474747"/>
<circle cx="345.6" cy="397.4" r="0.5" fill="#e8e8e8"/>
<path d="M354.1,382.31 L355.1,386.87 L354.1,393.26 L353.6,402.4 L353.1,413.36 L354.1,418.84 L355.8,424.32 L357.3,433.9 L357.9,433.9 L359.4,424.32 L361.1,418.84 L362.1,413.36 L361.6,402.4 L361.1,393.26 L360.1,386.87 L361.1,382.31 Z" fill="#65952f" stroke="#404040" stroke-width="0.65" stroke-linejoin="round"/>
<line x1="357.6" y1="382.91" x2="357.6" y2="433.6" stroke="#454545" stroke-width="0.8"/>
<rect x="356.5" y="393.7" width="2.2" height="21.5" fill="#474747"/>
<circle cx="357.6" cy="405.4" r="0.5" fill="#e8e8e8"/>
<path d="M366.05,382.31 L365.5,388.7 L366,397.83 L366.2,406.96 L366.2,416.1 L367.2,425.23 L368.5,431.62 L369.4,437.56 L370,437.56 L370.9,431.62 L372.2,425.23 L373.2,416.1 L373.2,406.96 L373.4,397.83 L373.9,388.7 L373.35,382.31 Z" fill="#65952f" stroke="#404040" stroke-width="0.65" stroke-linejoin="round"/>
<line x1="369.7" y1="382.91" x2="369.7" y2="437.26" stroke="#454545" stroke-width="0.8"/>
<rect x="368.6" y="391" width="2.2" height="27.4" fill="#474747"/>
<circle cx="369.7" cy="406.5" r="0.5" fill="#e8e8e8"/>
<path d="M378.05,382.31 L377.7,388.7 L377.5,397.83 L377.5,406.96 L377.9,416.1 L379.2,423.4 L380.2,427.97 L381.4,432.99 L382,432.99 L383.2,427.97 L384.2,423.4 L385.5,416.1 L385.9,406.96 L385.9,397.83 L385.7,388.7 L385.35,382.31 Z" fill="#65952f" stroke="#404040" stroke-width="0.65" stroke-linejoin="round"/>
<line x1="381.7" y1="382.91" x2="381.7" y2="432.69" stroke="#454545" stroke-width="0.8"/>
<rect x="380.6" y="391.9" width="2.2" height="22.8" fill="#474747"/>
<circle cx="381.7" cy="404.4" r="0.5" fill="#e8e8e8"/>
<path d="M394,382.31 L395.5,388.7 L397.2,397.83 L397.7,406.96 L398,416.1 L398.7,430.71 L399.3,430.71 L400,416.1 L400.3,406.96 L400.8,397.83 L402.5,388.7 L404,382.31 Z" fill="#65952f" stroke="#404040" stroke-width="0.65" stroke-linejoin="round"/>
<line x1="399" y1="382.91" x2="399" y2="430.41" stroke="#454545" stroke-width="0.8"/>
<rect x="397.9" y="384.6" width="2.2" height="16.9" fill="#474747"/>
<circle cx="399" cy="390.5" r="0.5" fill="#e8e8e8"/>
<path d="M404.5,382.31 L406.2,388.7 L407.7,397.83 L408.2,406.96 L408.6,416.1 L409.2,432.53 L409.8,432.53 L410.4,416.1 L410.8,406.96 L411.3,397.83 L412.8,388.7 L414.5,382.31 Z" fill="#65952f" stroke="#404040" stroke-width="0.65" stroke-linejoin="round"/>
<line x1="409.5" y1="382.91" x2="409.5" y2="432.23" stroke="#454545" stroke-width="0.8"/>
<rect x="408.4" y="384.1" width="2.2" height="19.2" fill="#474747"/>
<circle cx="409.5" cy="391" r="0.5" fill="#e8e8e8"/>
<path d="M421.6,382.31 L423.3,388.7 L423.8,397.83 L424.1,406.96 L424.8,416.1 L426.3,420.66 L427,432.53 L427.6,432.53 L428.3,420.66 L429.8,416.1 L430.5,406.96 L430.8,397.83 L431.3,388.7 L433,382.31 Z" fill="#ca9d1e" stroke="#404040" stroke-width="0.65" stroke-linejoin="round"/>
<line x1="427.3" y1="382.91" x2="427.3" y2="432.23" stroke="#454545" stroke-width="0.8"/>
<rect x="426.2" y="386.9" width="2.2" height="21" fill="#474747"/>
<circle cx="427.3" cy="395.5" r="0.5" fill="#e8e8e8"/>
<path d="M434,382.31 L436.5,388.7 L437,397.83 L436.8,406.96 L435.7,413.36 L437,418.84 L439,426.14 L439.7,435.27 L440.3,435.27 L441,426.14 L443,418.84 L444.3,413.36 L443.2,406.96 L443,397.83 L443.5,388.7 L446,382.31 Z" fill="#ca9d1e" stroke="#404040" stroke-width="0.65" stroke-linejoin="round"/>
<line x1="440" y1="382.91" x2="440" y2="434.97" stroke="#454545" stroke-width="0.8"/>
<rect x="438.9" y="386.4" width="2.2" height="25.1" fill="#474747"/>
<circle cx="440" cy="398.9" r="0.5" fill="#e8e8e8"/>
<path d="M448.1,382.31 L448.9,386.87 L448.9,397.83 L448.9,406.96 L449.9,416.1 L451.4,423.4 L452.6,434.36 L453.2,434.36 L454.4,423.4 L455.9,416.1 L456.9,406.96 L456.9,397.83 L456.9,386.87 L457.7,382.31 Z" fill="#ca9d1e" stroke="#404040" stroke-width="0.65" stroke-linejoin="round"/>
<line x1="452.9" y1="382.91" x2="452.9" y2="434.06" stroke="#454545" stroke-width="0.8"/>
<rect x="451.8" y="388.7" width="2.2" height="21" fill="#474747"/>
<circle cx="452.9" cy="399.5" r="0.5" fill="#e8e8e8"/>
<path d="M460.1,382.31 L462.3,385.96 L460.8,393.26 L461.3,400.57 L463,409.7 L464.3,418.84 L465.6,436.19 L466,436.19 L467.3,418.84 L468.6,409.7 L470.3,400.57 L470.8,393.26 L469.3,385.96 L471.5,382.31 Z" fill="#ca9d1e" stroke="#404040" stroke-width="0.65" stroke-linejoin="round"/>
<line x1="465.8" y1="382.91" x2="465.8" y2="435.89" stroke="#454545" stroke-width="0.8"/>
<rect x="464.7" y="389.6" width="2.2" height="16.4" fill="#474747"/>
<circle cx="465.8" cy="397.4" r="0.5" fill="#e8e8e8"/>
<path d="M475.9,382.31 L474.8,393.26 L474.4,402.4 L475.1,411.53 L476.3,418.84 L477.1,422.49 L476.4,427.97 L478.3,433.45 L478.9,433.45 L480.8,427.97 L480.1,422.49 L480.9,418.84 L482.1,411.53 L482.8,402.4 L482.4,393.26 L481.3,382.31 Z" fill="#ca9d1e" stroke="#404040" stroke-width="0.65" stroke-linejoin="round"/>
<line x1="478.6" y1="382.91" x2="478.6" y2="433.15" stroke="#454545" stroke-width="0.8"/>
<rect x="477.5" y="392.8" width="2.2" height="21" fill="#474747"/>
<circle cx="478.6" cy="402.2" r="0.5" fill="#e8e8e8"/>
<path d="M486.8,382.31 L487.9,388.7 L487.9,397.83 L487.6,406.96 L487.1,414.27 L488.4,420.66 L490.4,429.79 L491.2,436.19 L491.6,436.19 L492.4,429.79 L494.4,420.66 L495.7,414.27 L495.2,406.96 L494.9,397.83 L494.9,388.7 L496,382.31 Z" fill="#ca9d1e" stroke="#404040" stroke-width="0.65" stroke-linejoin="round"/>
<line x1="491.4" y1="382.91" x2="491.4" y2="435.89" stroke="#454545" stroke-width="0.8"/>
<rect x="490.3" y="389.2" width="2.2" height="26.9" fill="#474747"/>
<circle cx="491.4" cy="405.3" r="0.5" fill="#e8e8e8"/>
<path d="M499,382.31 L501.1,386.87 L499.8,393.26 L499.3,402.4 L500.5,411.53 L502.3,418.84 L503.6,422.49 L504.1,435.27 L504.5,435.27 L505,422.49 L506.3,418.84 L508.1,411.53 L509.3,402.4 L508.8,393.26 L507.5,386.87 L509.6,382.31 Z" fill="#ca9d1e" stroke="#404040" stroke-width="0.65" stroke-linejoin="round"/>
<line x1="504.3" y1="382.91" x2="504.3" y2="434.97" stroke="#454545" stroke-width="0.8"/>
<rect x="503.2" y="390.5" width="2.2" height="18.3" fill="#474747"/>
<circle cx="504.3" cy="399.8" r="0.5" fill="#e8e8e8"/>
<path d="M514.3,382.31 L514.2,388.7 L513.9,397.83 L513.7,406.96 L512.7,413.36 L513.9,420.66 L515.1,427.97 L516.6,435.27 L517.2,435.27 L518.7,427.97 L519.9,420.66 L521.1,413.36 L520.1,406.96 L519.9,397.83 L519.6,388.7 L519.5,382.31 Z" fill="#ca9d1e" stroke="#404040" stroke-width="0.65" stroke-linejoin="round"/>
<line x1="516.9" y1="382.91" x2="516.9" y2="434.97" stroke="#454545" stroke-width="0.8"/>
<rect x="515.8" y="394.6" width="2.2" height="24.2" fill="#474747"/>
<circle cx="516.9" cy="408.5" r="0.5" fill="#e8e8e8"/>
<path d="M532.9,382.31 L532.3,388.7 L532,402.4 L532,416.1 L532.3,425.23 L533.5,431.62 L534.3,433.9 L534.7,433.9 L535.5,431.62 L536.7,425.23 L537,416.1 L537,402.4 L536.7,388.7 L536.1,382.31 Z" fill="#95712e" stroke="#404040" stroke-width="0.65" stroke-linejoin="round"/>
<line x1="534.5" y1="382.91" x2="534.5" y2="433.6" stroke="#454545" stroke-width="0.8"/>
<rect x="533.4" y="394.6" width="2.2" height="24.2" fill="#474747"/>
<circle cx="534.5" cy="406.5" r="0.5" fill="#e8e8e8"/>
<path d="M545.1,385.05 L544.8,397.83 L544.4,404.22 L543.4,411.53 L541.9,418.84 L540.4,425.23 L541.4,429.79 L543.4,433.45 L545.2,436.64 L545.6,436.64 L547.4,433.45 L549.4,429.79 L550.4,425.23 L548.9,418.84 L547.4,411.53 L546.4,404.22 L546,397.83 L545.7,385.05 Z" fill="#95712e" stroke="#404040" stroke-width="0.65" stroke-linejoin="round"/>
<line x1="545.4" y1="385.65" x2="545.4" y2="436.34" stroke="#454545" stroke-width="0.8"/>
<rect x="544.3" y="413.8" width="2.2" height="14.2" fill="#474747"/>
<circle cx="545.4" cy="422.5" r="0.5" fill="#e8e8e8"/>
<path d="M561.3,382.31 L561,388.7 L559.5,395.09 L559,402.4 L559,411.53 L560,420.66 L561.5,427.97 L562.7,435.27 L563.3,435.27 L564.5,427.97 L566,420.66 L567,411.53 L567,402.4 L566.5,395.09 L565,388.7 L564.7,382.31 Z" fill="#626262" stroke="#404040" stroke-width="0.65" stroke-linejoin="round"/>
<line x1="563" y1="382.91" x2="563" y2="434.97" stroke="#454545" stroke-width="0.8"/>
<rect x="561.9" y="396.9" width="2.2" height="19.2" fill="#474747"/>
<circle cx="563" cy="407" r="0.5" fill="#e8e8e8"/>
<path d="M573.8,382.31 L573.6,388.7 L572.3,397.83 L571.8,406.05 L572.8,416.1 L573.8,425.23 L574.8,431.62 L575.6,436.64 L576,436.64 L576.8,431.62 L577.8,425.23 L578.8,416.1 L579.8,406.05 L579.3,397.83 L578,388.7 L577.8,382.31 Z" fill="#626262" stroke="#404040" stroke-width="0.65" stroke-linejoin="round"/>
<line x1="575.8" y1="382.91" x2="575.8" y2="436.34" stroke="#454545" stroke-width="0.8"/>
<rect x="574.7" y="396" width="2.2" height="19.6" fill="#474747"/>
<circle cx="575.8" cy="406" r="0.5" fill="#e8e8e8"/>
<path d="M587.4,382.31 L587,388.7 L585.8,397.83 L585,406.96 L584.8,416.1 L585.3,425.23 L586.8,431.62 L588.5,436.19 L589.1,436.19 L590.8,431.62 L592.3,425.23 L592.8,416.1 L592.6,406.96 L591.8,397.83 L590.6,388.7 L590.2,382.31 Z" fill="#626262" stroke="#404040" stroke-width="0.65" stroke-linejoin="round"/>
<line x1="588.8" y1="382.91" x2="588.8" y2="435.89" stroke="#454545" stroke-width="0.8"/>
<rect x="587.7" y="401" width="2.2" height="19.7" fill="#474747"/>
<circle cx="588.8" cy="411.3" r="0.5" fill="#e8e8e8"/>
<path d="M600.2,382.31 L599.6,388.7 L598.1,397.83 L596.6,407.88 L598.1,416.1 L599.6,422.49 L600.6,426.14 L601.3,432.53 L601.9,432.53 L602.6,426.14 L603.6,422.49 L605.1,416.1 L606.6,407.88 L605.1,397.83 L603.6,388.7 L603,382.31 Z" fill="#626262" stroke="#404040" stroke-width="0.65" stroke-linejoin="round"/>
<line x1="601.6" y1="382.91" x2="601.6" y2="432.23" stroke="#454545" stroke-width="0.8"/>
<rect x="600.5" y="398.7" width="2.2" height="16" fill="#474747"/>
<circle cx="601.6" cy="407.4" r="0.5" fill="#e8e8e8"/>
<path d="M613,382.31 L612.7,388.7 L611.7,397.83 L611.2,406.96 L611.2,416.1 L611.7,425.23 L612.9,431.62 L614.4,437.56 L615,437.56 L616.5,431.62 L617.7,425.23 L618.2,416.1 L618.2,406.96 L617.7,397.83 L616.7,388.7 L616.4,382.31 Z" fill="#626262" stroke="#404040" stroke-width="0.65" stroke-linejoin="round"/>
<line x1="614.7" y1="382.91" x2="614.7" y2="437.26" stroke="#454545" stroke-width="0.8"/>
<rect x="613.6" y="399.7" width="2.2" height="22.8" fill="#474747"/>
<circle cx="614.7" cy="411.5" r="0.5" fill="#e8e8e8"/>
<path d="M625.9,382.31 L625.7,388.7 L624.5,397.83 L624,406.96 L623.7,416.1 L624.5,425.23 L625.7,431.62 L627.2,437.1 L627.8,437.1 L629.3,431.62 L630.5,425.23 L631.3,416.1 L631,406.96 L630.5,397.83 L629.3,388.7 L629.1,382.31 Z" fill="#626262" stroke="#404040" stroke-width="0.65" stroke-linejoin="round"/>
<line x1="627.5" y1="382.91" x2="627.5" y2="436.8" stroke="#454545" stroke-width="0.8"/>
<rect x="626.4" y="397.8" width="2.2" height="23.8" fill="#474747"/>
<circle cx="627.5" cy="410.4" r="0.5" fill="#e8e8e8"/>
<path d="M640.1,382.76 L639.7,393.26 L638.9,402.4 L637.4,411.53 L635.4,418.84 L634.1,423.4 L635.4,427.97 L638.4,433.45 L640.1,435.73 L640.7,435.73 L642.4,433.45 L645.4,427.97 L646.7,423.4 L645.4,418.84 L643.4,411.53 L641.9,402.4 L641.1,393.26 L640.7,382.76 Z" fill="#626262" stroke="#404040" stroke-width="0.65" stroke-linejoin="round"/>
<line x1="640.4" y1="383.36" x2="640.4" y2="435.43" stroke="#454545" stroke-width="0.8"/>
<rect x="639.3" y="411.1" width="2.2" height="15" fill="#474747"/>
<circle cx="640.4" cy="419.6" r="0.5" fill="#e8e8e8"/>
<path d="M653.2,384.13 L652.7,397.83 L651.5,406.96 L650,413.36 L647.5,420.66 L647.2,424.32 L649,429.79 L652,435.27 L653.2,438.01 L653.8,438.01 L655,435.27 L658,429.79 L659.8,424.32 L659.5,420.66 L657,413.36 L655.5,406.96 L654.3,397.83 L653.8,384.13 Z" fill="#626262" stroke="#404040" stroke-width="0.65" stroke-linejoin="round"/>
<line x1="653.5" y1="384.73" x2="653.5" y2="437.71" stroke="#454545" stroke-width="0.8"/>
<rect x="652.4" y="414.3" width="2.2" height="12.8" fill="#474747"/>
<circle cx="653.5" cy="421.4" r="0.5" fill="#e8e8e8"/>
<path d="M666.1,382.31 L665.4,393.26 L663.9,402.4 L662.4,411.53 L660.9,418.84 L660.6,424.32 L662.9,429.79 L666.1,435.27 L666.7,435.27 L669.9,429.79 L672.2,424.32 L671.9,418.84 L670.4,411.53 L668.9,402.4 L667.4,393.26 L666.7,382.31 Z" fill="#626262" stroke="#404040" stroke-width="0.65" stroke-linejoin="round"/>
<line x1="666.4" y1="382.91" x2="666.4" y2="434.97" stroke="#454545" stroke-width="0.8"/>
<rect x="665.3" y="411.1" width="2.2" height="15" fill="#474747"/>
<circle cx="666.4" cy="419.7" r="0.5" fill="#e8e8e8"/>
<rect x="41.1" y="459.2" width="21" height="65" fill="#eaeaf2"/>
<rect x="68.1" y="459.2" width="75" height="65" fill="#eaeaf2"/>
<rect x="150" y="459.2" width="20.6" height="65" fill="#eaeaf2"/>
<rect x="177.1" y="459.2" width="74.9" height="65" fill="#eaeaf2"/>
<rect x="258.2" y="459.2" width="74.8" height="65" fill="#eaeaf2"/>
<rect x="339.7" y="459.2" width="47.7" height="65" fill="#eaeaf2"/>
<rect x="394.2" y="459.2" width="20.5" height="65" fill="#eaeaf2"/>
<rect x="421.2" y="459.2" width="101.6" height="65" fill="#eaeaf2"/>
<rect x="530.1" y="459.2" width="20.2" height="65" fill="#eaeaf2"/>
<rect x="557" y="459.2" width="115.6" height="65" fill="#eaeaf2"/>
<line x1="41.1" y1="463.2" x2="62.1" y2="463.2" stroke="#fff" stroke-width="0.8"/>
<line x1="68.1" y1="463.2" x2="143.1" y2="463.2" stroke="#fff" stroke-width="0.8"/>
<line x1="150" y1="463.2" x2="170.6" y2="463.2" stroke="#fff" stroke-width="0.8"/>
<line x1="177.1" y1="463.2" x2="252" y2="463.2" stroke="#fff" stroke-width="0.8"/>
<line x1="258.2" y1="463.2" x2="333" y2="463.2" stroke="#fff" stroke-width="0.8"/>
<line x1="339.7" y1="463.2" x2="387.4" y2="463.2" stroke="#fff" stroke-width="0.8"/>
<line x1="394.2" y1="463.2" x2="414.7" y2="463.2" stroke="#fff" stroke-width="0.8"/>
<line x1="421.2" y1="463.2" x2="522.8" y2="463.2" stroke="#fff" stroke-width="0.8"/>
<line x1="530.1" y1="463.2" x2="550.3" y2="463.2" stroke="#fff" stroke-width="0.8"/>
<line x1="557" y1="463.2" x2="672.6" y2="463.2" stroke="#fff" stroke-width="0.8"/>
<line x1="41.1" y1="475.4" x2="62.1" y2="475.4" stroke="#fff" stroke-width="0.8"/>
<line x1="68.1" y1="475.4" x2="143.1" y2="475.4" stroke="#fff" stroke-width="0.8"/>
<line x1="150" y1="475.4" x2="170.6" y2="475.4" stroke="#fff" stroke-width="0.8"/>
<line x1="177.1" y1="475.4" x2="252" y2="475.4" stroke="#fff" stroke-width="0.8"/>
<line x1="258.2" y1="475.4" x2="333" y2="475.4" stroke="#fff" stroke-width="0.8"/>
<line x1="339.7" y1="475.4" x2="387.4" y2="475.4" stroke="#fff" stroke-width="0.8"/>
<line x1="394.2" y1="475.4" x2="414.7" y2="475.4" stroke="#fff" stroke-width="0.8"/>
<line x1="421.2" y1="475.4" x2="522.8" y2="475.4" stroke="#fff" stroke-width="0.8"/>
<line x1="530.1" y1="475.4" x2="550.3" y2="475.4" stroke="#fff" stroke-width="0.8"/>
<line x1="557" y1="475.4" x2="672.6" y2="475.4" stroke="#fff" stroke-width="0.8"/>
<line x1="41.1" y1="487.6" x2="62.1" y2="487.6" stroke="#fff" stroke-width="0.8"/>
<line x1="68.1" y1="487.6" x2="143.1" y2="487.6" stroke="#fff" stroke-width="0.8"/>
<line x1="150" y1="487.6" x2="170.6" y2="487.6" stroke="#fff" stroke-width="0.8"/>
<line x1="177.1" y1="487.6" x2="252" y2="487.6" stroke="#fff" stroke-width="0.8"/>
<line x1="258.2" y1="487.6" x2="333" y2="487.6" stroke="#fff" stroke-width="0.8"/>
<line x1="339.7" y1="487.6" x2="387.4" y2="487.6" stroke="#fff" stroke-width="0.8"/>
<line x1="394.2" y1="487.6" x2="414.7" y2="487.6" stroke="#fff" stroke-width="0.8"/>
<line x1="421.2" y1="487.6" x2="522.8" y2="487.6" stroke="#fff" stroke-width="0.8"/>
<line x1="530.1" y1="487.6" x2="550.3" y2="487.6" stroke="#fff" stroke-width="0.8"/>
<line x1="557" y1="487.6" x2="672.6" y2="487.6" stroke="#fff" stroke-width="0.8"/>
<line x1="41.1" y1="499.8" x2="62.1" y2="499.8" stroke="#fff" stroke-width="0.8"/>
<line x1="68.1" y1="499.8" x2="143.1" y2="499.8" stroke="#fff" stroke-width="0.8"/>
<line x1="150" y1="499.8" x2="170.6" y2="499.8" stroke="#fff" stroke-width="0.8"/>
<line x1="177.1" y1="499.8" x2="252" y2="499.8" stroke="#fff" stroke-width="0.8"/>
<line x1="258.2" y1="499.8" x2="333" y2="499.8" stroke="#fff" stroke-width="0.8"/>
<line x1="339.7" y1="499.8" x2="387.4" y2="499.8" stroke="#fff" stroke-width="0.8"/>
<line x1="394.2" y1="499.8" x2="414.7" y2="499.8" stroke="#fff" stroke-width="0.8"/>
<line x1="421.2" y1="499.8" x2="522.8" y2="499.8" stroke="#fff" stroke-width="0.8"/>
<line x1="530.1" y1="499.8" x2="550.3" y2="499.8" stroke="#fff" stroke-width="0.8"/>
<line x1="557" y1="499.8" x2="672.6" y2="499.8" stroke="#fff" stroke-width="0.8"/>
<line x1="41.1" y1="512" x2="62.1" y2="512" stroke="#fff" stroke-width="0.8"/>
<line x1="68.1" y1="512" x2="143.1" y2="512" stroke="#fff" stroke-width="0.8"/>
<line x1="150" y1="512" x2="170.6" y2="512" stroke="#fff" stroke-width="0.8"/>
<line x1="177.1" y1="512" x2="252" y2="512" stroke="#fff" stroke-width="0.8"/>
<line x1="258.2" y1="512" x2="333" y2="512" stroke="#fff" stroke-width="0.8"/>
<line x1="339.7" y1="512" x2="387.4" y2="512" stroke="#fff" stroke-width="0.8"/>
<line x1="394.2" y1="512" x2="414.7" y2="512" stroke="#fff" stroke-width="0.8"/>
<line x1="421.2" y1="512" x2="522.8" y2="512" stroke="#fff" stroke-width="0.8"/>
<line x1="530.1" y1="512" x2="550.3" y2="512" stroke="#fff" stroke-width="0.8"/>
<line x1="557" y1="512" x2="672.6" y2="512" stroke="#fff" stroke-width="0.8"/>
<line x1="46.3" y1="459.2" x2="46.3" y2="524.2" stroke="#fff" stroke-width="0.8"/>
<line x1="56.6" y1="459.2" x2="56.6" y2="524.2" stroke="#fff" stroke-width="0.8"/>
<line x1="74.1" y1="459.2" x2="74.1" y2="524.2" stroke="#fff" stroke-width="0.8"/>
<line x1="86.9" y1="459.2" x2="86.9" y2="524.2" stroke="#fff" stroke-width="0.8"/>
<line x1="99.1" y1="459.2" x2="99.1" y2="524.2" stroke="#fff" stroke-width="0.8"/>
<line x1="111.9" y1="459.2" x2="111.9" y2="524.2" stroke="#fff" stroke-width="0.8"/>
<line x1="124.7" y1="459.2" x2="124.7" y2="524.2" stroke="#fff" stroke-width="0.8"/>
<line x1="137.2" y1="459.2" x2="137.2" y2="524.2" stroke="#fff" stroke-width="0.8"/>
<line x1="154.6" y1="459.2" x2="154.6" y2="524.2" stroke="#fff" stroke-width="0.8"/>
<line x1="165.5" y1="459.2" x2="165.5" y2="524.2" stroke="#fff" stroke-width="0.8"/>
<line x1="182.6" y1="459.2" x2="182.6" y2="524.2" stroke="#fff" stroke-width="0.8"/>
<line x1="195.5" y1="459.2" x2="195.5" y2="524.2" stroke="#fff" stroke-width="0.8"/>
<line x1="208.1" y1="459.2" x2="208.1" y2="524.2" stroke="#fff" stroke-width="0.8"/>
<line x1="220.7" y1="459.2" x2="220.7" y2="524.2" stroke="#fff" stroke-width="0.8"/>
<line x1="233.3" y1="459.2" x2="233.3" y2="524.2" stroke="#fff" stroke-width="0.8"/>
<line x1="245.9" y1="459.2" x2="245.9" y2="524.2" stroke="#fff" stroke-width="0.8"/>
<line x1="264.1" y1="459.2" x2="264.1" y2="524.2" stroke="#fff" stroke-width="0.8"/>
<line x1="276.9" y1="459.2" x2="276.9" y2="524.2" stroke="#fff" stroke-width="0.8"/>
<line x1="289.5" y1="459.2" x2="289.5" y2="524.2" stroke="#fff" stroke-width="0.8"/>
<line x1="301.9" y1="459.2" x2="301.9" y2="524.2" stroke="#fff" stroke-width="0.8"/>
<line x1="314.5" y1="459.2" x2="314.5" y2="524.2" stroke="#fff" stroke-width="0.8"/>
<line x1="327.1" y1="459.2" x2="327.1" y2="524.2" stroke="#fff" stroke-width="0.8"/>
<line x1="345.8" y1="459.2" x2="345.8" y2="524.2" stroke="#fff" stroke-width="0.8"/>
<line x1="357.9" y1="459.2" x2="357.9" y2="524.2" stroke="#fff" stroke-width="0.8"/>
<line x1="369.9" y1="459.2" x2="369.9" y2="524.2" stroke="#fff" stroke-width="0.8"/>
<line x1="382" y1="459.2" x2="382" y2="524.2" stroke="#fff" stroke-width="0.8"/>
<line x1="399.1" y1="459.2" x2="399.1" y2="524.2" stroke="#fff" stroke-width="0.8"/>
<line x1="409.6" y1="459.2" x2="409.6" y2="524.2" stroke="#fff" stroke-width="0.8"/>
<line x1="427.2" y1="459.2" x2="427.2" y2="524.2" stroke="#fff" stroke-width="0.8"/>
<line x1="439.8" y1="459.2" x2="439.8" y2="524.2" stroke="#fff" stroke-width="0.8"/>
<line x1="452.7" y1="459.2" x2="452.7" y2="524.2" stroke="#fff" stroke-width="0.8"/>
<line x1="465.3" y1="459.2" x2="465.3" y2="524.2" stroke="#fff" stroke-width="0.8"/>
<line x1="478.4" y1="459.2" x2="478.4" y2="524.2" stroke="#fff" stroke-width="0.8"/>
<line x1="491.1" y1="459.2" x2="491.1" y2="524.2" stroke="#fff" stroke-width="0.8"/>
<line x1="503.9" y1="459.2" x2="503.9" y2="524.2" stroke="#fff" stroke-width="0.8"/>
<line x1="516.8" y1="459.2" x2="516.8" y2="524.2" stroke="#fff" stroke-width="0.8"/>
<line x1="534.7" y1="459.2" x2="534.7" y2="524.2" stroke="#fff" stroke-width="0.8"/>
<line x1="545.2" y1="459.2" x2="545.2" y2="524.2" stroke="#fff" stroke-width="0.8"/>
<line x1="562.8" y1="459.2" x2="562.8" y2="524.2" stroke="#fff" stroke-width="0.8"/>
<line x1="575.4" y1="459.2" x2="575.4" y2="524.2" stroke="#fff" stroke-width="0.8"/>
<line x1="588.6" y1="459.2" x2="588.6" y2="524.2" stroke="#fff" stroke-width="0.8"/>
<line x1="601.4" y1="459.2" x2="601.4" y2="524.2" stroke="#fff" stroke-width="0.8"/>
<line x1="614.6" y1="459.2" x2="614.6" y2="524.2" stroke="#fff" stroke-width="0.8"/>
<line x1="627.2" y1="459.2" x2="627.2" y2="524.2" stroke="#fff" stroke-width="0.8"/>
<line x1="640.3" y1="459.2" x2="640.3" y2="524.2" stroke="#fff" stroke-width="0.8"/>
<line x1="653.4" y1="459.2" x2="653.4" y2="524.2" stroke="#fff" stroke-width="0.8"/>
<line x1="666.6" y1="459.2" x2="666.6" y2="524.2" stroke="#fff" stroke-width="0.8"/>
<rect x="43.75" y="515.8" width="5.1" height="8.4" fill="#88ccee"/>
<rect x="43.75" y="495.4" width="5.1" height="20.4" fill="#cc6677"/>
<rect x="43.75" y="478.7" width="5.1" height="16.7" fill="#ddcc77"/>
<rect x="43.75" y="472.4" width="5.1" height="6.3" fill="#117733"/>
<rect x="43.75" y="466.2" width="5.1" height="6.2" fill="#332288"/>
<rect x="43.75" y="463.2" width="5.1" height="3" fill="#aa4499"/>
<rect x="54.05" y="517.4" width="5.1" height="6.8" fill="#88ccee"/>
<rect x="54.05" y="497.4" width="5.1" height="20" fill="#cc6677"/>
<rect x="54.05" y="478" width="5.1" height="19.4" fill="#ddcc77"/>
<rect x="54.05" y="472.2" width="5.1" height="5.8" fill="#117733"/>
<rect x="54.05" y="466" width="5.1" height="6.2" fill="#332288"/>
<rect x="54.05" y="463.7" width="5.1" height="2.3" fill="#aa4499"/>
<rect x="54.05" y="463.2" width="5.1" height="0.5" fill="#44aa99"/>
<rect x="71.55" y="514.4" width="5.1" height="9.8" fill="#88ccee"/>
<rect x="71.55" y="487.1" width="5.1" height="27.3" fill="#cc6677"/>
<rect x="71.55" y="473" width="5.1" height="14.1" fill="#ddcc77"/>
<rect x="71.55" y="469.1" width="5.1" height="3.9" fill="#117733"/>
<rect x="71.55" y="465.4" width="5.1" height="3.7" fill="#332288"/>
<rect x="71.55" y="463.8" width="5.1" height="1.6" fill="#aa4499"/>
<rect x="71.55" y="462.7" width="5.1" height="1.1" fill="#44aa99"/>
<rect x="84.35" y="516.3" width="5.1" height="7.9" fill="#88ccee"/>
<rect x="84.35" y="498.4" width="5.1" height="17.9" fill="#cc6677"/>
<rect x="84.35" y="479.9" width="5.1" height="18.5" fill="#ddcc77"/>
<rect x="84.35" y="473.5" width="5.1" height="6.4" fill="#117733"/>
<rect x="84.35" y="463.8" width="5.1" height="9.7" fill="#332288"/>
<rect x="84.35" y="462.7" width="5.1" height="1.1" fill="#44aa99"/>
<rect x="96.55" y="517.6" width="5.1" height="6.6" fill="#88ccee"/>
<rect x="96.55" y="500.4" width="5.1" height="17.2" fill="#cc6677"/>
<rect x="96.55" y="476.4" width="5.1" height="24" fill="#ddcc77"/>
<rect x="96.55" y="473.1" width="5.1" height="3.3" fill="#117733"/>
<rect x="96.55" y="467" width="5.1" height="6.1" fill="#332288"/>
<rect x="96.55" y="462.7" width="5.1" height="4.3" fill="#aa4499"/>
<rect x="109.35" y="516.3" width="5.1" height="7.9" fill="#88ccee"/>
<rect x="109.35" y="496.4" width="5.1" height="19.9" fill="#cc6677"/>
<rect x="109.35" y="476.7" width="5.1" height="19.7" fill="#ddcc77"/>
<rect x="109.35" y="469.5" width="5.1" height="7.2" fill="#117733"/>
<rect x="109.35" y="463.4" width="5.1" height="6.1" fill="#332288"/>
<rect x="109.35" y="462.7" width="5.1" height="0.7" fill="#44aa99"/>
<rect x="122.15" y="509.9" width="5.1" height="14.3" fill="#cc6677"/>
<rect x="122.15" y="479.1" width="5.1" height="30.8" fill="#ddcc77"/>
<rect x="122.15" y="473" width="5.1" height="6.1" fill="#117733"/>
<rect x="122.15" y="465.9" width="5.1" height="7.1" fill="#332288"/>
<rect x="122.15" y="462.7" width="5.1" height="3.2" fill="#aa4499"/>
<rect x="134.65" y="517.3" width="5.1" height="6.9" fill="#88ccee"/>
<rect x="134.65" y="497.9" width="5.1" height="19.4" fill="#cc6677"/>
<rect x="134.65" y="481" width="5.1" height="16.9" fill="#ddcc77"/>
<rect x="134.65" y="472.3" width="5.1" height="8.7" fill="#117733"/>
<rect x="134.65" y="465" width="5.1" height="7.3" fill="#332288"/>
<rect x="134.65" y="462.7" width="5.1" height="2.3" fill="#aa4499"/>
<rect x="152.05" y="517.3" width="5.1" height="6.9" fill="#88ccee"/>
<rect x="152.05" y="495.6" width="5.1" height="21.7" fill="#cc6677"/>
<rect x="152.05" y="481" width="5.1" height="14.6" fill="#ddcc77"/>
<rect x="152.05" y="474.6" width="5.1" height="6.4" fill="#117733"/>
<rect x="152.05" y="464.3" width="5.1" height="10.3" fill="#332288"/>
<rect x="152.05" y="462.7" width="5.1" height="1.6" fill="#aa4499"/>
<rect x="162.95" y="515.4" width="5.1" height="8.8" fill="#88ccee"/>
<rect x="162.95" y="496.8" width="5.1" height="18.6" fill="#cc6677"/>
<rect x="162.95" y="479.1" width="5.1" height="17.7" fill="#ddcc77"/>
<rect x="162.95" y="471.1" width="5.1" height="8" fill="#117733"/>
<rect x="162.95" y="463.8" width="5.1" height="7.3" fill="#332288"/>
<rect x="162.95" y="462.7" width="5.1" height="1.1" fill="#44aa99"/>
<rect x="180.05" y="518" width="5.1" height="6.2" fill="#88ccee"/>
<rect x="180.05" y="494.8" width="5.1" height="23.2" fill="#cc6677"/>
<rect x="180.05" y="480.4" width="5.1" height="14.4" fill="#ddcc77"/>
<rect x="180.05" y="474.3" width="5.1" height="6.1" fill="#117733"/>
<rect x="180.05" y="467" width="5.1" height="7.3" fill="#332288"/>
<rect x="180.05" y="463.8" width="5.1" height="3.2" fill="#aa4499"/>
<rect x="180.05" y="462.7" width="5.1" height="1.1" fill="#44aa99"/>
<rect x="192.95" y="517.3" width="5.1" height="6.9" fill="#88ccee"/>
<rect x="192.95" y="495.5" width="5.1" height="21.8" fill="#cc6677"/>
<rect x="192.95" y="480.4" width="5.1" height="15.1" fill="#ddcc77"/>
<rect x="192.95" y="474.3" width="5.1" height="6.1" fill="#117733"/>
<rect x="192.95" y="468.7" width="5.1" height="5.6" fill="#332288"/>
<rect x="192.95" y="463.8" width="5.1" height="4.9" fill="#aa4499"/>
<rect x="192.95" y="462.7" width="5.1" height="1.1" fill="#44aa99"/>
<rect x="205.55" y="516.3" width="5.1" height="7.9" fill="#88ccee"/>
<rect x="205.55" y="489" width="5.1" height="27.3" fill="#cc6677"/>
<rect x="205.55" y="473" width="5.1" height="16" fill="#ddcc77"/>
<rect x="205.55" y="469.5" width="5.1" height="3.5" fill="#117733"/>
<rect x="205.55" y="465.4" width="5.1" height="4.1" fill="#332288"/>
<rect x="205.55" y="463.8" width="5.1" height="1.6" fill="#aa4499"/>
<rect x="205.55" y="462.7" width="5.1" height="1.1" fill="#44aa99"/>
<rect x="218.15" y="516.3" width="5.1" height="7.9" fill="#88ccee"/>
<rect x="218.15" y="486.8" width="5.1" height="29.5" fill="#cc6677"/>
<rect x="218.15" y="472.3" width="5.1" height="14.5" fill="#ddcc77"/>
<rect x="218.15" y="469" width="5.1" height="3.3" fill="#117733"/>
<rect x="218.15" y="465.1" width="5.1" height="3.9" fill="#332288"/>
<rect x="218.15" y="462.7" width="5.1" height="2.4" fill="#aa4499"/>
<rect x="230.75" y="513.6" width="5.1" height="10.6" fill="#88ccee"/>
<rect x="230.75" y="493.9" width="5.1" height="19.7" fill="#cc6677"/>
<rect x="230.75" y="482" width="5.1" height="11.9" fill="#ddcc77"/>
<rect x="230.75" y="474" width="5.1" height="8" fill="#117733"/>
<rect x="230.75" y="467" width="5.1" height="7" fill="#332288"/>
<rect x="230.75" y="464.2" width="5.1" height="2.8" fill="#aa4499"/>
<rect x="230.75" y="462.7" width="5.1" height="1.5" fill="#44aa99"/>
<rect x="243.35" y="513.1" width="5.1" height="11.1" fill="#88ccee"/>
<rect x="243.35" y="493.9" width="5.1" height="19.2" fill="#cc6677"/>
<rect x="243.35" y="480.4" width="5.1" height="13.5" fill="#ddcc77"/>
<rect x="243.35" y="473.5" width="5.1" height="6.9" fill="#117733"/>
<rect x="243.35" y="466.2" width="5.1" height="7.3" fill="#332288"/>
<rect x="243.35" y="463.8" width="5.1" height="2.4" fill="#aa4499"/>
<rect x="243.35" y="462.7" width="5.1" height="1.1" fill="#44aa99"/>
<rect x="261.55" y="516.3" width="5.1" height="7.9" fill="#88ccee"/>
<rect x="261.55" y="498.4" width="5.1" height="17.9" fill="#cc6677"/>
<rect x="261.55" y="478.3" width="5.1" height="20.1" fill="#ddcc77"/>
<rect x="261.55" y="471.4" width="5.1" height="6.9" fill="#117733"/>
<rect x="261.55" y="464.3" width="5.1" height="7.1" fill="#332288"/>
<rect x="261.55" y="462.7" width="5.1" height="1.6" fill="#aa4499"/>
<rect x="274.35" y="515.2" width="5.1" height="9" fill="#88ccee"/>
<rect x="274.35" y="497.6" width="5.1" height="17.6" fill="#cc6677"/>
<rect x="274.35" y="478.3" width="5.1" height="19.3" fill="#ddcc77"/>
<rect x="274.35" y="470.3" width="5.1" height="8" fill="#117733"/>
<rect x="274.35" y="463.8" width="5.1" height="6.5" fill="#332288"/>
<rect x="274.35" y="463.3" width="5.1" height="0.5" fill="#aa4499"/>
<rect x="274.35" y="462.7" width="5.1" height="0.6" fill="#44aa99"/>
<rect x="286.95" y="512.5" width="5.1" height="11.7" fill="#88ccee"/>
<rect x="286.95" y="493.5" width="5.1" height="19" fill="#cc6677"/>
<rect x="286.95" y="477.2" width="5.1" height="16.3" fill="#ddcc77"/>
<rect x="286.95" y="470.3" width="5.1" height="6.9" fill="#117733"/>
<rect x="286.95" y="463.8" width="5.1" height="6.5" fill="#332288"/>
<rect x="286.95" y="462.7" width="5.1" height="1.1" fill="#44aa99"/>
<rect x="299.35" y="514.4" width="5.1" height="9.8" fill="#88ccee"/>
<rect x="299.35" y="493.1" width="5.1" height="21.3" fill="#cc6677"/>
<rect x="299.35" y="475.9" width="5.1" height="17.2" fill="#ddcc77"/>
<rect x="299.35" y="469.5" width="5.1" height="6.4" fill="#117733"/>
<rect x="299.35" y="463.8" width="5.1" height="5.7" fill="#332288"/>
<rect x="299.35" y="462.7" width="5.1" height="1.1" fill="#44aa99"/>
<rect x="311.95" y="511.2" width="5.1" height="13" fill="#88ccee"/>
<rect x="311.95" y="490.7" width="5.1" height="20.5" fill="#cc6677"/>
<rect x="311.95" y="471.9" width="5.1" height="18.8" fill="#ddcc77"/>
<rect x="311.95" y="465" width="5.1" height="6.9" fill="#117733"/>
<rect x="311.95" y="462.7" width="5.1" height="2.3" fill="#332288"/>
<rect x="324.55" y="514.4" width="5.1" height="9.8" fill="#88ccee"/>
<rect x="324.55" y="493.5" width="5.1" height="20.9" fill="#cc6677"/>
<rect x="324.55" y="475.1" width="5.1" height="18.4" fill="#ddcc77"/>
<rect x="324.55" y="467" width="5.1" height="8.1" fill="#117733"/>
<rect x="324.55" y="462.7" width="5.1" height="4.3" fill="#332288"/>
<rect x="343.25" y="512" width="5.1" height="12.2" fill="#88ccee"/>
<rect x="343.25" y="488.7" width="5.1" height="23.3" fill="#cc6677"/>
<rect x="343.25" y="473" width="5.1" height="15.7" fill="#ddcc77"/>
<rect x="343.25" y="467" width="5.1" height="6" fill="#117733"/>
<rect x="343.25" y="464.6" width="5.1" height="2.4" fill="#332288"/>
<rect x="343.25" y="463.8" width="5.1" height="0.8" fill="#aa4499"/>
<rect x="343.25" y="462.7" width="5.1" height="1.1" fill="#44aa99"/>
<rect x="355.35" y="507.2" width="5.1" height="17" fill="#88ccee"/>
<rect x="355.35" y="485.8" width="5.1" height="21.4" fill="#cc6677"/>
<rect x="355.35" y="476.2" width="5.1" height="9.6" fill="#ddcc77"/>
<rect x="355.35" y="469.1" width="5.1" height="7.1" fill="#117733"/>
<rect x="355.35" y="463.8" width="5.1" height="5.3" fill="#332288"/>
<rect x="355.35" y="462.7" width="5.1" height="1.1" fill="#44aa99"/>
<rect x="367.35" y="513.6" width="5.1" height="10.6" fill="#88ccee"/>
<rect x="367.35" y="488.7" width="5.1" height="24.9" fill="#cc6677"/>
<rect x="367.35" y="473" width="5.1" height="15.7" fill="#ddcc77"/>
<rect x="367.35" y="467.5" width="5.1" height="5.5" fill="#117733"/>
<rect x="367.35" y="463.8" width="5.1" height="3.7" fill="#332288"/>
<rect x="367.35" y="462.7" width="5.1" height="1.1" fill="#44aa99"/>
<rect x="379.45" y="501.9" width="5.1" height="22.3" fill="#88ccee"/>
<rect x="379.45" y="477.2" width="5.1" height="24.7" fill="#cc6677"/>
<rect x="379.45" y="469.5" width="5.1" height="7.7" fill="#ddcc77"/>
<rect x="379.45" y="462.7" width="5.1" height="6.8" fill="#117733"/>
<rect x="396.55" y="517.1" width="5.1" height="7.1" fill="#88ccee"/>
<rect x="396.55" y="498" width="5.1" height="19.1" fill="#cc6677"/>
<rect x="396.55" y="477.5" width="5.1" height="20.5" fill="#ddcc77"/>
<rect x="396.55" y="473.5" width="5.1" height="4" fill="#117733"/>
<rect x="396.55" y="467" width="5.1" height="6.5" fill="#332288"/>
<rect x="396.55" y="463.8" width="5.1" height="3.2" fill="#aa4499"/>
<rect x="396.55" y="462.7" width="5.1" height="1.1" fill="#44aa99"/>
<rect x="407.05" y="515.7" width="5.1" height="8.5" fill="#88ccee"/>
<rect x="407.05" y="494.8" width="5.1" height="20.9" fill="#cc6677"/>
<rect x="407.05" y="475.9" width="5.1" height="18.9" fill="#ddcc77"/>
<rect x="407.05" y="472.7" width="5.1" height="3.2" fill="#117733"/>
<rect x="407.05" y="466.2" width="5.1" height="6.5" fill="#332288"/>
<rect x="407.05" y="462.7" width="5.1" height="3.5" fill="#aa4499"/>
<rect x="424.65" y="515.2" width="5.1" height="9" fill="#88ccee"/>
<rect x="424.65" y="489.5" width="5.1" height="25.7" fill="#cc6677"/>
<rect x="424.65" y="480.4" width="5.1" height="9.1" fill="#ddcc77"/>
<rect x="424.65" y="472.3" width="5.1" height="8.1" fill="#117733"/>
<rect x="424.65" y="465.4" width="5.1" height="6.9" fill="#332288"/>
<rect x="424.65" y="463.4" width="5.1" height="2" fill="#aa4499"/>
<rect x="424.65" y="462.7" width="5.1" height="0.7" fill="#44aa99"/>
<rect x="437.25" y="514.7" width="5.1" height="9.5" fill="#88ccee"/>
<rect x="437.25" y="489" width="5.1" height="25.7" fill="#cc6677"/>
<rect x="437.25" y="477.2" width="5.1" height="11.8" fill="#ddcc77"/>
<rect x="437.25" y="469.1" width="5.1" height="8.1" fill="#117733"/>
<rect x="437.25" y="463.3" width="5.1" height="5.8" fill="#332288"/>
<rect x="437.25" y="462.7" width="5.1" height="0.6" fill="#aa4499"/>
<rect x="450.15" y="513.1" width="5.1" height="11.1" fill="#88ccee"/>
<rect x="450.15" y="483.1" width="5.1" height="30" fill="#cc6677"/>
<rect x="450.15" y="473.5" width="5.1" height="9.6" fill="#ddcc77"/>
<rect x="450.15" y="468.7" width="5.1" height="4.8" fill="#117733"/>
<rect x="450.15" y="462.7" width="5.1" height="6" fill="#332288"/>
<rect x="462.75" y="517.6" width="5.1" height="6.6" fill="#88ccee"/>
<rect x="462.75" y="493.1" width="5.1" height="24.5" fill="#cc6677"/>
<rect x="462.75" y="475.1" width="5.1" height="18" fill="#ddcc77"/>
<rect x="462.75" y="469.5" width="5.1" height="5.6" fill="#117733"/>
<rect x="462.75" y="465.9" width="5.1" height="3.6" fill="#332288"/>
<rect x="462.75" y="463.8" width="5.1" height="2.1" fill="#aa4499"/>
<rect x="462.75" y="462.7" width="5.1" height="1.1" fill="#44aa99"/>
<rect x="475.85" y="508.8" width="5.1" height="15.4" fill="#88ccee"/>
<rect x="475.85" y="482.6" width="5.1" height="26.2" fill="#cc6677"/>
<rect x="475.85" y="471.9" width="5.1" height="10.7" fill="#ddcc77"/>
<rect x="475.85" y="467" width="5.1" height="4.9" fill="#117733"/>
<rect x="475.85" y="462.7" width="5.1" height="4.3" fill="#332288"/>
<rect x="488.55" y="507.2" width="5.1" height="17" fill="#88ccee"/>
<rect x="488.55" y="484.7" width="5.1" height="22.5" fill="#cc6677"/>
<rect x="488.55" y="471.1" width="5.1" height="13.6" fill="#ddcc77"/>
<rect x="488.55" y="465.4" width="5.1" height="5.7" fill="#117733"/>
<rect x="488.55" y="462.7" width="5.1" height="2.7" fill="#332288"/>
<rect x="501.35" y="517.3" width="5.1" height="6.9" fill="#88ccee"/>
<rect x="501.35" y="491.9" width="5.1" height="25.4" fill="#cc6677"/>
<rect x="501.35" y="475.1" width="5.1" height="16.8" fill="#ddcc77"/>
<rect x="501.35" y="469.1" width="5.1" height="6" fill="#117733"/>
<rect x="501.35" y="465.9" width="5.1" height="3.2" fill="#332288"/>
<rect x="501.35" y="463.8" width="5.1" height="2.1" fill="#aa4499"/>
<rect x="501.35" y="462.7" width="5.1" height="1.1" fill="#44aa99"/>
<rect x="514.25" y="508.3" width="5.1" height="15.9" fill="#88ccee"/>
<rect x="514.25" y="484.7" width="5.1" height="23.6" fill="#cc6677"/>
<rect x="514.25" y="470.3" width="5.1" height="14.4" fill="#ddcc77"/>
<rect x="514.25" y="465.4" width="5.1" height="4.9" fill="#117733"/>
<rect x="514.25" y="462.7" width="5.1" height="2.7" fill="#332288"/>
<rect x="532.15" y="516.3" width="5.1" height="7.9" fill="#88ccee"/>
<rect x="532.15" y="489.5" width="5.1" height="26.8" fill="#cc6677"/>
<rect x="532.15" y="475.1" width="5.1" height="14.4" fill="#ddcc77"/>
<rect x="532.15" y="466.2" width="5.1" height="8.9" fill="#117733"/>
<rect x="532.15" y="462.7" width="5.1" height="3.5" fill="#332288"/>
<rect x="542.65" y="493.9" width="5.1" height="30.3" fill="#88ccee"/>
<rect x="542.65" y="481.5" width="5.1" height="12.4" fill="#cc6677"/>
<rect x="542.65" y="474" width="5.1" height="7.5" fill="#ddcc77"/>
<rect x="542.65" y="462.7" width="5.1" height="11.3" fill="#117733"/>
<rect x="560.25" y="510.9" width="5.1" height="13.3" fill="#88ccee"/>
<rect x="560.25" y="490.7" width="5.1" height="20.2" fill="#cc6677"/>
<rect x="560.25" y="467" width="5.1" height="23.7" fill="#ddcc77"/>
<rect x="560.25" y="462.7" width="5.1" height="4.3" fill="#117733"/>
<rect x="572.85" y="515.2" width="5.1" height="9" fill="#88ccee"/>
<rect x="572.85" y="492.7" width="5.1" height="22.5" fill="#cc6677"/>
<rect x="572.85" y="470.7" width="5.1" height="22" fill="#ddcc77"/>
<rect x="572.85" y="465.4" width="5.1" height="5.3" fill="#117733"/>
<rect x="572.85" y="463.8" width="5.1" height="1.6" fill="#aa4499"/>
<rect x="572.85" y="462.7" width="5.1" height="1.1" fill="#44aa99"/>
<rect x="586.05" y="504.5" width="5.1" height="19.7" fill="#88ccee"/>
<rect x="586.05" y="495.1" width="5.1" height="9.4" fill="#cc6677"/>
<rect x="586.05" y="469.1" width="5.1" height="26" fill="#ddcc77"/>
<rect x="586.05" y="462.7" width="5.1" height="6.4" fill="#117733"/>
<rect x="598.85" y="509.6" width="5.1" height="14.6" fill="#88ccee"/>
<rect x="598.85" y="493.2" width="5.1" height="16.4" fill="#cc6677"/>
<rect x="598.85" y="468.2" width="5.1" height="25" fill="#ddcc77"/>
<rect x="598.85" y="462.7" width="5.1" height="5.5" fill="#117733"/>
<rect x="612.05" y="508.3" width="5.1" height="15.9" fill="#88ccee"/>
<rect x="612.05" y="494" width="5.1" height="14.3" fill="#cc6677"/>
<rect x="612.05" y="473" width="5.1" height="21" fill="#ddcc77"/>
<rect x="612.05" y="466.6" width="5.1" height="6.4" fill="#117733"/>
<rect x="612.05" y="462.7" width="5.1" height="3.9" fill="#aa4499"/>
<rect x="624.65" y="512" width="5.1" height="12.2" fill="#88ccee"/>
<rect x="624.65" y="491.9" width="5.1" height="20.1" fill="#cc6677"/>
<rect x="624.65" y="471.9" width="5.1" height="20" fill="#ddcc77"/>
<rect x="624.65" y="467.5" width="5.1" height="4.4" fill="#117733"/>
<rect x="624.65" y="462.7" width="5.1" height="4.8" fill="#332288"/>
<rect x="637.75" y="501.6" width="5.1" height="22.6" fill="#88ccee"/>
<rect x="637.75" y="480.4" width="5.1" height="21.2" fill="#cc6677"/>
<rect x="637.75" y="466.2" width="5.1" height="14.2" fill="#ddcc77"/>
<rect x="637.75" y="462.7" width="5.1" height="3.5" fill="#117733"/>
<rect x="650.85" y="481.5" width="5.1" height="42.7" fill="#88ccee"/>
<rect x="650.85" y="479.4" width="5.1" height="2.1" fill="#cc6677"/>
<rect x="650.85" y="462.7" width="5.1" height="16.7" fill="#ddcc77"/>
<rect x="664.05" y="507.2" width="5.1" height="17" fill="#88ccee"/>
<rect x="664.05" y="493.9" width="5.1" height="13.3" fill="#cc6677"/>
<rect x="664.05" y="471.9" width="5.1" height="22" fill="#ddcc77"/>
<rect x="664.05" y="462.7" width="5.1" height="9.2" fill="#117733"/>
<text x="37.6" y="466.2" text-anchor="end">1.0</text>
<text x="37.6" y="478.5" text-anchor="end">0.8</text>
<text x="37.6" y="490.8" text-anchor="end">0.6</text>
<text x="37.6" y="503.1" text-anchor="end">0.4</text>
<text x="37.6" y="515.4" text-anchor="end">0.2</text>
<text x="20.3" y="489.2" text-anchor="middle" font-size="7.7" transform="rotate(-90 20.3 489.2)">Cell annotation</text>
<path d="M3.1,452.9 V459.2 Q3.1,460.9 5.8,460.9" fill="none" stroke="#000" stroke-width="2.1"/>
<rect x="46.9" y="528" width="13.9" height="3.6" fill="#44aa99"/>
<text x="63.6" y="532.5" font-size="7.5" textLength="13.3" lengthAdjust="spacingAndGlyphs">DCs</text>
<rect x="135.7" y="528" width="13.3" height="3.6" fill="#aa4499"/>
<text x="151.8" y="532.5" font-size="7.5" textLength="58.8" lengthAdjust="spacingAndGlyphs">CD16<tspan font-size="4.6" dy="-2.6">+</tspan><tspan dy="2.6"> monocytes</tspan></text>
<rect x="239.7" y="528" width="13.9" height="3.6" fill="#332288"/>
<text x="256.4" y="532.5" font-size="7.5" textLength="27.7" lengthAdjust="spacingAndGlyphs">NK cells</text>
<rect x="344.3" y="528" width="13.9" height="3.6" fill="#117733"/>
<text x="361.8" y="532.5" font-size="7.5" textLength="22.2" lengthAdjust="spacingAndGlyphs">B cells</text>
<rect x="401.4" y="528" width="13" height="3.6" fill="#ddcc77"/>
<text x="417.2" y="532.5" font-size="7.5" textLength="59.1" lengthAdjust="spacingAndGlyphs">CD14<tspan font-size="4.6" dy="-2.6">+</tspan><tspan dy="2.6"> monocytes</tspan></text>
<rect x="505.4" y="528" width="13.9" height="3.6" fill="#cc6677"/>
<text x="523.4" y="532.5" font-size="7.5" textLength="42.5" lengthAdjust="spacingAndGlyphs">Naive T cells</text>
<rect x="587.2" y="528" width="13.5" height="3.6" fill="#88ccee"/>
<text x="603.8" y="532.5" font-size="7.5" textLength="56.2" lengthAdjust="spacingAndGlyphs">Cytotoxic T cells</text>
<rect x="41.1" y="551" width="21" height="64.4" fill="#eaeaf2"/>
<rect x="68.1" y="551" width="75" height="64.4" fill="#eaeaf2"/>
<rect x="150" y="551" width="20.6" height="64.4" fill="#eaeaf2"/>
<rect x="177.1" y="551" width="74.9" height="64.4" fill="#eaeaf2"/>
<rect x="258.2" y="551" width="74.8" height="64.4" fill="#eaeaf2"/>
<rect x="339.7" y="551" width="47.7" height="64.4" fill="#eaeaf2"/>
<rect x="394.2" y="551" width="20.5" height="64.4" fill="#eaeaf2"/>
<rect x="421.2" y="551" width="101.6" height="64.4" fill="#eaeaf2"/>
<rect x="530.1" y="551" width="20.2" height="64.4" fill="#eaeaf2"/>
<rect x="557" y="551" width="115.6" height="64.4" fill="#eaeaf2"/>
<line x1="41.1" y1="553.7" x2="62.1" y2="553.7" stroke="#fff" stroke-width="0.8"/>
<line x1="68.1" y1="553.7" x2="143.1" y2="553.7" stroke="#fff" stroke-width="0.8"/>
<line x1="150" y1="553.7" x2="170.6" y2="553.7" stroke="#fff" stroke-width="0.8"/>
<line x1="177.1" y1="553.7" x2="252" y2="553.7" stroke="#fff" stroke-width="0.8"/>
<line x1="258.2" y1="553.7" x2="333" y2="553.7" stroke="#fff" stroke-width="0.8"/>
<line x1="339.7" y1="553.7" x2="387.4" y2="553.7" stroke="#fff" stroke-width="0.8"/>
<line x1="394.2" y1="553.7" x2="414.7" y2="553.7" stroke="#fff" stroke-width="0.8"/>
<line x1="421.2" y1="553.7" x2="522.8" y2="553.7" stroke="#fff" stroke-width="0.8"/>
<line x1="530.1" y1="553.7" x2="550.3" y2="553.7" stroke="#fff" stroke-width="0.8"/>
<line x1="557" y1="553.7" x2="672.6" y2="553.7" stroke="#fff" stroke-width="0.8"/>
<line x1="41.1" y1="574.5" x2="62.1" y2="574.5" stroke="#fff" stroke-width="0.8"/>
<line x1="68.1" y1="574.5" x2="143.1" y2="574.5" stroke="#fff" stroke-width="0.8"/>
<line x1="150" y1="574.5" x2="170.6" y2="574.5" stroke="#fff" stroke-width="0.8"/>
<line x1="177.1" y1="574.5" x2="252" y2="574.5" stroke="#fff" stroke-width="0.8"/>
<line x1="258.2" y1="574.5" x2="333" y2="574.5" stroke="#fff" stroke-width="0.8"/>
<line x1="339.7" y1="574.5" x2="387.4" y2="574.5" stroke="#fff" stroke-width="0.8"/>
<line x1="394.2" y1="574.5" x2="414.7" y2="574.5" stroke="#fff" stroke-width="0.8"/>
<line x1="421.2" y1="574.5" x2="522.8" y2="574.5" stroke="#fff" stroke-width="0.8"/>
<line x1="530.1" y1="574.5" x2="550.3" y2="574.5" stroke="#fff" stroke-width="0.8"/>
<line x1="557" y1="574.5" x2="672.6" y2="574.5" stroke="#fff" stroke-width="0.8"/>
<line x1="41.1" y1="595.3" x2="62.1" y2="595.3" stroke="#fff" stroke-width="0.8"/>
<line x1="68.1" y1="595.3" x2="143.1" y2="595.3" stroke="#fff" stroke-width="0.8"/>
<line x1="150" y1="595.3" x2="170.6" y2="595.3" stroke="#fff" stroke-width="0.8"/>
<line x1="177.1" y1="595.3" x2="252" y2="595.3" stroke="#fff" stroke-width="0.8"/>
<line x1="258.2" y1="595.3" x2="333" y2="595.3" stroke="#fff" stroke-width="0.8"/>
<line x1="339.7" y1="595.3" x2="387.4" y2="595.3" stroke="#fff" stroke-width="0.8"/>
<line x1="394.2" y1="595.3" x2="414.7" y2="595.3" stroke="#fff" stroke-width="0.8"/>
<line x1="421.2" y1="595.3" x2="522.8" y2="595.3" stroke="#fff" stroke-width="0.8"/>
<line x1="530.1" y1="595.3" x2="550.3" y2="595.3" stroke="#fff" stroke-width="0.8"/>
<line x1="557" y1="595.3" x2="672.6" y2="595.3" stroke="#fff" stroke-width="0.8"/>
<line x1="46.3" y1="551" x2="46.3" y2="615.4" stroke="#fff" stroke-width="0.8"/>
<line x1="56.6" y1="551" x2="56.6" y2="615.4" stroke="#fff" stroke-width="0.8"/>
<line x1="74.1" y1="551" x2="74.1" y2="615.4" stroke="#fff" stroke-width="0.8"/>
<line x1="86.9" y1="551" x2="86.9" y2="615.4" stroke="#fff" stroke-width="0.8"/>
<line x1="99.1" y1="551" x2="99.1" y2="615.4" stroke="#fff" stroke-width="0.8"/>
<line x1="111.9" y1="551" x2="111.9" y2="615.4" stroke="#fff" stroke-width="0.8"/>
<line x1="124.7" y1="551" x2="124.7" y2="615.4" stroke="#fff" stroke-width="0.8"/>
<line x1="137.2" y1="551" x2="137.2" y2="615.4" stroke="#fff" stroke-width="0.8"/>
<line x1="154.6" y1="551" x2="154.6" y2="615.4" stroke="#fff" stroke-width="0.8"/>
<line x1="165.5" y1="551" x2="165.5" y2="615.4" stroke="#fff" stroke-width="0.8"/>
<line x1="182.6" y1="551" x2="182.6" y2="615.4" stroke="#fff" stroke-width="0.8"/>
<line x1="195.5" y1="551" x2="195.5" y2="615.4" stroke="#fff" stroke-width="0.8"/>
<line x1="208.1" y1="551" x2="208.1" y2="615.4" stroke="#fff" stroke-width="0.8"/>
<line x1="220.7" y1="551" x2="220.7" y2="615.4" stroke="#fff" stroke-width="0.8"/>
<line x1="233.3" y1="551" x2="233.3" y2="615.4" stroke="#fff" stroke-width="0.8"/>
<line x1="245.9" y1="551" x2="245.9" y2="615.4" stroke="#fff" stroke-width="0.8"/>
<line x1="264.1" y1="551" x2="264.1" y2="615.4" stroke="#fff" stroke-width="0.8"/>
<line x1="276.9" y1="551" x2="276.9" y2="615.4" stroke="#fff" stroke-width="0.8"/>
<line x1="289.5" y1="551" x2="289.5" y2="615.4" stroke="#fff" stroke-width="0.8"/>
<line x1="301.9" y1="551" x2="301.9" y2="615.4" stroke="#fff" stroke-width="0.8"/>
<line x1="314.5" y1="551" x2="314.5" y2="615.4" stroke="#fff" stroke-width="0.8"/>
<line x1="327.1" y1="551" x2="327.1" y2="615.4" stroke="#fff" stroke-width="0.8"/>
<line x1="345.8" y1="551" x2="345.8" y2="615.4" stroke="#fff" stroke-width="0.8"/>
<line x1="357.9" y1="551" x2="357.9" y2="615.4" stroke="#fff" stroke-width="0.8"/>
<line x1="369.9" y1="551" x2="369.9" y2="615.4" stroke="#fff" stroke-width="0.8"/>
<line x1="382" y1="551" x2="382" y2="615.4" stroke="#fff" stroke-width="0.8"/>
<line x1="399.1" y1="551" x2="399.1" y2="615.4" stroke="#fff" stroke-width="0.8"/>
<line x1="409.6" y1="551" x2="409.6" y2="615.4" stroke="#fff" stroke-width="0.8"/>
<line x1="427.2" y1="551" x2="427.2" y2="615.4" stroke="#fff" stroke-width="0.8"/>
<line x1="439.8" y1="551" x2="439.8" y2="615.4" stroke="#fff" stroke-width="0.8"/>
<line x1="452.7" y1="551" x2="452.7" y2="615.4" stroke="#fff" stroke-width="0.8"/>
<line x1="465.3" y1="551" x2="465.3" y2="615.4" stroke="#fff" stroke-width="0.8"/>
<line x1="478.4" y1="551" x2="478.4" y2="615.4" stroke="#fff" stroke-width="0.8"/>
<line x1="491.1" y1="551" x2="491.1" y2="615.4" stroke="#fff" stroke-width="0.8"/>
<line x1="503.9" y1="551" x2="503.9" y2="615.4" stroke="#fff" stroke-width="0.8"/>
<line x1="516.8" y1="551" x2="516.8" y2="615.4" stroke="#fff" stroke-width="0.8"/>
<line x1="534.7" y1="551" x2="534.7" y2="615.4" stroke="#fff" stroke-width="0.8"/>
<line x1="545.2" y1="551" x2="545.2" y2="615.4" stroke="#fff" stroke-width="0.8"/>
<line x1="562.8" y1="551" x2="562.8" y2="615.4" stroke="#fff" stroke-width="0.8"/>
<line x1="575.4" y1="551" x2="575.4" y2="615.4" stroke="#fff" stroke-width="0.8"/>
<line x1="588.6" y1="551" x2="588.6" y2="615.4" stroke="#fff" stroke-width="0.8"/>
<line x1="601.4" y1="551" x2="601.4" y2="615.4" stroke="#fff" stroke-width="0.8"/>
<line x1="614.6" y1="551" x2="614.6" y2="615.4" stroke="#fff" stroke-width="0.8"/>
<line x1="627.2" y1="551" x2="627.2" y2="615.4" stroke="#fff" stroke-width="0.8"/>
<line x1="640.3" y1="551" x2="640.3" y2="615.4" stroke="#fff" stroke-width="0.8"/>
<line x1="653.4" y1="551" x2="653.4" y2="615.4" stroke="#fff" stroke-width="0.8"/>
<line x1="666.6" y1="551" x2="666.6" y2="615.4" stroke="#fff" stroke-width="0.8"/>
<rect x="43.75" y="611.8" width="5.1" height="3.6" fill="#88ccee"/>
<rect x="43.75" y="606.9" width="5.1" height="4.9" fill="#cc6677"/>
<rect x="43.75" y="596.4" width="5.1" height="10.5" fill="#ddcc77"/>
<rect x="43.75" y="593.4" width="5.1" height="3" fill="#117733"/>
<rect x="43.75" y="589.9" width="5.1" height="3.5" fill="#332288"/>
<rect x="43.75" y="579.9" width="5.1" height="10" fill="#aa4499"/>
<rect x="43.75" y="571.2" width="5.1" height="8.7" fill="#44aa99"/>
<rect x="54.05" y="611" width="5.1" height="4.4" fill="#88ccee"/>
<rect x="54.05" y="605.7" width="5.1" height="5.3" fill="#cc6677"/>
<rect x="54.05" y="593.4" width="5.1" height="12.3" fill="#ddcc77"/>
<rect x="54.05" y="589.4" width="5.1" height="4" fill="#117733"/>
<rect x="54.05" y="585.9" width="5.1" height="3.5" fill="#332288"/>
<rect x="54.05" y="573.8" width="5.1" height="12.1" fill="#aa4499"/>
<rect x="54.05" y="561.9" width="5.1" height="11.9" fill="#44aa99"/>
<rect x="71.55" y="611.8" width="5.1" height="3.6" fill="#88ccee"/>
<rect x="71.55" y="606.9" width="5.1" height="4.9" fill="#cc6677"/>
<rect x="71.55" y="595.7" width="5.1" height="11.2" fill="#ddcc77"/>
<rect x="71.55" y="591.7" width="5.1" height="4" fill="#117733"/>
<rect x="71.55" y="588.7" width="5.1" height="3" fill="#332288"/>
<rect x="71.55" y="577.7" width="5.1" height="11" fill="#aa4499"/>
<rect x="71.55" y="567.2" width="5.1" height="10.5" fill="#44aa99"/>
<rect x="84.35" y="609.7" width="5.1" height="5.7" fill="#88ccee"/>
<rect x="84.35" y="603.9" width="5.1" height="5.8" fill="#cc6677"/>
<rect x="84.35" y="590.5" width="5.1" height="13.4" fill="#ddcc77"/>
<rect x="84.35" y="585.5" width="5.1" height="5" fill="#117733"/>
<rect x="84.35" y="581.2" width="5.1" height="4.3" fill="#332288"/>
<rect x="84.35" y="567.2" width="5.1" height="14" fill="#44aa99"/>
<rect x="96.55" y="607.4" width="5.1" height="8" fill="#cc6677"/>
<rect x="96.55" y="593.4" width="5.1" height="14" fill="#ddcc77"/>
<rect x="96.55" y="589.9" width="5.1" height="3.5" fill="#117733"/>
<rect x="96.55" y="584.7" width="5.1" height="5.2" fill="#332288"/>
<rect x="96.55" y="574.2" width="5.1" height="10.5" fill="#aa4499"/>
<rect x="109.35" y="611" width="5.1" height="4.4" fill="#88ccee"/>
<rect x="109.35" y="605.2" width="5.1" height="5.8" fill="#cc6677"/>
<rect x="109.35" y="592.6" width="5.1" height="12.6" fill="#ddcc77"/>
<rect x="109.35" y="588.7" width="5.1" height="3.9" fill="#117733"/>
<rect x="109.35" y="585.2" width="5.1" height="3.5" fill="#332288"/>
<rect x="109.35" y="583.8" width="5.1" height="1.4" fill="#aa4499"/>
<rect x="109.35" y="571.9" width="5.1" height="11.9" fill="#44aa99"/>
<rect x="122.15" y="608.9" width="5.1" height="6.5" fill="#cc6677"/>
<rect x="122.15" y="593.7" width="5.1" height="15.2" fill="#ddcc77"/>
<rect x="122.15" y="588.8" width="5.1" height="4.9" fill="#117733"/>
<rect x="122.15" y="582.7" width="5.1" height="6.1" fill="#332288"/>
<rect x="122.15" y="567.8" width="5.1" height="14.9" fill="#aa4499"/>
<rect x="134.65" y="609.8" width="5.1" height="5.6" fill="#88ccee"/>
<rect x="134.65" y="604" width="5.1" height="5.8" fill="#cc6677"/>
<rect x="134.65" y="592.3" width="5.1" height="11.7" fill="#ddcc77"/>
<rect x="134.65" y="587" width="5.1" height="5.3" fill="#117733"/>
<rect x="134.65" y="582.7" width="5.1" height="4.3" fill="#332288"/>
<rect x="134.65" y="570.9" width="5.1" height="11.8" fill="#aa4499"/>
<rect x="152.05" y="611" width="5.1" height="4.4" fill="#88ccee"/>
<rect x="152.05" y="605.4" width="5.1" height="5.6" fill="#cc6677"/>
<rect x="152.05" y="593.7" width="5.1" height="11.7" fill="#ddcc77"/>
<rect x="152.05" y="588.8" width="5.1" height="4.9" fill="#117733"/>
<rect x="152.05" y="585" width="5.1" height="3.8" fill="#332288"/>
<rect x="152.05" y="572.7" width="5.1" height="12.3" fill="#aa4499"/>
<rect x="162.95" y="610.7" width="5.1" height="4.7" fill="#88ccee"/>
<rect x="162.95" y="604.6" width="5.1" height="6.1" fill="#cc6677"/>
<rect x="162.95" y="590.9" width="5.1" height="13.7" fill="#ddcc77"/>
<rect x="162.95" y="585.6" width="5.1" height="5.3" fill="#117733"/>
<rect x="162.95" y="580.9" width="5.1" height="4.7" fill="#332288"/>
<rect x="162.95" y="566.9" width="5.1" height="14" fill="#44aa99"/>
<rect x="180.05" y="612.4" width="5.1" height="3" fill="#88ccee"/>
<rect x="180.05" y="607.2" width="5.1" height="5.2" fill="#cc6677"/>
<rect x="180.05" y="595.5" width="5.1" height="11.7" fill="#ddcc77"/>
<rect x="180.05" y="590.9" width="5.1" height="4.6" fill="#117733"/>
<rect x="180.05" y="587.9" width="5.1" height="3" fill="#332288"/>
<rect x="180.05" y="575.1" width="5.1" height="12.8" fill="#aa4499"/>
<rect x="180.05" y="564.3" width="5.1" height="10.8" fill="#44aa99"/>
<rect x="192.95" y="611.9" width="5.1" height="3.5" fill="#88ccee"/>
<rect x="192.95" y="607.2" width="5.1" height="4.7" fill="#cc6677"/>
<rect x="192.95" y="594.9" width="5.1" height="12.3" fill="#ddcc77"/>
<rect x="192.95" y="590.9" width="5.1" height="4" fill="#117733"/>
<rect x="192.95" y="587" width="5.1" height="3.9" fill="#332288"/>
<rect x="192.95" y="575.1" width="5.1" height="11.9" fill="#aa4499"/>
<rect x="192.95" y="568.7" width="5.1" height="6.4" fill="#44aa99"/>
<rect x="205.55" y="611.6" width="5.1" height="3.8" fill="#88ccee"/>
<rect x="205.55" y="605.4" width="5.1" height="6.2" fill="#cc6677"/>
<rect x="205.55" y="593.7" width="5.1" height="11.7" fill="#ddcc77"/>
<rect x="205.55" y="589.7" width="5.1" height="4" fill="#117733"/>
<rect x="205.55" y="585.6" width="5.1" height="4.1" fill="#332288"/>
<rect x="205.55" y="574.8" width="5.1" height="10.8" fill="#aa4499"/>
<rect x="205.55" y="565.7" width="5.1" height="9.1" fill="#44aa99"/>
<rect x="218.15" y="611.9" width="5.1" height="3.5" fill="#88ccee"/>
<rect x="218.15" y="606" width="5.1" height="5.9" fill="#cc6677"/>
<rect x="218.15" y="594.1" width="5.1" height="11.9" fill="#ddcc77"/>
<rect x="218.15" y="590.2" width="5.1" height="3.9" fill="#117733"/>
<rect x="218.15" y="586.7" width="5.1" height="3.5" fill="#332288"/>
<rect x="218.15" y="575.7" width="5.1" height="11" fill="#aa4499"/>
<rect x="218.15" y="565.7" width="5.1" height="10" fill="#44aa99"/>
<rect x="230.75" y="611.6" width="5.1" height="3.8" fill="#88ccee"/>
<rect x="230.75" y="606" width="5.1" height="5.6" fill="#cc6677"/>
<rect x="230.75" y="594.4" width="5.1" height="11.6" fill="#ddcc77"/>
<rect x="230.75" y="589.1" width="5.1" height="5.3" fill="#117733"/>
<rect x="230.75" y="585.3" width="5.1" height="3.8" fill="#332288"/>
<rect x="230.75" y="573.4" width="5.1" height="11.9" fill="#aa4499"/>
<rect x="230.75" y="561.1" width="5.1" height="12.3" fill="#44aa99"/>
<rect x="243.35" y="611.6" width="5.1" height="3.8" fill="#88ccee"/>
<rect x="243.35" y="606.3" width="5.1" height="5.3" fill="#cc6677"/>
<rect x="243.35" y="594.4" width="5.1" height="11.9" fill="#ddcc77"/>
<rect x="243.35" y="589.1" width="5.1" height="5.3" fill="#117733"/>
<rect x="243.35" y="585.6" width="5.1" height="3.5" fill="#332288"/>
<rect x="243.35" y="573.4" width="5.1" height="12.2" fill="#aa4499"/>
<rect x="243.35" y="564.8" width="5.1" height="8.6" fill="#44aa99"/>
<rect x="261.55" y="612.4" width="5.1" height="3" fill="#88ccee"/>
<rect x="261.55" y="608.4" width="5.1" height="4" fill="#cc6677"/>
<rect x="261.55" y="596.2" width="5.1" height="12.2" fill="#ddcc77"/>
<rect x="261.55" y="592.3" width="5.1" height="3.9" fill="#117733"/>
<rect x="261.55" y="588.8" width="5.1" height="3.5" fill="#332288"/>
<rect x="261.55" y="577.1" width="5.1" height="11.7" fill="#aa4499"/>
<rect x="274.35" y="611.9" width="5.1" height="3.5" fill="#88ccee"/>
<rect x="274.35" y="607.7" width="5.1" height="4.2" fill="#cc6677"/>
<rect x="274.35" y="595.3" width="5.1" height="12.4" fill="#ddcc77"/>
<rect x="274.35" y="591.4" width="5.1" height="3.9" fill="#117733"/>
<rect x="274.35" y="587.9" width="5.1" height="3.5" fill="#332288"/>
<rect x="274.35" y="576" width="5.1" height="11.9" fill="#aa4499"/>
<rect x="286.95" y="611.6" width="5.1" height="3.8" fill="#88ccee"/>
<rect x="286.95" y="607.7" width="5.1" height="3.9" fill="#cc6677"/>
<rect x="286.95" y="596.2" width="5.1" height="11.5" fill="#ddcc77"/>
<rect x="286.95" y="592" width="5.1" height="4.2" fill="#117733"/>
<rect x="286.95" y="588.8" width="5.1" height="3.2" fill="#332288"/>
<rect x="286.95" y="577.8" width="5.1" height="11" fill="#44aa99"/>
<rect x="299.35" y="612.9" width="5.1" height="2.5" fill="#88ccee"/>
<rect x="299.35" y="608.9" width="5.1" height="4" fill="#cc6677"/>
<rect x="299.35" y="597.2" width="5.1" height="11.7" fill="#ddcc77"/>
<rect x="299.35" y="593.7" width="5.1" height="3.5" fill="#117733"/>
<rect x="299.35" y="590.9" width="5.1" height="2.8" fill="#332288"/>
<rect x="299.35" y="578.6" width="5.1" height="12.3" fill="#44aa99"/>
<rect x="311.95" y="611.6" width="5.1" height="3.8" fill="#88ccee"/>
<rect x="311.95" y="607.2" width="5.1" height="4.4" fill="#cc6677"/>
<rect x="311.95" y="596.2" width="5.1" height="11" fill="#ddcc77"/>
<rect x="311.95" y="592.7" width="5.1" height="3.5" fill="#117733"/>
<rect x="311.95" y="590.2" width="5.1" height="2.5" fill="#332288"/>
<rect x="311.95" y="579.2" width="5.1" height="11" fill="#44aa99"/>
<rect x="324.55" y="611.9" width="5.1" height="3.5" fill="#88ccee"/>
<rect x="324.55" y="607.7" width="5.1" height="4.2" fill="#cc6677"/>
<rect x="324.55" y="597.2" width="5.1" height="10.5" fill="#ddcc77"/>
<rect x="324.55" y="594.6" width="5.1" height="2.6" fill="#117733"/>
<rect x="324.55" y="590.9" width="5.1" height="3.7" fill="#332288"/>
<rect x="343.25" y="611.6" width="5.1" height="3.8" fill="#88ccee"/>
<rect x="343.25" y="606.3" width="5.1" height="5.3" fill="#cc6677"/>
<rect x="343.25" y="592.7" width="5.1" height="13.6" fill="#ddcc77"/>
<rect x="343.25" y="587.9" width="5.1" height="4.8" fill="#117733"/>
<rect x="343.25" y="583.9" width="5.1" height="4" fill="#332288"/>
<rect x="343.25" y="570.9" width="5.1" height="13" fill="#aa4499"/>
<rect x="343.25" y="561.1" width="5.1" height="9.8" fill="#44aa99"/>
<rect x="355.35" y="612.4" width="5.1" height="3" fill="#88ccee"/>
<rect x="355.35" y="609" width="5.1" height="3.4" fill="#cc6677"/>
<rect x="355.35" y="599.7" width="5.1" height="9.3" fill="#ddcc77"/>
<rect x="355.35" y="595.8" width="5.1" height="3.9" fill="#117733"/>
<rect x="355.35" y="592.7" width="5.1" height="3.1" fill="#332288"/>
<rect x="355.35" y="582.1" width="5.1" height="10.6" fill="#44aa99"/>
<rect x="367.35" y="611.6" width="5.1" height="3.8" fill="#88ccee"/>
<rect x="367.35" y="607.2" width="5.1" height="4.4" fill="#cc6677"/>
<rect x="367.35" y="592.3" width="5.1" height="14.9" fill="#ddcc77"/>
<rect x="367.35" y="587" width="5.1" height="5.3" fill="#117733"/>
<rect x="367.35" y="581.4" width="5.1" height="5.6" fill="#332288"/>
<rect x="367.35" y="567.8" width="5.1" height="13.6" fill="#44aa99"/>
<rect x="379.45" y="611.2" width="5.1" height="4.2" fill="#88ccee"/>
<rect x="379.45" y="607.7" width="5.1" height="3.5" fill="#cc6677"/>
<rect x="379.45" y="598.4" width="5.1" height="9.3" fill="#ddcc77"/>
<rect x="379.45" y="592.8" width="5.1" height="5.6" fill="#117733"/>
<rect x="396.55" y="609.5" width="5.1" height="5.9" fill="#88ccee"/>
<rect x="396.55" y="603.2" width="5.1" height="6.3" fill="#cc6677"/>
<rect x="396.55" y="588.4" width="5.1" height="14.8" fill="#ddcc77"/>
<rect x="396.55" y="583.5" width="5.1" height="4.9" fill="#117733"/>
<rect x="396.55" y="578.8" width="5.1" height="4.7" fill="#332288"/>
<rect x="396.55" y="565.7" width="5.1" height="13.1" fill="#aa4499"/>
<rect x="396.55" y="554.6" width="5.1" height="11.1" fill="#44aa99"/>
<rect x="407.05" y="610.2" width="5.1" height="5.2" fill="#88ccee"/>
<rect x="407.05" y="604.6" width="5.1" height="5.6" fill="#cc6677"/>
<rect x="407.05" y="590.2" width="5.1" height="14.4" fill="#ddcc77"/>
<rect x="407.05" y="586.2" width="5.1" height="4" fill="#117733"/>
<rect x="407.05" y="581.8" width="5.1" height="4.4" fill="#332288"/>
<rect x="407.05" y="567.4" width="5.1" height="14.4" fill="#aa4499"/>
<rect x="407.05" y="555.2" width="5.1" height="12.2" fill="#44aa99"/>
<rect x="424.65" y="613.3" width="5.1" height="2.1" fill="#88ccee"/>
<rect x="424.65" y="611.6" width="5.1" height="1.7" fill="#cc6677"/>
<rect x="424.65" y="605.4" width="5.1" height="6.2" fill="#ddcc77"/>
<rect x="424.65" y="602.8" width="5.1" height="2.6" fill="#117733"/>
<rect x="424.65" y="600.7" width="5.1" height="2.1" fill="#332288"/>
<rect x="424.65" y="594.9" width="5.1" height="5.8" fill="#aa4499"/>
<rect x="424.65" y="588.8" width="5.1" height="6.1" fill="#44aa99"/>
<rect x="437.25" y="613.7" width="5.1" height="1.7" fill="#88ccee"/>
<rect x="437.25" y="612.4" width="5.1" height="1.3" fill="#cc6677"/>
<rect x="437.25" y="605.4" width="5.1" height="7" fill="#ddcc77"/>
<rect x="437.25" y="603.7" width="5.1" height="1.7" fill="#117733"/>
<rect x="437.25" y="601.9" width="5.1" height="1.8" fill="#332288"/>
<rect x="437.25" y="595.5" width="5.1" height="6.4" fill="#aa4499"/>
<rect x="450.15" y="614.2" width="5.1" height="1.2" fill="#88ccee"/>
<rect x="450.15" y="612.8" width="5.1" height="1.4" fill="#cc6677"/>
<rect x="450.15" y="607.5" width="5.1" height="5.3" fill="#ddcc77"/>
<rect x="450.15" y="605.4" width="5.1" height="2.1" fill="#117733"/>
<rect x="450.15" y="603.3" width="5.1" height="2.1" fill="#332288"/>
<rect x="450.15" y="597.9" width="5.1" height="5.4" fill="#44aa99"/>
<rect x="462.75" y="613.7" width="5.1" height="1.7" fill="#88ccee"/>
<rect x="462.75" y="610.2" width="5.1" height="3.5" fill="#cc6677"/>
<rect x="462.75" y="601.1" width="5.1" height="9.1" fill="#ddcc77"/>
<rect x="462.75" y="598.8" width="5.1" height="2.3" fill="#117733"/>
<rect x="462.75" y="597.2" width="5.1" height="1.6" fill="#332288"/>
<rect x="462.75" y="589.1" width="5.1" height="8.1" fill="#aa4499"/>
<rect x="462.75" y="586.2" width="5.1" height="2.9" fill="#44aa99"/>
<rect x="475.85" y="614.2" width="5.1" height="1.2" fill="#88ccee"/>
<rect x="475.85" y="613" width="5.1" height="1.2" fill="#cc6677"/>
<rect x="475.85" y="607.7" width="5.1" height="5.3" fill="#ddcc77"/>
<rect x="475.85" y="606" width="5.1" height="1.7" fill="#117733"/>
<rect x="475.85" y="604.2" width="5.1" height="1.8" fill="#332288"/>
<rect x="475.85" y="599" width="5.1" height="5.2" fill="#44aa99"/>
<rect x="488.55" y="613.7" width="5.1" height="1.7" fill="#88ccee"/>
<rect x="488.55" y="610.2" width="5.1" height="3.5" fill="#cc6677"/>
<rect x="488.55" y="603.7" width="5.1" height="6.5" fill="#ddcc77"/>
<rect x="488.55" y="599.7" width="5.1" height="4" fill="#117733"/>
<rect x="488.55" y="596.2" width="5.1" height="3.5" fill="#332288"/>
<rect x="501.35" y="613" width="5.1" height="2.4" fill="#88ccee"/>
<rect x="501.35" y="609.8" width="5.1" height="3.2" fill="#cc6677"/>
<rect x="501.35" y="601.1" width="5.1" height="8.7" fill="#ddcc77"/>
<rect x="501.35" y="598.4" width="5.1" height="2.7" fill="#117733"/>
<rect x="501.35" y="596.7" width="5.1" height="1.7" fill="#332288"/>
<rect x="501.35" y="589.1" width="5.1" height="7.6" fill="#aa4499"/>
<rect x="501.35" y="580.9" width="5.1" height="8.2" fill="#44aa99"/>
<rect x="514.25" y="613.9" width="5.1" height="1.5" fill="#88ccee"/>
<rect x="514.25" y="609.8" width="5.1" height="4.1" fill="#cc6677"/>
<rect x="514.25" y="604.2" width="5.1" height="5.6" fill="#ddcc77"/>
<rect x="514.25" y="601.1" width="5.1" height="3.1" fill="#117733"/>
<rect x="514.25" y="597.6" width="5.1" height="3.5" fill="#332288"/>
<rect x="532.15" y="613.3" width="5.1" height="2.1" fill="#88ccee"/>
<rect x="532.15" y="608.9" width="5.1" height="4.4" fill="#cc6677"/>
<rect x="532.15" y="595.8" width="5.1" height="13.1" fill="#ddcc77"/>
<rect x="532.15" y="591.4" width="5.1" height="4.4" fill="#117733"/>
<rect x="532.15" y="589.1" width="5.1" height="2.3" fill="#332288"/>
<rect x="542.65" y="613.3" width="5.1" height="2.1" fill="#ddcc77"/>
<rect x="542.65" y="609.8" width="5.1" height="3.5" fill="#117733"/>
<rect x="560.25" y="614.3" width="5.1" height="1.1" fill="#88ccee"/>
<rect x="560.25" y="611" width="5.1" height="3.3" fill="#cc6677"/>
<rect x="560.25" y="598.1" width="5.1" height="12.9" fill="#ddcc77"/>
<rect x="560.25" y="595.9" width="5.1" height="2.2" fill="#117733"/>
<rect x="572.85" y="612.4" width="5.1" height="3" fill="#88ccee"/>
<rect x="572.85" y="608.6" width="5.1" height="3.8" fill="#cc6677"/>
<rect x="572.85" y="594.7" width="5.1" height="13.9" fill="#ddcc77"/>
<rect x="572.85" y="592.1" width="5.1" height="2.6" fill="#117733"/>
<rect x="572.85" y="579.5" width="5.1" height="12.6" fill="#aa4499"/>
<rect x="572.85" y="568.2" width="5.1" height="11.3" fill="#44aa99"/>
<rect x="586.05" y="612.4" width="5.1" height="3" fill="#88ccee"/>
<rect x="586.05" y="608.6" width="5.1" height="3.8" fill="#cc6677"/>
<rect x="586.05" y="594" width="5.1" height="14.6" fill="#ddcc77"/>
<rect x="586.05" y="592.1" width="5.1" height="1.9" fill="#117733"/>
<rect x="598.85" y="613.3" width="5.1" height="2.1" fill="#88ccee"/>
<rect x="598.85" y="610.5" width="5.1" height="2.8" fill="#cc6677"/>
<rect x="598.85" y="598.1" width="5.1" height="12.4" fill="#ddcc77"/>
<rect x="598.85" y="594.7" width="5.1" height="3.4" fill="#117733"/>
<rect x="612.05" y="613.3" width="5.1" height="2.1" fill="#88ccee"/>
<rect x="612.05" y="609.9" width="5.1" height="3.4" fill="#cc6677"/>
<rect x="612.05" y="597.2" width="5.1" height="12.7" fill="#ddcc77"/>
<rect x="612.05" y="594.7" width="5.1" height="2.5" fill="#117733"/>
<rect x="612.05" y="585.8" width="5.1" height="8.9" fill="#aa4499"/>
<rect x="624.65" y="613" width="5.1" height="2.4" fill="#88ccee"/>
<rect x="624.65" y="610.5" width="5.1" height="2.5" fill="#cc6677"/>
<rect x="624.65" y="600.6" width="5.1" height="9.9" fill="#ddcc77"/>
<rect x="624.65" y="599.1" width="5.1" height="1.5" fill="#117733"/>
<rect x="624.65" y="597.8" width="5.1" height="1.3" fill="#332288"/>
<rect x="637.75" y="611.8" width="5.1" height="3.6" fill="#88ccee"/>
<rect x="637.75" y="609.9" width="5.1" height="1.9" fill="#cc6677"/>
<rect x="637.75" y="602.5" width="5.1" height="7.4" fill="#ddcc77"/>
<rect x="650.85" y="611.8" width="5.1" height="3.6" fill="#88ccee"/>
<rect x="650.85" y="604.8" width="5.1" height="7" fill="#ddcc77"/>
<rect x="664.05" y="605.4" width="5.1" height="10" fill="#88ccee"/>
<rect x="664.05" y="595.9" width="5.1" height="9.5" fill="#cc6677"/>
<rect x="664.05" y="585.2" width="5.1" height="10.7" fill="#ddcc77"/>
<rect x="664.05" y="573.1" width="5.1" height="12.1" fill="#117733"/>
<text x="37" y="556.3" text-anchor="end">150</text>
<text x="37" y="576.9" text-anchor="end">100</text>
<text x="37" y="598" text-anchor="end">50</text>
<text x="12.4" y="580.1" text-anchor="middle" font-size="7.7" transform="rotate(-90 12.4 580.1)">Number of</text>
<text x="19.8" y="580.5" text-anchor="middle" font-size="7.7" transform="rotate(-90 19.8 580.5)">DARs (×1,000)</text>
<text x="1.2" y="552" font-size="13" font-weight="bold" fill="#000">m</text>
<rect x="42.3" y="620.2" width="11.2" height="3.3" fill="#44aa99"/>
<text x="57.5" y="624.5" font-size="7.4" textLength="29.7" lengthAdjust="spacingAndGlyphs">DC DARs</text>
<rect x="131.1" y="620.2" width="11.2" height="3.3" fill="#aa4499"/>
<text x="145.8" y="624.5" font-size="7.4" textLength="76" lengthAdjust="spacingAndGlyphs">CD16<tspan font-size="4.6" dy="-2.6">+</tspan><tspan dy="2.6"> monocyte DARs</tspan></text>
<rect x="232.8" y="620.2" width="10.8" height="3.3" fill="#332288"/>
<text x="246.6" y="624.5" font-size="7.4" textLength="45.2" lengthAdjust="spacingAndGlyphs">NK cell DARs</text>
<rect x="334.5" y="620.2" width="11.8" height="3.3" fill="#117733"/>
<text x="348.9" y="624.5" font-size="7.4" textLength="38.9" lengthAdjust="spacingAndGlyphs">B cell DARs</text>
<rect x="397" y="620.2" width="11.3" height="3.3" fill="#ddcc77"/>
<text x="410.9" y="624.5" font-size="7.4" textLength="76.2" lengthAdjust="spacingAndGlyphs">CD14<tspan font-size="4.6" dy="-2.6">+</tspan><tspan dy="2.6"> monocyte DARs</tspan></text>
<rect x="498.3" y="620.2" width="11.1" height="3.3" fill="#cc6677"/>
<text x="513.9" y="624.5" font-size="7.4" textLength="58.8" lengthAdjust="spacingAndGlyphs">Naive T cell DARs</text>
<rect x="581.5" y="620.2" width="11.1" height="3.3" fill="#88ccee"/>
<text x="596.2" y="624.5" font-size="7.4" textLength="72.2" lengthAdjust="spacingAndGlyphs">Cytotoxic T cell DARs</text>
<rect x="41.1" y="644" width="21" height="63.7" fill="#eaeaf2"/>
<rect x="68.1" y="644" width="75" height="63.7" fill="#eaeaf2"/>
<rect x="150" y="644" width="20.6" height="63.7" fill="#eaeaf2"/>
<rect x="177.1" y="644" width="74.9" height="63.7" fill="#eaeaf2"/>
<rect x="258.2" y="644" width="74.8" height="63.7" fill="#eaeaf2"/>
<rect x="339.7" y="644" width="47.7" height="63.7" fill="#eaeaf2"/>
<rect x="394.2" y="644" width="20.5" height="63.7" fill="#eaeaf2"/>
<rect x="421.2" y="644" width="101.6" height="63.7" fill="#eaeaf2"/>
<rect x="530.1" y="644" width="20.2" height="63.7" fill="#eaeaf2"/>
<rect x="557" y="644" width="115.6" height="63.7" fill="#eaeaf2"/>
<line x1="41.1" y1="647.3" x2="62.1" y2="647.3" stroke="#fff" stroke-width="0.8"/>
<line x1="68.1" y1="647.3" x2="143.1" y2="647.3" stroke="#fff" stroke-width="0.8"/>
<line x1="150" y1="647.3" x2="170.6" y2="647.3" stroke="#fff" stroke-width="0.8"/>
<line x1="177.1" y1="647.3" x2="252" y2="647.3" stroke="#fff" stroke-width="0.8"/>
<line x1="258.2" y1="647.3" x2="333" y2="647.3" stroke="#fff" stroke-width="0.8"/>
<line x1="339.7" y1="647.3" x2="387.4" y2="647.3" stroke="#fff" stroke-width="0.8"/>
<line x1="394.2" y1="647.3" x2="414.7" y2="647.3" stroke="#fff" stroke-width="0.8"/>
<line x1="421.2" y1="647.3" x2="522.8" y2="647.3" stroke="#fff" stroke-width="0.8"/>
<line x1="530.1" y1="647.3" x2="550.3" y2="647.3" stroke="#fff" stroke-width="0.8"/>
<line x1="557" y1="647.3" x2="672.6" y2="647.3" stroke="#fff" stroke-width="0.8"/>
<line x1="41.1" y1="663.3" x2="62.1" y2="663.3" stroke="#fff" stroke-width="0.8"/>
<line x1="68.1" y1="663.3" x2="143.1" y2="663.3" stroke="#fff" stroke-width="0.8"/>
<line x1="150" y1="663.3" x2="170.6" y2="663.3" stroke="#fff" stroke-width="0.8"/>
<line x1="177.1" y1="663.3" x2="252" y2="663.3" stroke="#fff" stroke-width="0.8"/>
<line x1="258.2" y1="663.3" x2="333" y2="663.3" stroke="#fff" stroke-width="0.8"/>
<line x1="339.7" y1="663.3" x2="387.4" y2="663.3" stroke="#fff" stroke-width="0.8"/>
<line x1="394.2" y1="663.3" x2="414.7" y2="663.3" stroke="#fff" stroke-width="0.8"/>
<line x1="421.2" y1="663.3" x2="522.8" y2="663.3" stroke="#fff" stroke-width="0.8"/>
<line x1="530.1" y1="663.3" x2="550.3" y2="663.3" stroke="#fff" stroke-width="0.8"/>
<line x1="557" y1="663.3" x2="672.6" y2="663.3" stroke="#fff" stroke-width="0.8"/>
<line x1="41.1" y1="678.9" x2="62.1" y2="678.9" stroke="#fff" stroke-width="0.8"/>
<line x1="68.1" y1="678.9" x2="143.1" y2="678.9" stroke="#fff" stroke-width="0.8"/>
<line x1="150" y1="678.9" x2="170.6" y2="678.9" stroke="#fff" stroke-width="0.8"/>
<line x1="177.1" y1="678.9" x2="252" y2="678.9" stroke="#fff" stroke-width="0.8"/>
<line x1="258.2" y1="678.9" x2="333" y2="678.9" stroke="#fff" stroke-width="0.8"/>
<line x1="339.7" y1="678.9" x2="387.4" y2="678.9" stroke="#fff" stroke-width="0.8"/>
<line x1="394.2" y1="678.9" x2="414.7" y2="678.9" stroke="#fff" stroke-width="0.8"/>
<line x1="421.2" y1="678.9" x2="522.8" y2="678.9" stroke="#fff" stroke-width="0.8"/>
<line x1="530.1" y1="678.9" x2="550.3" y2="678.9" stroke="#fff" stroke-width="0.8"/>
<line x1="557" y1="678.9" x2="672.6" y2="678.9" stroke="#fff" stroke-width="0.8"/>
<line x1="41.1" y1="694.6" x2="62.1" y2="694.6" stroke="#fff" stroke-width="0.8"/>
<line x1="68.1" y1="694.6" x2="143.1" y2="694.6" stroke="#fff" stroke-width="0.8"/>
<line x1="150" y1="694.6" x2="170.6" y2="694.6" stroke="#fff" stroke-width="0.8"/>
<line x1="177.1" y1="694.6" x2="252" y2="694.6" stroke="#fff" stroke-width="0.8"/>
<line x1="258.2" y1="694.6" x2="333" y2="694.6" stroke="#fff" stroke-width="0.8"/>
<line x1="339.7" y1="694.6" x2="387.4" y2="694.6" stroke="#fff" stroke-width="0.8"/>
<line x1="394.2" y1="694.6" x2="414.7" y2="694.6" stroke="#fff" stroke-width="0.8"/>
<line x1="421.2" y1="694.6" x2="522.8" y2="694.6" stroke="#fff" stroke-width="0.8"/>
<line x1="530.1" y1="694.6" x2="550.3" y2="694.6" stroke="#fff" stroke-width="0.8"/>
<line x1="557" y1="694.6" x2="672.6" y2="694.6" stroke="#fff" stroke-width="0.8"/>
<text x="37" y="650.1" text-anchor="end">8</text>
<text x="37" y="665.9" text-anchor="end">6</text>
<text x="37" y="681.7" text-anchor="end">4</text>
<text x="37" y="697.4" text-anchor="end">2</text>
<text x="16.4" y="676.3" text-anchor="middle" font-size="7.7" transform="rotate(-90 16.4 676.3)">Strength of top</text>
<text x="23.9" y="676.3" text-anchor="middle" font-size="7.7" transform="rotate(-90 23.9 676.3)">2,000 DARs (log<tspan font-size="5.5" dy="1.6">2</tspan><tspan dy="-1.6"> FC)</tspan></text>
<text x="1.3" y="640.8" font-size="12" font-weight="bold" fill="#000">n</text>
<circle cx="45.9" cy="693.33" r="1.45" fill="#88ccee"/>
<circle cx="46.43" cy="671.08" r="1.45" fill="#117733"/>
<circle cx="45.2" cy="679.84" r="1.45" fill="#ddcc77"/>
<circle cx="46.43" cy="680.36" r="1.45" fill="#cc6677"/>
<circle cx="46.08" cy="685.09" r="1.45" fill="#332288"/>
<circle cx="46.43" cy="692.1" r="1.45" fill="#44aa99"/>
<circle cx="45.2" cy="695.08" r="1.45" fill="#aa4499"/>
<circle cx="56.41" cy="676.86" r="1.45" fill="#cc6677"/>
<circle cx="55.36" cy="677.91" r="1.45" fill="#117733"/>
<circle cx="57.46" cy="679.31" r="1.45" fill="#ddcc77"/>
<circle cx="56.41" cy="683.69" r="1.45" fill="#332288"/>
<circle cx="56.41" cy="694.38" r="1.45" fill="#88ccee"/>
<circle cx="56.41" cy="698.23" r="1.45" fill="#44aa99"/>
<circle cx="74.11" cy="660.39" r="1.45" fill="#117733"/>
<circle cx="75.33" cy="677.91" r="1.45" fill="#ddcc77"/>
<circle cx="75.33" cy="680.19" r="1.45" fill="#cc6677"/>
<circle cx="75.33" cy="682.46" r="1.45" fill="#332288"/>
<circle cx="72.7" cy="693.85" r="1.45" fill="#aa4499"/>
<circle cx="74.11" cy="693.85" r="1.45" fill="#88ccee"/>
<circle cx="86.9" cy="661.26" r="1.45" fill="#ddcc77"/>
<circle cx="87.6" cy="670.2" r="1.45" fill="#117733"/>
<circle cx="86.37" cy="676.68" r="1.45" fill="#cc6677"/>
<circle cx="87.6" cy="684.22" r="1.45" fill="#332288"/>
<circle cx="87.6" cy="694.55" r="1.45" fill="#88ccee"/>
<circle cx="88.12" cy="696.3" r="1.45" fill="#44aa99"/>
<circle cx="98.46" cy="664.77" r="1.45" fill="#ddcc77"/>
<circle cx="98.63" cy="669.15" r="1.45" fill="#117733"/>
<circle cx="100.39" cy="679.84" r="1.45" fill="#cc6677"/>
<circle cx="99.86" cy="684.39" r="1.45" fill="#332288"/>
<circle cx="99.51" cy="693.5" r="1.45" fill="#44aa99"/>
<circle cx="99.51" cy="697.35" r="1.45" fill="#88ccee"/>
<circle cx="111.95" cy="684.22" r="1.45" fill="#117733"/>
<circle cx="113" cy="688.42" r="1.45" fill="#ddcc77"/>
<circle cx="111.25" cy="690.87" r="1.45" fill="#cc6677"/>
<circle cx="111.25" cy="697.7" r="1.45" fill="#332288"/>
<circle cx="112.12" cy="700.68" r="1.45" fill="#aa4499"/>
<circle cx="111.07" cy="705.06" r="1.45" fill="#88ccee"/>
<circle cx="124" cy="678.1" r="1.45" fill="#117733"/>
<circle cx="125.4" cy="682.83" r="1.45" fill="#ddcc77"/>
<circle cx="125.75" cy="691.41" r="1.45" fill="#cc6677"/>
<circle cx="125.93" cy="699.82" r="1.45" fill="#332288"/>
<circle cx="124.53" cy="701.05" r="1.45" fill="#aa4499"/>
<circle cx="137.14" cy="677.57" r="1.45" fill="#ddcc77"/>
<circle cx="137.32" cy="684.4" r="1.45" fill="#117733"/>
<circle cx="137.14" cy="685.81" r="1.45" fill="#cc6677"/>
<circle cx="137.67" cy="687.56" r="1.45" fill="#332288"/>
<circle cx="138.54" cy="691.94" r="1.45" fill="#44aa99"/>
<circle cx="136.79" cy="693.16" r="1.45" fill="#88ccee"/>
<circle cx="136.26" cy="693.69" r="1.45" fill="#aa4499"/>
<circle cx="155.71" cy="671.26" r="1.45" fill="#117733"/>
<circle cx="155.19" cy="675.29" r="1.45" fill="#ddcc77"/>
<circle cx="155.19" cy="683.7" r="1.45" fill="#cc6677"/>
<circle cx="155.71" cy="684.58" r="1.45" fill="#332288"/>
<circle cx="155.19" cy="694.92" r="1.45" fill="#aa4499"/>
<circle cx="155.71" cy="697.54" r="1.45" fill="#88ccee"/>
<circle cx="165.17" cy="668.29" r="1.45" fill="#ddcc77"/>
<circle cx="166.57" cy="669.51" r="1.45" fill="#117733"/>
<circle cx="164.82" cy="688.78" r="1.45" fill="#332288"/>
<circle cx="164.82" cy="689.31" r="1.45" fill="#cc6677"/>
<circle cx="165.17" cy="694.04" r="1.45" fill="#88ccee"/>
<circle cx="165.17" cy="697.37" r="1.45" fill="#44aa99"/>
<circle cx="182.17" cy="664.43" r="1.45" fill="#117733"/>
<circle cx="181.46" cy="681.08" r="1.45" fill="#ddcc77"/>
<circle cx="182.69" cy="682.65" r="1.45" fill="#cc6677"/>
<circle cx="181.46" cy="687.91" r="1.45" fill="#332288"/>
<circle cx="183.74" cy="688.08" r="1.45" fill="#44aa99"/>
<circle cx="182.34" cy="691.59" r="1.45" fill="#aa4499"/>
<circle cx="182.69" cy="694.04" r="1.45" fill="#88ccee"/>
<circle cx="195.13" cy="663.56" r="1.45" fill="#117733"/>
<circle cx="196.36" cy="679.15" r="1.45" fill="#ddcc77"/>
<circle cx="195.48" cy="682.65" r="1.45" fill="#cc6677"/>
<circle cx="194.6" cy="684.58" r="1.45" fill="#332288"/>
<circle cx="195.48" cy="691.41" r="1.45" fill="#44aa99"/>
<circle cx="194.08" cy="693.69" r="1.45" fill="#aa4499"/>
<circle cx="196.01" cy="694.22" r="1.45" fill="#88ccee"/>
<circle cx="207.22" cy="672.49" r="1.45" fill="#ddcc77"/>
<circle cx="206.87" cy="676.7" r="1.45" fill="#cc6677"/>
<circle cx="208.27" cy="683.7" r="1.45" fill="#117733"/>
<circle cx="207.22" cy="684.58" r="1.45" fill="#332288"/>
<circle cx="208.97" cy="690.19" r="1.45" fill="#aa4499"/>
<circle cx="208.27" cy="691.94" r="1.45" fill="#44aa99"/>
<circle cx="208.62" cy="694.57" r="1.45" fill="#88ccee"/>
<circle cx="219.27" cy="673.19" r="1.45" fill="#ddcc77"/>
<circle cx="221.02" cy="677.92" r="1.45" fill="#cc6677"/>
<circle cx="221.37" cy="683.53" r="1.45" fill="#117733"/>
<circle cx="219.62" cy="686.16" r="1.45" fill="#332288"/>
<circle cx="219.62" cy="688.96" r="1.45" fill="#44aa99"/>
<circle cx="220.15" cy="689.66" r="1.45" fill="#aa4499"/>
<circle cx="221.37" cy="692.11" r="1.45" fill="#88ccee"/>
<circle cx="233.64" cy="673.54" r="1.45" fill="#117733"/>
<circle cx="234.16" cy="677.05" r="1.45" fill="#cc6677"/>
<circle cx="232.06" cy="681.25" r="1.45" fill="#ddcc77"/>
<circle cx="233.64" cy="690.36" r="1.45" fill="#88ccee"/>
<circle cx="232.41" cy="692.29" r="1.45" fill="#332288"/>
<circle cx="234.51" cy="692.46" r="1.45" fill="#aa4499"/>
<circle cx="231.89" cy="694.04" r="1.45" fill="#44aa99"/>
<circle cx="245.9" cy="674.24" r="1.45" fill="#117733"/>
<circle cx="245.2" cy="681.95" r="1.45" fill="#ddcc77"/>
<circle cx="246.08" cy="682.3" r="1.45" fill="#cc6677"/>
<circle cx="245.2" cy="686.33" r="1.45" fill="#332288"/>
<circle cx="244.67" cy="691.06" r="1.45" fill="#44aa99"/>
<circle cx="245.9" cy="691.94" r="1.45" fill="#88ccee"/>
<circle cx="244.85" cy="693.16" r="1.45" fill="#aa4499"/>
<circle cx="263.42" cy="671.79" r="1.45" fill="#ddcc77"/>
<circle cx="263.77" cy="674.94" r="1.45" fill="#117733"/>
<circle cx="263.42" cy="687.91" r="1.45" fill="#cc6677"/>
<circle cx="263.77" cy="691.06" r="1.45" fill="#332288"/>
<circle cx="264.82" cy="692.29" r="1.45" fill="#88ccee"/>
<circle cx="263.07" cy="695.27" r="1.45" fill="#44aa99"/>
<circle cx="277.08" cy="681.6" r="1.45" fill="#ddcc77"/>
<circle cx="275.86" cy="683.7" r="1.45" fill="#117733"/>
<circle cx="276.21" cy="693.16" r="1.45" fill="#cc6677"/>
<circle cx="277.26" cy="695.44" r="1.45" fill="#44aa99"/>
<circle cx="278.14" cy="697.54" r="1.45" fill="#332288"/>
<circle cx="275.33" cy="699.82" r="1.45" fill="#88ccee"/>
<circle cx="289.7" cy="677.57" r="1.45" fill="#ddcc77"/>
<circle cx="290.57" cy="679.15" r="1.45" fill="#117733"/>
<circle cx="289" cy="690.71" r="1.45" fill="#332288"/>
<circle cx="288.3" cy="691.94" r="1.45" fill="#cc6677"/>
<circle cx="289.7" cy="695.44" r="1.45" fill="#88ccee"/>
<circle cx="289.35" cy="697.37" r="1.45" fill="#aa4499"/>
<circle cx="301.26" cy="672.84" r="1.45" fill="#ddcc77"/>
<circle cx="303.01" cy="675.82" r="1.45" fill="#117733"/>
<circle cx="303.36" cy="685.81" r="1.45" fill="#cc6677"/>
<circle cx="300.91" cy="689.66" r="1.45" fill="#332288"/>
<circle cx="301.26" cy="696.67" r="1.45" fill="#88ccee"/>
<circle cx="301.61" cy="698.42" r="1.45" fill="#aa4499"/>
<circle cx="313.88" cy="651.82" r="1.45" fill="#ddcc77"/>
<circle cx="314.75" cy="698.07" r="1.45" fill="#cc6677"/>
<circle cx="313.52" cy="699.12" r="1.45" fill="#44aa99"/>
<circle cx="314.58" cy="698.95" r="1.45" fill="#88ccee"/>
<circle cx="315.63" cy="701.22" r="1.45" fill="#332288"/>
<circle cx="327.15" cy="659.53" r="1.45" fill="#ddcc77"/>
<circle cx="328.03" cy="676.17" r="1.45" fill="#117733"/>
<circle cx="326.28" cy="685.46" r="1.45" fill="#88ccee"/>
<circle cx="327.33" cy="687.21" r="1.45" fill="#cc6677"/>
<circle cx="326.63" cy="692.46" r="1.45" fill="#332288"/>
<circle cx="328.03" cy="697.19" r="1.45" fill="#44aa99"/>
<circle cx="344.32" cy="656.55" r="1.45" fill="#ddcc77"/>
<circle cx="344.32" cy="675.29" r="1.45" fill="#88ccee"/>
<circle cx="346.43" cy="674.94" r="1.45" fill="#117733"/>
<circle cx="345.55" cy="694.04" r="1.45" fill="#cc6677"/>
<circle cx="357.29" cy="669.34" r="1.45" fill="#ddcc77"/>
<circle cx="356.41" cy="676.7" r="1.45" fill="#117733"/>
<circle cx="356.41" cy="688.96" r="1.45" fill="#cc6677"/>
<circle cx="357.46" cy="691.94" r="1.45" fill="#88ccee"/>
<circle cx="358.16" cy="694.22" r="1.45" fill="#332288"/>
<circle cx="357.11" cy="695.27" r="1.45" fill="#44aa99"/>
<circle cx="369.55" cy="666.01" r="1.45" fill="#ddcc77"/>
<circle cx="370.43" cy="674.42" r="1.45" fill="#117733"/>
<circle cx="368.68" cy="678.27" r="1.45" fill="#cc6677"/>
<circle cx="369.73" cy="684.4" r="1.45" fill="#88ccee"/>
<circle cx="369.38" cy="689.66" r="1.45" fill="#332288"/>
<circle cx="370.6" cy="689.66" r="1.45" fill="#44aa99"/>
<circle cx="368.33" cy="692.46" r="1.45" fill="#aa4499"/>
<circle cx="381.99" cy="669.34" r="1.45" fill="#ddcc77"/>
<circle cx="381.46" cy="680.2" r="1.45" fill="#117733"/>
<circle cx="381.81" cy="684.93" r="1.45" fill="#cc6677"/>
<circle cx="381.46" cy="690.01" r="1.45" fill="#332288"/>
<circle cx="382.69" cy="689.66" r="1.45" fill="#88ccee"/>
<circle cx="381.46" cy="692.81" r="1.45" fill="#44aa99"/>
<circle cx="398.11" cy="676" r="1.45" fill="#cc6677"/>
<circle cx="398.63" cy="678.8" r="1.45" fill="#ddcc77"/>
<circle cx="398.11" cy="681.95" r="1.45" fill="#332288"/>
<circle cx="399.86" cy="682.83" r="1.45" fill="#117733"/>
<circle cx="398.98" cy="691.41" r="1.45" fill="#44aa99"/>
<circle cx="399.51" cy="692.81" r="1.45" fill="#aa4499"/>
<circle cx="410.02" cy="667.41" r="1.45" fill="#cc6677"/>
<circle cx="408.97" cy="677.4" r="1.45" fill="#ddcc77"/>
<circle cx="409.67" cy="680.9" r="1.45" fill="#117733"/>
<circle cx="408.97" cy="682.3" r="1.45" fill="#332288"/>
<circle cx="410.02" cy="690.36" r="1.45" fill="#88ccee"/>
<circle cx="408.62" cy="692.11" r="1.45" fill="#44aa99"/>
<circle cx="408.62" cy="693.51" r="1.45" fill="#aa4499"/>
<circle cx="427.52" cy="673.54" r="1.45" fill="#ddcc77"/>
<circle cx="426.29" cy="688.78" r="1.45" fill="#117733"/>
<circle cx="426.12" cy="692.29" r="1.45" fill="#44aa99"/>
<circle cx="426.64" cy="694.92" r="1.45" fill="#332288"/>
<circle cx="427.52" cy="695.97" r="1.45" fill="#cc6677"/>
<circle cx="427.17" cy="700.7" r="1.45" fill="#88ccee"/>
<circle cx="439.43" cy="666.53" r="1.45" fill="#ddcc77"/>
<circle cx="440.48" cy="686.68" r="1.45" fill="#117733"/>
<circle cx="440.66" cy="692.46" r="1.45" fill="#332288"/>
<circle cx="439.26" cy="693.69" r="1.45" fill="#cc6677"/>
<circle cx="440.31" cy="699.82" r="1.45" fill="#88ccee"/>
<circle cx="452.57" cy="678.8" r="1.45" fill="#ddcc77"/>
<circle cx="452.4" cy="686.16" r="1.45" fill="#117733"/>
<circle cx="453.45" cy="694.92" r="1.45" fill="#cc6677"/>
<circle cx="454.15" cy="697.19" r="1.45" fill="#44aa99"/>
<circle cx="452.05" cy="697.72" r="1.45" fill="#332288"/>
<circle cx="451.7" cy="699.82" r="1.45" fill="#88ccee"/>
<circle cx="466.59" cy="673.19" r="1.45" fill="#ddcc77"/>
<circle cx="466.94" cy="684.58" r="1.45" fill="#117733"/>
<circle cx="464.84" cy="691.41" r="1.45" fill="#cc6677"/>
<circle cx="466.06" cy="695.27" r="1.45" fill="#aa4499"/>
<circle cx="466.06" cy="697.72" r="1.45" fill="#44aa99"/>
<circle cx="464.66" cy="699.47" r="1.45" fill="#332288"/>
<circle cx="466.06" cy="701.05" r="1.45" fill="#88ccee"/>
<circle cx="479.73" cy="673.19" r="1.45" fill="#ddcc77"/>
<circle cx="478.85" cy="678.8" r="1.45" fill="#117733"/>
<circle cx="479.2" cy="688.43" r="1.45" fill="#cc6677"/>
<circle cx="478.85" cy="690.71" r="1.45" fill="#aa4499"/>
<circle cx="479.38" cy="692.46" r="1.45" fill="#332288"/>
<circle cx="479.73" cy="694.57" r="1.45" fill="#44aa99"/>
<circle cx="478.85" cy="697.54" r="1.45" fill="#88ccee"/>
<circle cx="491.99" cy="673.89" r="1.45" fill="#ddcc77"/>
<circle cx="492.34" cy="679.67" r="1.45" fill="#117733"/>
<circle cx="491.46" cy="691.06" r="1.45" fill="#332288"/>
<circle cx="490.24" cy="691.41" r="1.45" fill="#aa4499"/>
<circle cx="490.94" cy="693.34" r="1.45" fill="#cc6677"/>
<circle cx="491.46" cy="697.54" r="1.45" fill="#88ccee"/>
<circle cx="503.2" cy="669.16" r="1.45" fill="#ddcc77"/>
<circle cx="504.25" cy="681.08" r="1.45" fill="#117733"/>
<circle cx="503.38" cy="689.31" r="1.45" fill="#cc6677"/>
<circle cx="504.6" cy="690.36" r="1.45" fill="#332288"/>
<circle cx="504.6" cy="699.82" r="1.45" fill="#88ccee"/>
<circle cx="516.34" cy="667.06" r="1.45" fill="#ddcc77"/>
<circle cx="518.09" cy="678.8" r="1.45" fill="#117733"/>
<circle cx="515.99" cy="687.21" r="1.45" fill="#cc6677"/>
<circle cx="516.52" cy="690.36" r="1.45" fill="#332288"/>
<circle cx="518.27" cy="696.32" r="1.45" fill="#88ccee"/>
<circle cx="535.42" cy="684.93" r="1.45" fill="#ddcc77"/>
<circle cx="534.37" cy="687.56" r="1.45" fill="#117733"/>
<circle cx="535.07" cy="697.54" r="1.45" fill="#cc6677"/>
<circle cx="535.77" cy="701.05" r="1.45" fill="#88ccee"/>
<circle cx="534.89" cy="701.22" r="1.45" fill="#332288"/>
<circle cx="545.4" cy="699.3" r="1.45" fill="#ddcc77"/>
<circle cx="546.28" cy="703.85" r="1.45" fill="#117733"/>
<circle cx="563.8" cy="687.03" r="1.45" fill="#117733"/>
<circle cx="564.32" cy="689.84" r="1.45" fill="#ddcc77"/>
<circle cx="563.8" cy="699.3" r="1.45" fill="#88ccee"/>
<circle cx="561.7" cy="701.22" r="1.45" fill="#cc6677"/>
<circle cx="576.59" cy="646.91" r="1.45" fill="#ddcc77"/>
<circle cx="576.06" cy="688.08" r="1.45" fill="#117733"/>
<circle cx="575.71" cy="694.22" r="1.45" fill="#cc6677"/>
<circle cx="575.36" cy="695.44" r="1.45" fill="#88ccee"/>
<circle cx="587.62" cy="678.97" r="1.45" fill="#ddcc77"/>
<circle cx="588.85" cy="691.41" r="1.45" fill="#88ccee"/>
<circle cx="590.08" cy="695.27" r="1.45" fill="#117733"/>
<circle cx="588.33" cy="700" r="1.45" fill="#cc6677"/>
<circle cx="589.55" cy="701.22" r="1.45" fill="#332288"/>
<circle cx="602.34" cy="677.92" r="1.45" fill="#ddcc77"/>
<circle cx="600.59" cy="694.92" r="1.45" fill="#117733"/>
<circle cx="602.87" cy="695.44" r="1.45" fill="#cc6677"/>
<circle cx="600.24" cy="697.72" r="1.45" fill="#aa4499"/>
<circle cx="601.11" cy="700.17" r="1.45" fill="#44aa99"/>
<circle cx="602.34" cy="703.85" r="1.45" fill="#88ccee"/>
<circle cx="614.08" cy="662.68" r="1.45" fill="#ddcc77"/>
<circle cx="613.38" cy="685.81" r="1.45" fill="#117733"/>
<circle cx="615.48" cy="694.04" r="1.45" fill="#cc6677"/>
<circle cx="615.48" cy="701.05" r="1.45" fill="#88ccee"/>
<circle cx="626.87" cy="682.3" r="1.45" fill="#117733"/>
<circle cx="626.52" cy="685.81" r="1.45" fill="#ddcc77"/>
<circle cx="626.87" cy="698.42" r="1.45" fill="#aa4499"/>
<circle cx="628.62" cy="699.3" r="1.45" fill="#88ccee"/>
<circle cx="640.77" cy="682.01" r="1.45" fill="#117733"/>
<circle cx="641.2" cy="683.18" r="1.45" fill="#ddcc77"/>
<circle cx="640.18" cy="694.56" r="1.45" fill="#88ccee"/>
<circle cx="639.31" cy="697.34" r="1.45" fill="#cc6677"/>
<circle cx="652.88" cy="688.72" r="1.45" fill="#cc6677"/>
<circle cx="653.61" cy="689.74" r="1.45" fill="#ddcc77"/>
<circle cx="653.91" cy="700.99" r="1.45" fill="#88ccee"/>
<circle cx="665.73" cy="684.64" r="1.45" fill="#ddcc77"/>
<circle cx="667.48" cy="686.82" r="1.45" fill="#88ccee"/>
<circle cx="666.75" cy="701.57" r="1.45" fill="#cc6677"/>
<text x="50.2" y="711.7" textLength="16.02" lengthAdjust="spacingAndGlyphs" text-anchor="end" transform="rotate(-45 50.2 711.7)">v1 V1</text>
<text x="61.5" y="711.7" textLength="17.47" lengthAdjust="spacingAndGlyphs" text-anchor="end" transform="rotate(-45 61.5 711.7)">v1 V2</text>
<text x="77.7" y="711.7" textLength="20.19" lengthAdjust="spacingAndGlyphs" text-anchor="end" transform="rotate(-45 77.7 711.7)">v1.1 T1</text>
<text x="90.5" y="711.7" textLength="22.6" lengthAdjust="spacingAndGlyphs" text-anchor="end" transform="rotate(-45 90.5 711.7)">v1.1 C3</text>
<text x="103.2" y="711.7" textLength="22.6" lengthAdjust="spacingAndGlyphs" text-anchor="end" transform="rotate(-45 103.2 711.7)">v1.1 C2</text>
<text x="116.8" y="711.7" textLength="21.15" lengthAdjust="spacingAndGlyphs" text-anchor="end" transform="rotate(-45 116.8 711.7)">v1.1 C1</text>
<text x="129.6" y="711.7" textLength="22.8" lengthAdjust="spacingAndGlyphs" text-anchor="end" transform="rotate(-45 129.6 711.7)">v1.1 St1</text>
<text x="142.3" y="711.7" textLength="24.25" lengthAdjust="spacingAndGlyphs" text-anchor="end" transform="rotate(-45 142.3 711.7)">v1.1 St2</text>
<text x="157.5" y="711.7" textLength="24.85" lengthAdjust="spacingAndGlyphs" text-anchor="end" transform="rotate(-45 157.5 711.7)">v1.1c C1</text>
<text x="167.9" y="711.7" textLength="26.3" lengthAdjust="spacingAndGlyphs" text-anchor="end" transform="rotate(-45 167.9 711.7)">v1.1c C2</text>
<text x="185" y="711.7" textLength="18.92" lengthAdjust="spacingAndGlyphs" text-anchor="end" transform="rotate(-45 185 711.7)">v2 V2</text>
<text x="197.9" y="711.7" textLength="17.47" lengthAdjust="spacingAndGlyphs" text-anchor="end" transform="rotate(-45 197.9 711.7)">v2 V1</text>
<text x="211" y="711.7" textLength="16.92" lengthAdjust="spacingAndGlyphs" text-anchor="end" transform="rotate(-45 211 711.7)">v2 T1</text>
<text x="223.8" y="711.7" textLength="18.37" lengthAdjust="spacingAndGlyphs" text-anchor="end" transform="rotate(-45 223.8 711.7)">v2 T2</text>
<text x="236.2" y="711.7" textLength="17.88" lengthAdjust="spacingAndGlyphs" text-anchor="end" transform="rotate(-45 236.2 711.7)">v2 C1</text>
<text x="249.5" y="711.7" textLength="19.33" lengthAdjust="spacingAndGlyphs" text-anchor="end" transform="rotate(-45 249.5 711.7)">v2 C2</text>
<text x="264.8" y="711.7" textLength="27.14" lengthAdjust="spacingAndGlyphs" text-anchor="end" transform="rotate(-45 264.8 711.7)">MO Sa2</text>
<text x="278.6" y="711.7" textLength="25.69" lengthAdjust="spacingAndGlyphs" text-anchor="end" transform="rotate(-45 278.6 711.7)">MO Sa1</text>
<text x="291.9" y="711.7" textLength="20.35" lengthAdjust="spacingAndGlyphs" text-anchor="end" transform="rotate(-45 291.9 711.7)">Mo C1</text>
<text x="305.5" y="711.7" textLength="23.44" lengthAdjust="spacingAndGlyphs" text-anchor="end" transform="rotate(-45 305.5 711.7)">MO C2</text>
<text x="318.9" y="711.7" textLength="23.03" lengthAdjust="spacingAndGlyphs" text-anchor="end" transform="rotate(-45 318.9 711.7)">MO V2</text>
<text x="332" y="711.7" textLength="21.58" lengthAdjust="spacingAndGlyphs" text-anchor="end" transform="rotate(-45 332 711.7)">MO V1</text>
<text x="345.2" y="711.7" textLength="19.11" lengthAdjust="spacingAndGlyphs" text-anchor="end" transform="rotate(-45 345.2 711.7)">mt M1</text>
<text x="357.6" y="711.7" textLength="20.56" lengthAdjust="spacingAndGlyphs" text-anchor="end" transform="rotate(-45 357.6 711.7)">mt M2</text>
<text x="372.8" y="711.7" textLength="19.74" lengthAdjust="spacingAndGlyphs" text-anchor="end" transform="rotate(-45 372.8 711.7)">mt C2</text>
<text x="384.4" y="711.7" textLength="18.29" lengthAdjust="spacingAndGlyphs" text-anchor="end" transform="rotate(-45 384.4 711.7)">mt C1</text>
<text x="400.3" y="711.7" textLength="23.22" lengthAdjust="spacingAndGlyphs" text-anchor="end" transform="rotate(-45 400.3 711.7)">mt* Br1</text>
<text x="412" y="711.7" textLength="24.67" lengthAdjust="spacingAndGlyphs" text-anchor="end" transform="rotate(-45 412 711.7)">mt* Br2</text>
<text x="429.6" y="711.7" textLength="23.23" lengthAdjust="spacingAndGlyphs" text-anchor="end" transform="rotate(-45 429.6 711.7)">ddS H1</text>
<text x="442.2" y="711.7" textLength="24.68" lengthAdjust="spacingAndGlyphs" text-anchor="end" transform="rotate(-45 442.2 711.7)">ddS H2</text>
<text x="455.1" y="711.7" textLength="25.92" lengthAdjust="spacingAndGlyphs" text-anchor="end" transform="rotate(-45 455.1 711.7)">ddS Bi2</text>
<text x="467.7" y="711.7" textLength="25.92" lengthAdjust="spacingAndGlyphs" text-anchor="end" transform="rotate(-45 467.7 711.7)">ddS Bi4</text>
<text x="481.5" y="711.7" textLength="24.47" lengthAdjust="spacingAndGlyphs" text-anchor="end" transform="rotate(-45 481.5 711.7)">ddS Bi1</text>
<text x="494.2" y="711.7" textLength="25.92" lengthAdjust="spacingAndGlyphs" text-anchor="end" transform="rotate(-45 494.2 711.7)">ddS Bi3</text>
<text x="507" y="711.7" textLength="24.68" lengthAdjust="spacingAndGlyphs" text-anchor="end" transform="rotate(-45 507 711.7)">ddS U2</text>
<text x="519.7" y="711.7" textLength="23.23" lengthAdjust="spacingAndGlyphs" text-anchor="end" transform="rotate(-45 519.7 711.7)">ddS U1</text>
<text x="538.8" y="711.7" textLength="18.29" lengthAdjust="spacingAndGlyphs" text-anchor="end" transform="rotate(-45 538.8 711.7)">s3 O1</text>
<text x="550.1" y="711.7" textLength="19.74" lengthAdjust="spacingAndGlyphs" text-anchor="end" transform="rotate(-45 550.1 711.7)">s3 O2</text>
<text x="567.7" y="711.7" textLength="20.15" lengthAdjust="spacingAndGlyphs" text-anchor="end" transform="rotate(-45 567.7 711.7)">Hy E4</text>
<text x="580.3" y="711.7" textLength="20.15" lengthAdjust="spacingAndGlyphs" text-anchor="end" transform="rotate(-45 580.3 711.7)">Hy E3</text>
<text x="593.5" y="711.7" textLength="18.7" lengthAdjust="spacingAndGlyphs" text-anchor="end" transform="rotate(-45 593.5 711.7)">Hy E1</text>
<text x="606.3" y="711.7" textLength="20.15" lengthAdjust="spacingAndGlyphs" text-anchor="end" transform="rotate(-45 606.3 711.7)">Hy E2</text>
<text x="618.7" y="711.7" textLength="20.15" lengthAdjust="spacingAndGlyphs" text-anchor="end" transform="rotate(-45 618.7 711.7)">Hy V2</text>
<text x="631.6" y="711.7" textLength="18.7" lengthAdjust="spacingAndGlyphs" text-anchor="end" transform="rotate(-45 631.6 711.7)">Hy V1</text>
<text x="644.7" y="711.7" textLength="20.56" lengthAdjust="spacingAndGlyphs" text-anchor="end" transform="rotate(-45 644.7 711.7)">Hy C3</text>
<text x="657.5" y="711.7" textLength="19.11" lengthAdjust="spacingAndGlyphs" text-anchor="end" transform="rotate(-45 657.5 711.7)">Hy C1</text>
<text x="671" y="711.7" textLength="20.56" lengthAdjust="spacingAndGlyphs" text-anchor="end" transform="rotate(-45 671 711.7)">Hy C2</text>
</svg>
</div>
</body></html>
